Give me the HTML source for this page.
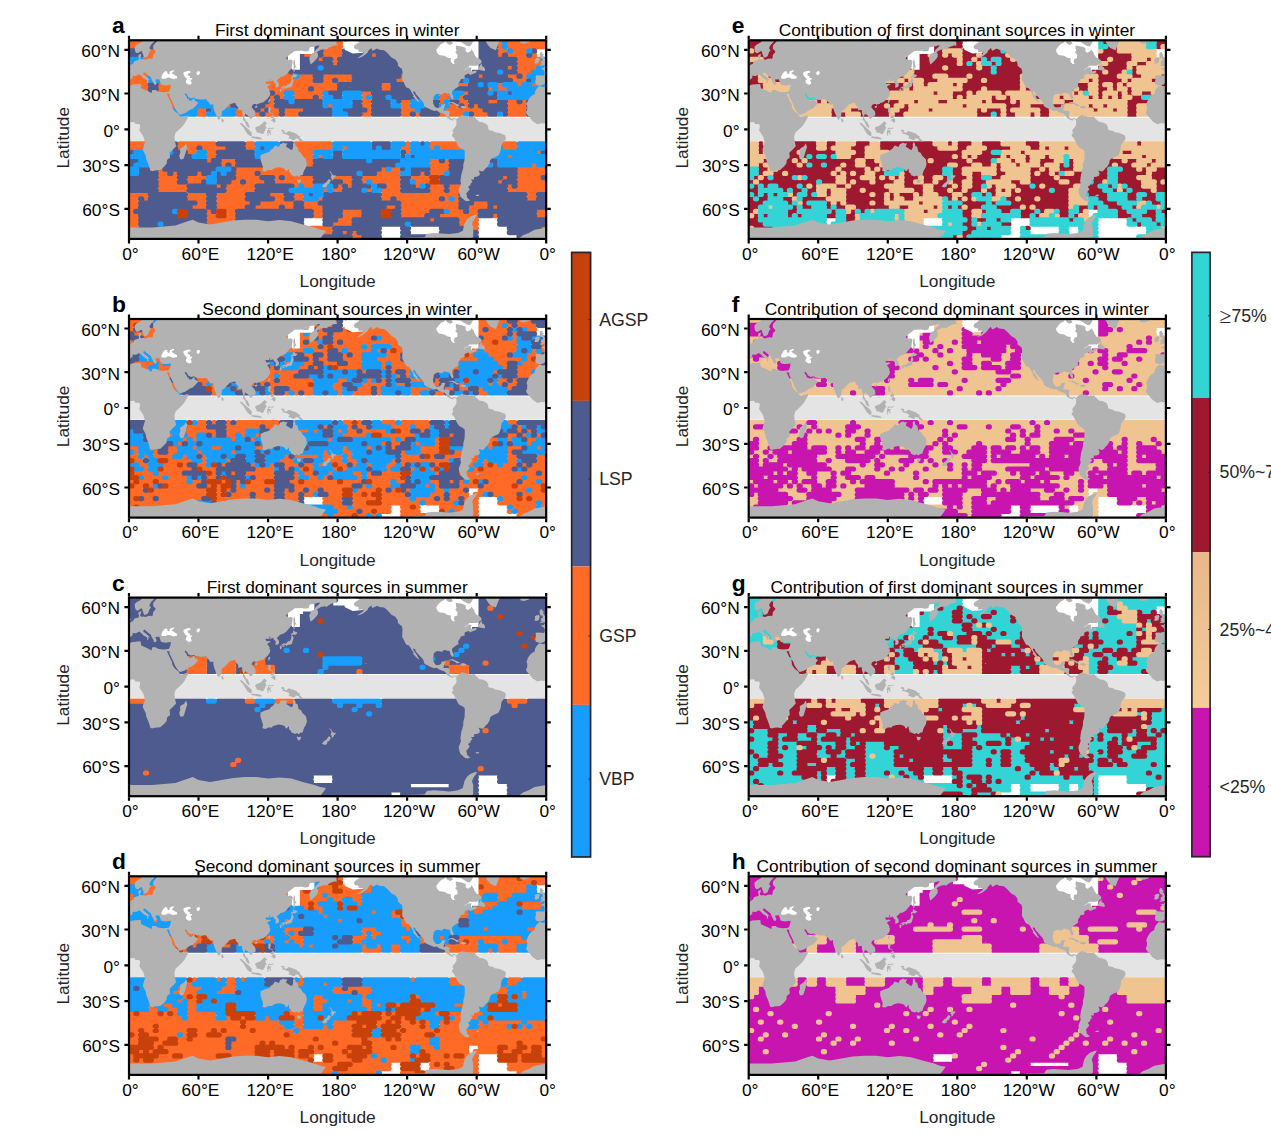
<!DOCTYPE html><html><head><meta charset="utf-8"><title>Dominant sources</title>
<style>html,body{margin:0;padding:0;background:#fff}svg{display:block}text{font-family:"Liberation Sans",Arial,sans-serif}</style></head><body>
<svg width="1271" height="1134" viewBox="0 0 1271 1134">
<defs>
<clipPath id="cp"><rect x="0" y="0" width="417.2" height="198.6"/></clipPath>
<g id="land1"><path fill="#b2b2b2" d="M-7,45.7 -2.3,46.6 3.5,44.3 11.6,43.7 12.2,48 17.4,50.1 22.6,52.8 23.2,49.7 26.7,49.7 29,51.1 33.6,51.9 37.4,51.6 39.6,51.5 37.8,53.3 41.1,60.6 43.1,64.3 43.2,67.1 45.8,70.9 50.1,74.3 50.2,75.6 52.1,76.8 59.3,75.1 59.1,76.9 55.6,83.2 53.3,86.1 49.3,90 46.7,92.2 45.4,96.5 45.9,100.6 47.1,105.9 44,109.1 40.6,112.5 41.1,117.3 38,119.8 37.7,123.3 35.3,126.1 31.3,129.7 25.5,130.2 23.2,131 21.3,130.2 20.6,127.4 19.1,123.1 17.2,118.6 16.7,115.3 13.7,109.5 16,101.8 14.3,96 10.4,90.1 11.2,85.2 10.1,83.8 6.4,83.8 5.2,81.7 1.7,81.9 -2.3,83.3 -5.2,83 -8.7,83.9 -13.2,81.1 -15.4,78.5 -17.4,76.2 -19.5,73.8 -20.2,71.8 -19,69.7 -18.9,66.1 -19.7,64.3 -18.5,60.9 -16.8,57.9 -14.9,55.8 -11.6,53.8 -11.2,51.2 -9.9,48.8ZM13.9,-13.6 13.9,-0.1 13.1,0.7 11.6,2.4 9.9,3.3 7.5,4.6 5.8,6.4 5.8,8.7 6.4,11.6 7.6,12.8 9.3,12.8 11,11.4 12.3,10.7 13,11.2 13.7,13.4 14.6,15.8 15.1,17.2 16.6,17.1 18.9,15.9 19.7,13.8 20.4,11.8 22,9.9 20.6,8.5 20.6,6.9 22.3,4.2 25,1.4 25.8,-0.8 29,-0.4 27.8,1.1 24.3,5.1 24.1,8.1 25.5,10 26.7,10.9 26.1,12.4 24.9,13.6 24.1,14.6 23.9,17.4 22.9,18.7 21.6,18.2 19.1,18.5 16.5,19.5 14.5,18.8 12.6,19.2 11.6,18.7 11,17.5 11.9,15.9 12.2,13.4 9.5,14.6 9.4,16.9 10.2,18 9.5,19.8 7.5,20.3 5.4,21 4.1,23.5 1.9,24.5 0.2,26.4 -2.1,26.1 -1.9,27.6 -3.5,27.5 -5.4,28.2 -2.5,29.8 -1.4,31.6 -1.4,33.6 -2.1,35.3 -4.6,35.2 -9.3,34.9 -10.7,35.6 -10.2,38 -11,41.8 -10.3,44.1 -7,45.1 -6.1,45.3 -2.3,44.3 -0.6,42.1 0.2,40.3 3.7,37.4 3.5,35.4 7,35.7 10.2,33.9 11.9,35.2 14.3,37.7 18.1,40 18.2,42.7 19.7,41.4 19.1,40.3 19.7,39.3 21.4,39.9 18.5,37.4 15.8,35.2 14.3,34 14.4,32.5 15.9,32.2 17.4,33.7 22,37.3 22.6,39.3 24.3,42.1 25.1,44.3 26.7,44.7 27.8,42.7 26.7,40.7 26.4,39.3 27.8,39.3 30.1,38.9 30.5,40 31.3,42.1 31.9,44.1 33.6,44.7 35.3,45 37.1,45.1 39.4,44.7 41.7,44.5 41.7,46.7 40.6,50 39.6,51.5 37.8,53.3 40.6,53.8 40.4,55.7 42.2,59.4 44.3,63.7 45.9,67.9 48.2,71.5 50.3,74.2 52.1,74.1 56.2,72.7 60.5,69.7 63.7,68.5 67.2,65.1 69.3,62.5 65.7,60.3 65.2,57.9 64,58.8 62.6,60.5 59.8,60.3 59.7,58.2 58.2,58.8 57.9,56.9 55.6,53.8 56.6,52.8 58.2,54.6 59.3,56.6 62.1,57.9 65.2,57.3 66.4,58.5 71.3,59.2 77.3,59 78.2,60.6 79.4,61.5 80.2,62.7 81.5,64.4 83.6,64.2 84.3,63.7 84.4,66.7 85.2,70.3 86.7,73.8 88.4,77.8 89.8,79.6 90.6,78.6 91.8,77 92.6,75 92.9,70.9 95.4,69.5 98.5,66.1 100.8,63.7 103.1,63.2 104.9,62.5 106.4,62.7 107,64.7 109.3,67.3 109.4,70.3 111.3,69.7 113.1,69.7 113.3,72.7 114.3,76.2 113.9,79.1 116.2,82 117.6,85.7 119.9,87.4 120.8,87.3 119.8,84.4 118.8,82 117,81 115.9,78.5 115,76.8 115.9,74.4 116.5,73.3 117,74.2 118.8,75 119.9,76.8 121.7,78.9 123.8,76.9 126.6,75.3 126.7,73.8 126.1,70.9 124,68.7 122.5,66.7 123.7,64.5 125.4,63.6 127.2,63.7 127.9,65.1 128.1,63.9 131.5,62.7 134.4,61.9 136.7,60 138.7,58.2 140.8,55.1 141.3,52.5 140,50.6 141.2,50.9 139.3,47.6 138.1,46.7 139.4,45.4 142,44.1 140.2,43.3 137.9,43.7 136.5,42.1 136.7,41.1 140.2,41.1 140.6,38.9 141.6,39.3 140.5,41.6 144,40.2 145.1,42.1 146.7,43.4 146.5,47.4 149.1,46.8 150,45.4 150,43.4 147.8,40.3 150.3,38 151.5,36.8 154.1,36.1 157,34.5 159.9,30.9 162.6,27.9 163.2,24.1 163.8,20.7 162,19.2 159.3,19.8 156.7,18.2 159.3,15.4 162.8,12.9 165.7,10.7 172.7,10.4 176.2,11.2 179.6,10.7 180.8,6.9 184.8,6.4 188.9,5.1 191.2,5.1 188.9,7.8 187.2,9 185.2,12.1 183.1,12.9 181.7,14.6 180.3,17.9 180.8,21 181.6,24.1 183.5,22.6 185.4,21 187.5,18.7 189.1,16.2 188.9,13.3 187.7,12.1 189.2,10.9 191.8,9.5 195.9,8.7 197.4,9.5 199.3,7.8 201.6,6.4 205.1,5.1 207.8,5.1 207.4,1.4 205.7,1.1 208.6,0.5 214.4,0.9 217.3,1.6 219,-0.4 220.2,-13.6ZM-194.7,-13.6 -194.7,-0.6 -186.6,1.6 -190.6,4.2 -191.8,5.1 -192.4,6.9 -191.2,8.7 -187.7,9.5 -187.7,11.8 -182.5,11.8 -183.1,13.8 -186.6,16.2 -188.9,17.9 -191,18.5 -186.6,17.5 -183.7,16.2 -180.8,14.1 -178.5,12.1 -177.9,10.4 -175,7.8 -173.8,10.4 -171.5,9.5 -169.2,8.1 -166.9,9.5 -162.2,9.9 -159.3,12.1 -157,14.6 -154.7,17.1 -151.8,18.7 -150.9,19.2 -148.9,21.8 -148.1,24.1 -148.7,24.9 -145.7,27.6 -144.5,28.1 -143.7,31.3 -143.9,35.9 -144,39.5 -142,43 -141.3,44.6 -139.8,47.2 -137.3,48 -135.8,49.8 -134.4,52.5 -132.5,55.1 -133.3,55.9 -130.1,59.7 -127.5,61.9 -126.9,61.3 -128.1,60 -129.2,57.6 -131,55.1 -132.9,52.5 -133,51 -131,51.6 -130.4,53.8 -128.1,56.3 -126.3,58.5 -123.4,61.5 -122.3,63.7 -122.3,65.5 -120.5,66.9 -118.2,68 -115.7,69.3 -111.8,70.6 -109.5,70.1 -107,72 -104.3,73 -101.6,73.8 -101.4,74.1 -99.4,76.2 -99.3,77.4 -97.3,78.5 -96.2,79.5 -94.4,80 -93.1,80.5 -92.7,79.1 -92.1,78.5 -90.4,79.4 -89.8,80.3 -89.6,78.9 -92.1,77.8 -93.9,78.8 -95.6,78.2 -96.8,76.8 -97,74.4 -96.4,71.5 -98.5,70.4 -102,70.5 -102.8,70.3 -102.2,67.9 -101.4,65.5 -100.8,63.7 -104.6,64.1 -105.1,66.1 -106.4,67.2 -109.5,67.7 -111.3,66.5 -112.8,63.7 -113.3,60.6 -112.6,58.2 -112.4,55.7 -110.1,54 -108.4,53.4 -106,54 -103.7,54.2 -103.1,52.8 -100.8,52.5 -99.1,53.2 -97.3,53.2 -96,54.4 -96,56.3 -94.8,58.2 -93.9,59.2 -92.9,58.8 -92.7,56.9 -94.2,53.2 -93.9,50.6 -92.1,49.3 -90.2,48 -87.6,46.3 -88.1,44.1 -87.5,42.7 -85.8,40.3 -85.8,39.2 -83.4,38.4 -81.1,37.7 -82,36.3 -81.1,34.7 -77.6,33.3 -76.5,34 -76.5,35 -73.6,33.6 -70.7,32.6 -69.5,31.6 -70.1,30.1 -74.7,31.3 -75.3,29 -74.5,27.3 -77.1,26.9 -79.4,27.9 -82.3,30.3 -80.5,28.2 -77.6,26.7 -77.1,25.4 -69.5,25.4 -66.1,23.4 -64.6,22.6 -64.9,20.3 -67.2,18.2 -69.5,17.4 -71.5,14.6 -72.4,12.1 -74.7,9 -75.3,10.4 -78.2,12.4 -80.5,11.2 -80.5,7.8 -83.4,6.5 -90.2,5.1 -90.4,8.1 -89.6,10.4 -91,11.8 -88.7,14.6 -88.9,17.9 -91.6,18.7 -92.4,21.8 -91.3,23.7 -93.3,23.7 -95.4,21.2 -95.4,17.9 -98.5,17.4 -102,15.4 -107.2,14.6 -109.5,11.8 -109.9,9.5 -107.2,6 -105.1,3.8 -102,2.4 -99.7,-1.4 -99.7,-13.6ZM-74.7,4.2 -76.5,6.2 -79.4,5.5 -82.9,3.3 -85.8,1.4 -90.4,1.1 -89.2,-13.6 -71.9,-13.6 -71.9,-1.4ZM-93.3,3.3 -96.2,4.7 -99.1,3.3 -100.8,0.5 -98.5,-1.4 -94.4,1.4ZM-68.7,29.3 -64.3,30.3 -61.4,30.6 -61.1,29.1 -62,26.9 -64.3,25.7 -64.3,23.4 -66.4,24.9 -67.2,27.2ZM-50.4,9.9 -55.6,7.8 -57.9,5.1 -60.3,1.4 -62,-1.4 -62.6,-13.6 -25.5,-13.6 -34.8,-5.3 -41.7,-1.4 -46.4,0.5 -48.1,4.2 -49.8,8.7ZM-27.8,-0.4 -25.5,2 -26.1,2.7 -22,3.5 -17.4,2 -15.8,0.5 -16.8,-2 -20.9,-1.8 -26.1,-2.2ZM-6.6,25.7 -4.1,25.2 -1.2,24.6 1.6,23.8 0.8,23.4 2,21.7 0.3,21 0,19.9 -1.7,17.9 -2.3,16.2 -3.5,16.2 -2.3,13.8 -4.1,13.4 -3.5,11.9 -5.8,11.9 -6.7,13.8 -6.4,16.2 -5.6,17.9 -3.7,18 -3.5,19.5 -3.5,20.4 -5.2,20.6 -4.9,22.1 -6,22.9 -4.1,23.5 -3.5,23.7 -5,24ZM-11.6,23.1 -9.3,23.1 -7.3,22.3 -7,20.3 -6.4,18.7 -7.3,17.5 -9.5,17.7 -11.6,19.2 -11,20.7 -11.6,22.3ZM-89.8,80.3 -89.6,78.9 -87.5,76.8 -86,75.8 -83.1,74.5 -82.6,76.2 -81.1,75.3 -79.2,76.5 -76.5,76.7 -74.2,76.8 -71.9,76.5 -70.7,77.9 -69.5,79.1 -66.6,81.7 -63.7,82 -60.3,83.4 -59.1,84.4 -57.9,86.9 -57.9,89 -56.2,90.1 -53.3,90.4 -51.3,92 -47.5,92.4 -44.6,93.4 -40.9,95.1 -40.3,97.7 -41.1,100 -43.2,102.4 -44.6,104.1 -45.2,107.1 -45.4,109.8 -46.4,112.5 -47.5,114.9 -49.8,116.1 -52.1,117.1 -55,118.6 -56.3,120.4 -56.6,122.9 -58.5,126.1 -60.6,128 -62,130 -63.7,131.1 -66.1,130.6 -67.7,130 -66.3,133 -66.8,135.3 -69.5,136.5 -72.1,136.6 -72.2,139.3 -75.3,139.3 -73.8,141.4 -75.6,143.5 -75.9,145 -78.2,146.4 -76.5,149 -78.2,151.3 -80,153.1 -79.2,155.8 -79.4,156.9 -76.5,159.6 -75.6,160 -78.8,160.9 -81.1,160.4 -83.4,158.5 -85.8,156.2 -86.9,153.1 -87.5,149.3 -86.3,146.4 -85.2,143.5 -85.8,140.7 -85.4,138 -84.9,134.2 -84,131.3 -82.9,127.4 -82.9,124.2 -81.7,119.8 -81.5,116.1 -81.4,111.9 -81.6,110.4 -83.4,108.9 -86.9,107.1 -88.4,105.1 -89.5,103 -91,100 -92.5,97.1 -94.1,96 -94.2,94.2 -93.1,92.9 -92.7,91.7 -93.8,91.3 -93.6,90.1 -92.7,88.4 -91.6,87.6 -91.2,87 -89.8,84.6 -89.7,82.6ZM-70.7,154.6 -67.2,154.3 -67.2,155.7 -70.1,155.8ZM131.5,114.9 132.1,114.7 135.4,113.1 137.9,112.5 140.8,111.3 141.7,109.5 143.1,108.9 144.3,107.7 146,105.3 148.1,105.9 149.3,106.5 150.1,106.4 151.2,103.6 153.6,103 153.8,102.3 156.4,103.2 158.5,103 157.4,105.3 157,106.5 159.3,107.7 161.7,109.5 163.2,109.5 164.2,106.5 164,103.8 165.1,101.6 166.3,103.6 166.6,105.8 168.4,106.5 169.2,109.5 169.5,111.3 172.1,112.7 173.3,115.3 174.8,116.7 177.1,118.9 177.5,121.7 177.9,123.3 177.3,126.1 176.5,128 175.2,130 174.2,132.6 173.8,134.6 171.5,135.1 169.7,136.6 167.8,135.3 166.3,136.3 163.8,135.5 162.2,134.6 161.7,132.6 160.2,132.1 159.9,129.3 159.6,128.3 158.8,129.7 157.6,131 157,130.9 155.5,128.4 153,127.4 149.5,126.9 146,127.8 143.7,128.7 143.1,129.8 139.1,129.8 136.7,131.3 134.4,131 133.3,130.4 134.1,127.4 133.3,124.8 132.3,121.7 131.5,119.2ZM167.7,138.9 169.8,139.5 171.9,139.2 171.9,141 170.9,142.5 169.2,143 168.3,141.1ZM200.1,130.5 202,131.7 202.8,133.2 203.8,134.6 205.4,135.3 206.9,134.9 206.2,136.9 205.1,137.3 204.3,139.3 203.2,140.2 202.6,139.7 202.8,138.2 201.4,137 202.3,135.9 202.5,133.9 200.7,131.5ZM200.1,138.6 202,140.3 200.5,142.5 200.3,143.4 198.5,144 197.9,146.3 195.9,147.3 194.1,146.7 193,146.1 195,143.5 197.6,141.8 199.3,139.2ZM-208.6,238.3 -208.6,205.5 -191.2,205.5 -183.1,205.5 -173.8,204.3 -162.2,201.8 -150.7,199.7 -146,198.5 -141.4,197.4 -129.8,197.1 -121.7,196.9 -119.4,193.5 -112.4,192.7 -104.3,193.1 -97.3,193.8 -92.7,193.3 -88.1,192.7 -83.4,190.5 -81.7,183.3 -79.4,179.4 -75.9,176.5 -72.4,174.9 -69,174.1 -70.1,176.5 -72.4,179.4 -74.2,183.3 -73,187.3 -73,191.6 -73,196 -74.2,198.3 -71.9,203 -52.1,205.5 -40.6,204.3 -34.8,200.6 -29,199.5 -23.2,194.9 -17.4,192.7 -11.6,189.4 -5.8,188.4 0,187.3 11.6,187.3 23.2,187.3 34.8,186.3 46.4,185.3 57.9,181.3 63.7,179.4 69.5,182.3 81.1,184.3 92.7,182.3 104.3,180.3 115.9,179.4 127.5,179.4 139.1,180.9 150.7,179.8 162.2,180.9 173.8,184.3 185.4,187.3 191.2,189.4 197,190.5 194.7,193.8 191.2,198.3 190.1,205.5 208.6,205.5 208.6,238.3ZM110.4,82.5 113,83 116.5,86.4 120.2,89.6 122.8,92.5 122.6,95.7 121.1,95.7 118.4,93.6 116.2,90.1 114.4,87 112.4,84.9ZM121.9,96.9 123.8,96 125.7,96.5 128.4,96.4 130.6,97 132.7,98 132.6,99.1 128.6,98.6 125.2,98 123.3,97.6ZM126.3,87.3 127,86.7 129,85.9 131,85.3 133.3,83.2 135.4,80.9 136.4,81.7 138.1,83 136.7,84 136.5,86.1 137.8,87.8 136.2,89 136.2,90.1 134.9,91.9 134.4,93.4 132.8,93.7 131,92.7 129.4,92.5 127.7,92.2 127.5,90.5 126.3,88.8ZM139.1,88.1 140.2,87.5 142.5,87.8 144.9,87.1 144.3,88.5 142.5,88.5 140.2,88.5 139.4,89.9 140.8,90 142.9,90 141.2,91.2 141.7,92.8 142.3,94.6 141.3,94.2 140.2,92.1 139.4,92.5 139.5,95.4 138.5,95.4 138.5,93 137.9,92.2 138.7,90.1ZM151.8,89.9 153.6,89.5 155.3,89.9 155.5,91.9 157,92.8 159.7,90.7 163.4,92 167.5,93.4 169,95.1 171.3,96 170.4,96.9 171.5,98.3 174.4,101 173.6,101.2 170.9,100.6 169.2,98.5 166.9,97.9 165.7,99.7 163.4,99.6 161.1,98.3 159.9,98.6 159.6,97.1 160.7,96.9 159.7,95.1 157,94.1 154.7,93.3 153.9,93.6 153.2,92.4 155.1,91.5 153,91.3ZM139.4,67.3 141.6,67.3 141.7,69.7 140.9,71.5 142,72.7 143.7,72.9 143.7,74.3 142.3,73.1 140.8,73 139.8,72.3 139.1,70.9 139.4,70.1ZM141.4,77.4 142.5,75.6 144.3,74.4 145.4,76 144.9,77.4 143.1,77.9ZM141.4,80.9 143.1,79 145.4,77.7 146.6,79.7 146.3,81.7 145.4,82.4 143.9,81.4 143.1,80.3ZM140.2,59.2 141.3,59.4 140.8,61.3 140,63.1 139.2,61.9 139.6,60ZM126,66.3 127.5,65.5 128.6,65.9 127.9,67.3 126.9,67.7 126,67.2ZM92.5,77.7 93.9,78.8 94.8,80.3 94.4,81.6 93.2,82 92.5,80.6ZM150.7,48.7 151.8,48.1 152.9,49.3 152.2,51.5 151,51.6 150.9,50ZM153.6,48 155.9,47.6 155.5,48.7 154.1,49.3 153.3,49.1ZM151.7,47.9 153.6,47.6 155.9,47.1 156.7,47.5 157.4,48.7 158.5,47.5 159.3,47.1 160.9,47.1 162,46.7 163.2,45.8 163.4,44.1 164.1,42.1 164.6,40.6 163.9,38.1 162.6,38.4 162.2,40 162,41.6 160.5,43.7 159,43.7 158.4,44.3 157.6,45.7 156.4,45.8 154.4,45.9 153,46.8 151.8,47.5ZM162.2,38 163.4,37.7 163.6,36.7 166.1,37.3 168.6,35.4 167.3,34.5 165.7,34 164.2,32.5 164.1,35.2 162.7,35.6 162,37ZM164.6,31.7 166.1,30.6 165.4,29.4 166,26.9 167.6,27.2 166.1,24.1 166.1,21 165.4,19 164.6,20.4 164.3,23.4 164.7,27.2 164.4,29.4ZM57.1,103 58.3,107.1 57.4,109.5 56.2,113.7 54.7,118.3 52.7,119.2 51,118.6 50.2,115.5 51.3,112.5 51,108.9 52.7,107.5 55,106.3 56.2,104.4ZM-98.3,63.2 -96.2,61.9 -93.3,61.7 -89.8,63.4 -86.9,64.7 -86,65.3 -89.8,65.6 -90.4,64.7 -92.7,63.4 -95,62.6ZM-86.2,67.3 -84.6,65.6 -82.3,65.7 -80.5,66.3 -79.3,67.2 -81.1,67.7 -82.9,68.3 -84,67.7ZM-90.7,67.4 -88.4,67.7 -89.2,68.1ZM-77.9,67.4 -76.1,67.5 -77.1,67.9ZM-180.8,65.3 -179.6,65.7 -180.3,66.7Z"/><path fill="#fff" d="M32.4,38 33.6,38.4 36.5,38.4 38.8,37.3 40.6,37.3 42.3,38.2 44.6,38.8 48.1,38 48.1,36.3 45.8,34.9 43.5,33.5 42.5,32.6 44.6,31.2 45.5,30 43.5,30.1 40.9,31.2 40.6,32.3 41.1,32.9 39.1,33.9 38,32.3 38.8,31.6 36.5,30.7 35.3,31.6 34.4,32.7 33.3,34.5 32.4,36.6ZM54.5,32.3 57.4,30.9 59.7,30.4 61.4,30.9 61.4,32.6 59.5,32.6 59.1,33.7 58.3,34 59.7,35.6 61.2,36.1 60.8,37.8 63.2,37.8 62.9,38.9 61.3,40 62.3,41.4 62.5,43.7 60.3,44.5 58.3,43.7 56.8,42.1 57.1,39.6 58.3,39.5 57.4,38 56,36.6 55,35.2 54.5,33.7ZM67.6,32.3 69,30.7 70.7,31.2 71,33 69.5,35 67.9,34.5Z"/></g>
<g id="nd1"><path fill="#fff" d="M-115.9,-1.4 -67.7,-1.4 -67.7,29.4 -74.2,29.4 -74.2,31.6 -83.4,31.6 -115.9,31.6ZM158.8,6 185.4,6 185.4,13.8 170.9,13.8 170.9,29.4 163.4,29.4 158.8,22.6ZM215.6,-1.4 234.1,-1.4 234.1,12.4 223.7,13.3 215.6,9.5Z"/></g>
<g id="nodata"><use href="#nd1"/><use href="#nd1" x="417.2"/><use href="#nd1" x="-417.2"/></g>
<g id="land"><use href="#land1"/><use href="#land1" x="417.2"/><use href="#land1" x="-417.2"/></g>
</defs>
<rect width="1271" height="1134" fill="#fff"/>
<g transform="translate(129,40.3)">
<g clip-path="url(#cp)">
<path d="M1.9,2.1h10.8M191.1,2.1h20.5M370.6,2.1h1.1M380.3,2.1h35M1.9,6.3h10.8M191.1,6.3h20.5M370.6,6.3h1.1M380.3,6.3h35M16.5,10.6h49.6M176.5,10.6h5.9M195.9,10.6h15.6M370.6,10.6h5.9M385.1,10.6h10.8M16.5,14.8h49.6M123.2,14.8h15.6M176.5,14.8h5.9M195.9,14.8h15.6M244.5,14.8h1.1M370.6,14.8h1.1M380.3,14.8h15.6M404.5,14.8h1.1M16.5,19h44.7M118.3,19h25.3M191.1,19h1.1M205.6,19h1.1M390,19h20.5M21.3,23.2h35M113.5,23.2h35M205.6,23.2h1.1M390,23.2h20.5M16.5,27.5h1.1M98.9,27.5h54.4M380.3,27.5h1.1M390,27.5h15.6M6.8,31.7h10.8M94.1,31.7h64.1M278.4,31.7h20.5M390,31.7h10.8M1.9,35.9h15.6M94.1,35.9h69M171.7,35.9h10.8M195.9,35.9h25.3M273.6,35.9h25.3M351.2,35.9h1.1M380.3,35.9h5.9M394.8,35.9h1.1M1.9,40.1h15.6M35.9,40.1h20.5M94.1,40.1h88.4M195.9,40.1h5.9M210.5,40.1h10.8M268.7,40.1h25.3M312.4,40.1h1.1M385.1,40.1h10.8M1.9,44.4h15.6M31,44.4h25.3M94.1,44.4h112.6M254.2,44.4h5.9M278.4,44.4h15.6M312.4,44.4h25.3M370.6,44.4h1.1M390,44.4h1.1M404.5,44.4h5.9M1.9,48.6h15.6M31,48.6h20.5M94.1,48.6h83.5M186.2,48.6h20.5M254.2,48.6h5.9M312.4,48.6h5.9M360.9,48.6h1.1M370.6,48.6h5.9M1.9,52.8h15.6M31,52.8h20.5M94.1,52.8h20.5M147.4,52.8h5.9M166.8,52.8h25.3M234.8,52.8h5.9M312.4,52.8h5.9M336.6,52.8h1.1M6.8,57h10.8M31,57h20.5M94.1,57h20.5M142.6,57h1.1M152.3,57h1.1M166.8,57h15.6M191.1,57h1.1M234.8,57h1.1M312.4,57h5.9M331.8,57h1.1M6.8,61.3h10.8M26.2,61.3h25.3M94.1,61.3h20.5M142.6,61.3h1.1M234.8,61.3h5.9M273.6,61.3h5.9M312.4,61.3h1.1M331.8,61.3h5.9M360.9,61.3h5.9M380.3,61.3h5.9M394.8,61.3h1.1M11.6,65.5h39.9M94.1,65.5h5.9M113.5,65.5h1.1M137.7,65.5h5.9M200.8,65.5h1.1M234.8,65.5h5.9M273.6,65.5h5.9M322.1,65.5h5.9M336.6,65.5h1.1M346.3,65.5h1.1M380.3,65.5h15.6M16.5,69.7h25.3M69.8,69.7h5.9M108.6,69.7h5.9M132.9,69.7h1.1M142.6,69.7h5.9M157.1,69.7h15.6M239.6,69.7h1.1M273.6,69.7h10.8M317.2,69.7h35M380.3,69.7h15.6M69.8,73.9h5.9M108.6,73.9h5.9M128,73.9h1.1M137.7,73.9h10.8M157.1,73.9h10.8M234.8,73.9h5.9M273.6,73.9h5.9M288.1,73.9h1.1M312.4,73.9h20.5M346.3,73.9h10.8M380.3,73.9h15.6M1.9,103.5h20.5M50.4,103.5h35M118.3,103.5h5.9M166.8,103.5h35M278.4,103.5h1.1M302.7,103.5h83.5M1.9,107.8h20.5M50.4,107.8h15.6M74.7,107.8h20.5M118.3,107.8h5.9M166.8,107.8h35M215.4,107.8h1.1M273.6,107.8h5.9M302.7,107.8h1.1M312.4,107.8h35M375.4,107.8h10.8M60.1,112h5.9M79.5,112h5.9M166.8,112h15.6M278.4,112h1.1M409.4,112h1.1M79.5,116.2h5.9M166.8,116.2h15.6M191.1,116.2h1.1M380.3,116.2h1.1M79.5,120.4h1.1M94.1,120.4h10.8M147.4,120.4h35M302.7,120.4h5.9M317.2,120.4h1.1M31,124.7h1.1M94.1,124.7h1.1M103.8,124.7h1.1M142.6,124.7h39.9M302.7,124.7h15.6M404.5,124.7h1.1M31,128.9h1.1M108.6,128.9h54.4M254.2,128.9h1.1M263.9,128.9h5.9M302.7,128.9h15.6M390,128.9h25.3M31,133.1h5.9M45.6,133.1h1.1M69.8,133.1h1.1M108.6,133.1h15.6M132.9,133.1h35M249.3,133.1h20.5M293,133.1h1.1M302.7,133.1h10.8M390,133.1h25.3M31,137.3h15.6M60.1,137.3h15.6M108.6,137.3h20.5M147.4,137.3h1.1M157.1,137.3h25.3M205.6,137.3h15.6M234.8,137.3h35M283.3,137.3h15.6M375.4,137.3h1.1M390,137.3h20.5M31,141.6h15.6M60.1,141.6h10.8M103.8,141.6h5.9M118.3,141.6h15.6M147.4,141.6h35M215.4,141.6h5.9M234.8,141.6h1.1M244.5,141.6h25.3M288.1,141.6h10.8M370.6,141.6h1.1M390,141.6h25.3M31,145.8h25.3M89.2,145.8h1.1M98.9,145.8h25.3M166.8,145.8h1.1M176.5,145.8h5.9M210.5,145.8h1.1M220.2,145.8h1.1M259,145.8h10.8M288.1,145.8h1.1M302.7,145.8h10.8M322.1,145.8h10.8M380.3,145.8h1.1M390,145.8h25.3M31,150h25.3M98.9,150h25.3M195.9,150h1.1M205.6,150h5.9M239.6,150h1.1M254.2,150h15.6M302.7,150h10.8M322.1,150h10.8M380.3,150h35M1.9,154.2h15.6M60.1,154.2h15.6M89.2,154.2h25.3M142.6,154.2h10.8M166.8,154.2h5.9M254.2,154.2h73.8M399.7,154.2h5.9M1.9,158.5h5.9M16.5,158.5h1.1M60.1,158.5h15.6M89.2,158.5h25.3M147.4,158.5h5.9M166.8,158.5h5.9M191.1,158.5h1.1M254.2,158.5h5.9M268.7,158.5h39.9M317.2,158.5h1.1M326.9,158.5h1.1M399.7,158.5h5.9M1.9,162.7h5.9M69.8,162.7h5.9M89.2,162.7h30.2M132.9,162.7h30.2M176.5,162.7h10.8M273.6,162.7h54.4M346.3,162.7h10.8M1.9,166.9h5.9M65,166.9h10.8M89.2,166.9h25.3M128,166.9h20.5M157.1,166.9h5.9M176.5,166.9h15.6M259,166.9h5.9M273.6,166.9h54.4M341.5,166.9h15.6M365.7,166.9h1.1M1.9,171.1h1.1M79.5,171.1h1.1M98.9,171.1h5.9M186.2,171.1h5.9M215.4,171.1h15.6M273.6,171.1h25.3M322.1,171.1h10.8M341.5,171.1h5.9M409.4,171.1h5.9M1.9,175.4h5.9M79.5,175.4h5.9M98.9,175.4h5.9M186.2,175.4h5.9M215.4,175.4h15.6M273.6,175.4h20.5M312.4,175.4h35M365.7,175.4h1.1M409.4,175.4h5.9M1.9,179.6h5.9M79.5,179.6h25.3M210.5,179.6h10.8M302.7,179.6h1.1M331.8,179.6h15.6M1.9,183.8h5.9M79.5,183.8h25.3M205.6,183.8h15.6M331.8,183.8h15.6M1.9,188h5.9M79.5,188h25.3M181.4,188h20.5M336.6,188h10.8M414.2,188h1.1M1.9,192.3h5.9M79.5,192.3h25.3M181.4,192.3h20.5M215.4,192.3h1.1M225.1,192.3h1.1M414.2,192.3h1.1M1.9,196.5h5.9M79.5,196.5h25.3M225.1,196.5h5.9M414.2,196.5h1.1" stroke="#ff6a27" stroke-width="5.2" stroke-linecap="round" fill="none"/><path d="M16.5,2.1h49.6M128,2.1h59.3M225.1,2.1h64.1M322.1,2.1h20.5M351.2,2.1h15.6M16.5,6.3h49.6M128,6.3h59.3M225.1,6.3h69M317.2,6.3h20.5M351.2,6.3h15.6M1.9,10.6h10.8M128,10.6h44.7M186.2,10.6h5.9M215.4,10.6h83.5M326.9,10.6h39.9M404.5,10.6h1.1M1.9,14.8h10.8M142.6,14.8h30.2M186.2,14.8h5.9M215.4,14.8h25.3M249.3,14.8h59.3M331.8,14.8h35M375.4,14.8h1.1M399.7,14.8h1.1M147.4,19h39.9M195.9,19h5.9M210.5,19h175.7M152.3,23.2h49.6M210.5,23.2h175.7M157.1,27.5h30.2M195.9,27.5h180.5M385.1,27.5h1.1M162,31.7h112.6M307.5,31.7h59.3M375.4,31.7h10.8M186.2,35.9h5.9M225.1,35.9h44.7M336.6,35.9h10.8M356,35.9h20.5M390,35.9h1.1M186.2,40.1h5.9M205.6,40.1h1.1M225.1,40.1h39.9M317.2,40.1h15.6M341.5,40.1h39.9M399.7,40.1h1.1M21.3,44.4h5.9M210.5,44.4h39.9M263.9,44.4h10.8M341.5,44.4h5.9M356,44.4h1.1M21.3,48.6h5.9M181.4,48.6h1.1M210.5,48.6h39.9M263.9,48.6h30.2M326.9,48.6h30.2M21.3,52.8h5.9M118.3,52.8h25.3M200.8,52.8h10.8M244.5,52.8h49.6M341.5,52.8h15.6M365.7,52.8h1.1M380.3,52.8h1.1M21.3,57h5.9M118.3,57h20.5M147.4,57h1.1M186.2,57h1.1M205.6,57h5.9M244.5,57h10.8M263.9,57h30.2M336.6,57h30.2M1.9,61.3h1.1M21.3,61.3h1.1M118.3,61.3h20.5M147.4,61.3h10.8M166.8,61.3h25.3M225.1,61.3h5.9M244.5,61.3h15.6M268.7,61.3h1.1M297.8,61.3h10.8M322.1,61.3h5.9M341.5,61.3h15.6M370.6,61.3h5.9M390,61.3h1.1M399.7,61.3h15.6M1.9,65.5h5.9M103.8,65.5h5.9M118.3,65.5h15.6M147.4,65.5h44.7M225.1,65.5h5.9M244.5,65.5h15.6M297.8,65.5h10.8M331.8,65.5h1.1M341.5,65.5h1.1M351.2,65.5h25.3M399.7,65.5h15.6M1.9,69.7h10.8M79.5,69.7h1.1M118.3,69.7h10.8M137.7,69.7h1.1M152.3,69.7h1.1M176.5,69.7h25.3M215.4,69.7h20.5M244.5,69.7h25.3M293,69.7h15.6M356,69.7h20.5M399.7,69.7h15.6M1.9,73.9h15.6M118.3,73.9h5.9M132.9,73.9h1.1M152.3,73.9h1.1M171.7,73.9h30.2M220.2,73.9h10.8M244.5,73.9h25.3M283.3,73.9h1.1M293,73.9h15.6M341.5,73.9h1.1M360.9,73.9h5.9M375.4,73.9h1.1M399.7,73.9h15.6M26.2,103.5h20.5M89.2,103.5h25.3M152.3,103.5h10.8M244.5,103.5h15.6M293,103.5h1.1M26.2,107.8h20.5M69.8,107.8h1.1M98.9,107.8h15.6M132.9,107.8h1.1M152.3,107.8h10.8M244.5,107.8h1.1M254.2,107.8h5.9M1.9,112h1.1M45.6,112h10.8M89.2,112h35M152.3,112h10.8M205.6,112h5.9M273.6,112h1.1M414.2,112h1.1M26.2,116.2h35M89.2,116.2h35M152.3,116.2h10.8M205.6,116.2h5.9M273.6,116.2h1.1M283.3,116.2h1.1M346.3,116.2h15.6M1.9,120.4h5.9M31,120.4h44.7M84.4,120.4h5.9M108.6,120.4h35M186.2,120.4h49.6M244.5,120.4h25.3M312.4,120.4h1.1M322.1,120.4h44.7M1.9,124.7h1.1M26.2,124.7h1.1M35.9,124.7h54.4M98.9,124.7h1.1M108.6,124.7h30.2M186.2,124.7h78.7M322.1,124.7h30.2M365.7,124.7h1.1M11.6,128.9h15.6M35.9,128.9h49.6M103.8,128.9h1.1M166.8,128.9h83.5M273.6,128.9h1.1M283.3,128.9h15.6M322.1,128.9h64.1M11.6,133.1h15.6M40.7,133.1h1.1M50.4,133.1h15.6M74.7,133.1h5.9M89.2,133.1h1.1M98.9,133.1h5.9M128,133.1h1.1M171.7,133.1h54.4M234.8,133.1h10.8M283.3,133.1h5.9M297.8,133.1h1.1M322.1,133.1h64.1M1.9,137.3h25.3M50.4,137.3h5.9M89.2,137.3h15.6M132.9,137.3h10.8M152.3,137.3h1.1M186.2,137.3h15.6M225.1,137.3h5.9M273.6,137.3h5.9M312.4,137.3h59.3M380.3,137.3h5.9M414.2,137.3h1.1M1.9,141.6h25.3M50.4,141.6h5.9M74.7,141.6h1.1M89.2,141.6h10.8M113.5,141.6h1.1M137.7,141.6h5.9M186.2,141.6h25.3M225.1,141.6h5.9M273.6,141.6h5.9M312.4,141.6h54.4M375.4,141.6h10.8M1.9,145.8h25.3M60.1,145.8h25.3M94.1,145.8h1.1M128,145.8h35M205.6,145.8h1.1M215.4,145.8h1.1M225.1,145.8h15.6M249.3,145.8h5.9M273.6,145.8h10.8M297.8,145.8h1.1M317.2,145.8h1.1M336.6,145.8h39.9M385.1,145.8h1.1M1.9,150h25.3M60.1,150h35M128,150h30.2M215.4,150h15.6M273.6,150h25.3M317.2,150h1.1M336.6,150h39.9M21.3,154.2h35M79.5,154.2h5.9M118.3,154.2h20.5M157.1,154.2h5.9M181.4,154.2h1.1M195.9,154.2h54.4M331.8,154.2h64.1M409.4,154.2h5.9M11.6,158.5h1.1M21.3,158.5h35M79.5,158.5h5.9M118.3,158.5h25.3M157.1,158.5h5.9M195.9,158.5h54.4M263.9,158.5h1.1M312.4,158.5h1.1M331.8,158.5h64.1M409.4,158.5h5.9M11.6,162.7h54.4M79.5,162.7h5.9M123.2,162.7h5.9M166.8,162.7h5.9M191.1,162.7h78.7M331.8,162.7h10.8M360.9,162.7h54.4M11.6,166.9h49.6M79.5,166.9h5.9M118.3,166.9h5.9M152.3,166.9h1.1M166.8,166.9h5.9M195.9,166.9h59.3M268.7,166.9h1.1M331.8,166.9h5.9M360.9,166.9h1.1M370.6,166.9h44.7M6.8,171.1h35M60.1,171.1h15.6M84.4,171.1h1.1M108.6,171.1h73.8M195.9,171.1h15.6M234.8,171.1h15.6M263.9,171.1h5.9M302.7,171.1h10.8M336.6,171.1h1.1M351.2,171.1h54.4M11.6,175.4h35M60.1,175.4h15.6M108.6,175.4h73.8M195.9,175.4h15.6M234.8,175.4h15.6M263.9,175.4h5.9M297.8,175.4h10.8M351.2,175.4h10.8M370.6,175.4h35M11.6,179.6h64.1M108.6,179.6h64.1M195.9,179.6h10.8M225.1,179.6h73.8M307.5,179.6h20.5M370.6,179.6h44.7M11.6,183.8h15.6M35.9,183.8h39.9M108.6,183.8h64.1M195.9,183.8h5.9M225.1,183.8h49.6M283.3,183.8h44.7M370.6,183.8h44.7M11.6,188h64.1M108.6,188h69M205.6,188h44.7M273.6,188h5.9M312.4,188h20.5M380.3,188h30.2M11.6,192.3h64.1M108.6,192.3h69M205.6,192.3h5.9M220.2,192.3h1.1M229.9,192.3h20.5M273.6,192.3h5.9M312.4,192.3h35M380.3,192.3h30.2M11.6,196.5h64.1M108.6,196.5h112.6M234.8,196.5h15.6M273.6,196.5h73.8M390,196.5h20.5" stroke="#4e5b8e" stroke-width="5.2" stroke-linecap="round" fill="none"/><path d="M375.4,2.1h1.1M375.4,6.3h1.1M380.3,10.6h1.1M399.7,10.6h1.1M1.9,19h10.8M414.2,19h1.1M1.9,23.2h15.6M414.2,23.2h1.1M1.9,27.5h10.8M21.3,27.5h64.1M191.1,27.5h1.1M409.4,27.5h5.9M1.9,31.7h1.1M21.3,31.7h69M302.7,31.7h1.1M370.6,31.7h1.1M404.5,31.7h10.8M21.3,35.9h69M166.8,35.9h1.1M302.7,35.9h30.2M399.7,35.9h15.6M21.3,40.1h10.8M60.1,40.1h30.2M297.8,40.1h10.8M336.6,40.1h1.1M404.5,40.1h10.8M60.1,44.4h30.2M297.8,44.4h10.8M351.2,44.4h1.1M360.9,44.4h5.9M375.4,44.4h10.8M394.8,44.4h5.9M414.2,44.4h1.1M55.3,48.6h35M297.8,48.6h10.8M322.1,48.6h1.1M365.7,48.6h1.1M380.3,48.6h35M55.3,52.8h35M157.1,52.8h5.9M195.9,52.8h1.1M215.4,52.8h15.6M297.8,52.8h10.8M322.1,52.8h10.8M360.9,52.8h1.1M370.6,52.8h5.9M385.1,52.8h30.2M1.9,57h1.1M55.3,57h35M157.1,57h5.9M195.9,57h5.9M215.4,57h15.6M239.6,57h1.1M259,57h1.1M297.8,57h10.8M322.1,57h5.9M370.6,57h44.7M55.3,61.3h35M162,61.3h1.1M195.9,61.3h25.3M263.9,61.3h1.1M283.3,61.3h10.8M317.2,61.3h1.1M55.3,65.5h35M195.9,65.5h1.1M205.6,65.5h15.6M263.9,65.5h5.9M283.3,65.5h10.8M312.4,65.5h5.9M45.6,69.7h20.5M84.4,69.7h20.5M205.6,69.7h5.9M288.1,69.7h1.1M312.4,69.7h1.1M21.3,73.9h44.7M79.5,73.9h25.3M205.6,73.9h10.8M336.6,73.9h1.1M370.6,73.9h1.1M128,103.5h20.5M205.6,103.5h35M263.9,103.5h10.8M283.3,103.5h5.9M297.8,103.5h1.1M390,103.5h25.3M128,107.8h1.1M137.7,107.8h10.8M205.6,107.8h5.9M220.2,107.8h20.5M249.3,107.8h1.1M263.9,107.8h5.9M283.3,107.8h15.6M307.5,107.8h1.1M351.2,107.8h20.5M390,107.8h25.3M6.8,112h35M69.8,112h5.9M128,112h20.5M186.2,112h15.6M215.4,112h54.4M283.3,112h122.3M1.9,116.2h20.5M65,116.2h10.8M128,116.2h20.5M186.2,116.2h1.1M195.9,116.2h5.9M215.4,116.2h54.4M278.4,116.2h1.1M288.1,116.2h54.4M365.7,116.2h10.8M385.1,116.2h30.2M11.6,120.4h15.6M239.6,120.4h1.1M273.6,120.4h25.3M370.6,120.4h44.7M6.8,124.7h15.6M268.7,124.7h30.2M356,124.7h5.9M370.6,124.7h30.2M409.4,124.7h5.9M1.9,128.9h5.9M89.2,128.9h10.8M259,128.9h1.1M278.4,128.9h1.1M1.9,133.1h5.9M84.4,133.1h1.1M94.1,133.1h1.1M229.9,133.1h1.1M273.6,133.1h5.9M317.2,133.1h1.1M79.5,137.3h5.9M79.5,141.6h5.9M239.6,141.6h1.1M283.3,141.6h1.1M171.7,145.8h1.1M186.2,145.8h15.6M244.5,145.8h1.1M293,145.8h1.1M162,150h30.2M200.8,150h1.1M234.8,150h1.1M244.5,150h5.9M176.5,154.2h1.1M186.2,154.2h5.9M176.5,158.5h10.8M322.1,158.5h1.1M45.6,171.1h1.1M317.2,171.1h1.1M31,183.8h1.1M278.4,183.8h1.1" stroke="#169dfe" stroke-width="5.2" stroke-linecap="round" fill="none"/><path d="M302.7,137.3h5.9M302.7,141.6h5.9M50.4,171.1h5.9M89.2,171.1h5.9M254.2,171.1h5.9M50.4,175.4h5.9M89.2,175.4h5.9M254.2,175.4h5.9" stroke="#c8400a" stroke-width="5.2" stroke-linecap="round" fill="none"/>
<use href="#nodata"/>
<rect x="0" y="77.4" width="417.2" height="23.3" fill="#e4e4e4"/>
<use href="#land"/>
</g>
<rect x="0" y="0" width="417.2" height="198.6" fill="none" stroke="#000" stroke-width="2.2"/>
<path d="M0,-1v-3.6M0,199.6v3.6M69.5,-1v-3.6M69.5,199.6v3.6M139.1,-1v-3.6M139.1,199.6v3.6M208.6,-1v-3.6M208.6,199.6v3.6M278.1,-1v-3.6M278.1,199.6v3.6M347.7,-1v-3.6M347.7,199.6v3.6M417.2,-1v-3.6M417.2,199.6v3.6M-1,9.5h-3.6M418.2,9.5h3.6M-1,53.2h-3.6M418.2,53.2h3.6M-1,89h-3.6M418.2,89h3.6M-1,124.8h-3.6M418.2,124.8h3.6M-1,168.5h-3.6M418.2,168.5h3.6" stroke="#000" stroke-width="2.2" fill="none"/>
<text x="1.5" y="219.3" font-size="17.33" text-anchor="middle">0°</text>
<text x="71.5" y="219.3" font-size="17.33" text-anchor="middle">60°E</text>
<text x="141.1" y="219.3" font-size="17.33" text-anchor="middle">120°E</text>
<text x="210.1" y="219.3" font-size="17.33" text-anchor="middle">180°</text>
<text x="280.1" y="219.3" font-size="17.33" text-anchor="middle">120°W</text>
<text x="349.7" y="219.3" font-size="17.33" text-anchor="middle">60°W</text>
<text x="418.7" y="219.3" font-size="17.33" text-anchor="middle">0°</text>
<text x="-9" y="16.8" font-size="17.33" text-anchor="end">60°N</text>
<text x="-9" y="60.5" font-size="17.33" text-anchor="end">30°N</text>
<text x="-9" y="96.3" font-size="17.33" text-anchor="end">0°</text>
<text x="-9" y="132.1" font-size="17.33" text-anchor="end">30°S</text>
<text x="-9" y="175.8" font-size="17.33" text-anchor="end">60°S</text>
<text x="208.6" y="246.8" font-size="17.33" text-anchor="middle" fill="#262626">Longitude</text>
<text transform="translate(-60.5,97.4) rotate(-90)" font-size="17.33" text-anchor="middle" fill="#262626">Latitude</text>
<text x="208.2" y="-4.3" font-size="17.33" text-anchor="middle">First dominant sources in winter</text>
<text x="-17" y="-6.9" font-size="22.8" font-weight="bold">a</text>
</g>
<g transform="translate(129,319)">
<g clip-path="url(#cp)">
<path d="M1.9,2.1h20.5M171.7,2.1h5.9M225.1,2.1h1.1M234.8,2.1h54.4M322.1,2.1h20.5M351.2,2.1h25.3M390,2.1h10.8M1.9,6.3h1.1M26.2,6.3h39.9M128,6.3h39.9M181.4,6.3h5.9M200.8,6.3h1.1M225.1,6.3h1.1M234.8,6.3h59.3M317.2,6.3h20.5M351.2,6.3h20.5M380.3,6.3h1.1M390,6.3h15.6M1.9,10.6h1.1M16.5,10.6h49.6M128,10.6h44.7M181.4,10.6h1.1M191.1,10.6h1.1M215.4,10.6h1.1M225.1,10.6h1.1M234.8,10.6h64.1M326.9,10.6h25.3M360.9,10.6h15.6M399.7,10.6h5.9M6.8,14.8h59.3M142.6,14.8h30.2M181.4,14.8h15.6M205.6,14.8h98.1M346.3,14.8h30.2M385.1,14.8h1.1M16.5,19h44.7M147.4,19h35M191.1,19h1.1M205.6,19h35M254.2,19h49.6M346.3,19h1.1M356,19h15.6M385.1,19h1.1M1.9,23.2h1.1M21.3,23.2h35M147.4,23.2h25.3M181.4,23.2h5.9M205.6,23.2h1.1M215.4,23.2h117.5M346.3,23.2h15.6M370.6,23.2h15.6M414.2,23.2h1.1M1.9,27.5h1.1M69.8,27.5h15.6M147.4,27.5h39.9M195.9,27.5h1.1M205.6,27.5h25.3M239.6,27.5h1.1M263.9,27.5h122.3M414.2,27.5h1.1M1.9,31.7h1.1M69.8,31.7h20.5M152.3,31.7h20.5M186.2,31.7h10.8M210.5,31.7h1.1M220.2,31.7h20.5M249.3,31.7h1.1M259,31.7h1.1M268.7,31.7h5.9M307.5,31.7h39.9M356,31.7h30.2M404.5,31.7h1.1M414.2,31.7h1.1M69.8,35.9h20.5M152.3,35.9h1.1M176.5,35.9h5.9M195.9,35.9h1.1M215.4,35.9h1.1M225.1,35.9h5.9M259,35.9h10.8M312.4,35.9h20.5M341.5,35.9h1.1M360.9,35.9h15.6M399.7,35.9h10.8M26.2,40.1h5.9M69.8,40.1h20.5M181.4,40.1h1.1M191.1,40.1h5.9M215.4,40.1h15.6M249.3,40.1h20.5M312.4,40.1h35M365.7,40.1h25.3M399.7,40.1h1.1M6.8,44.4h15.6M31,44.4h1.1M69.8,44.4h20.5M157.1,44.4h1.1M176.5,44.4h5.9M195.9,44.4h10.8M220.2,44.4h10.8M254.2,44.4h1.1M263.9,44.4h30.2M312.4,44.4h15.6M370.6,44.4h5.9M394.8,44.4h15.6M1.9,48.6h15.6M31,48.6h20.5M69.8,48.6h20.5M113.5,48.6h5.9M142.6,48.6h1.1M171.7,48.6h5.9M186.2,48.6h1.1M210.5,48.6h20.5M254.2,48.6h1.1M263.9,48.6h20.5M317.2,48.6h10.8M375.4,48.6h1.1M390,48.6h25.3M1.9,52.8h15.6M31,52.8h15.6M69.8,52.8h20.5M113.5,52.8h54.4M234.8,52.8h1.1M263.9,52.8h1.1M278.4,52.8h1.1M322.1,52.8h1.1M365.7,52.8h1.1M390,52.8h10.8M1.9,57h15.6M31,57h10.8M69.8,57h20.5M113.5,57h30.2M152.3,57h10.8M268.7,57h1.1M278.4,57h1.1M390,57h25.3M1.9,61.3h15.6M31,61.3h5.9M69.8,61.3h20.5M113.5,61.3h30.2M152.3,61.3h30.2M210.5,61.3h5.9M239.6,61.3h1.1M254.2,61.3h1.1M283.3,61.3h10.8M307.5,61.3h1.1M370.6,61.3h5.9M385.1,61.3h1.1M404.5,61.3h10.8M6.8,65.5h10.8M31,65.5h20.5M74.7,65.5h1.1M84.4,65.5h5.9M113.5,65.5h10.8M132.9,65.5h1.1M142.6,65.5h35M205.6,65.5h5.9M234.8,65.5h20.5M268.7,65.5h5.9M302.7,65.5h5.9M331.8,65.5h1.1M360.9,65.5h1.1M370.6,65.5h1.1M380.3,65.5h5.9M6.8,69.7h10.8M26.2,69.7h25.3M84.4,69.7h5.9M108.6,69.7h1.1M142.6,69.7h1.1M162,69.7h20.5M205.6,69.7h5.9M229.9,69.7h10.8M249.3,69.7h1.1M283.3,69.7h15.6M317.2,69.7h5.9M331.8,69.7h5.9M351.2,69.7h1.1M380.3,69.7h1.1M11.6,73.9h5.9M84.4,73.9h5.9M142.6,73.9h1.1M157.1,73.9h1.1M166.8,73.9h1.1M176.5,73.9h5.9M210.5,73.9h1.1M225.1,73.9h15.6M249.3,73.9h1.1M283.3,73.9h5.9M307.5,73.9h5.9M351.2,73.9h5.9M69.8,103.5h5.9M84.4,103.5h1.1M98.9,103.5h1.1M108.6,103.5h39.9M215.4,103.5h5.9M229.9,103.5h1.1M254.2,103.5h10.8M273.6,103.5h25.3M380.3,103.5h5.9M60.1,107.8h15.6M98.9,107.8h30.2M137.7,107.8h10.8M195.9,107.8h1.1M220.2,107.8h1.1M229.9,107.8h5.9M263.9,107.8h15.6M288.1,107.8h10.8M390,107.8h1.1M55.3,112h30.2M98.9,112h15.6M142.6,112h5.9M171.7,112h5.9M186.2,112h1.1M210.5,112h1.1M220.2,112h5.9M234.8,112h20.5M273.6,112h5.9M293,112h1.1M390,112h1.1M399.7,112h1.1M26.2,116.2h15.6M60.1,116.2h5.9M84.4,116.2h1.1M98.9,116.2h5.9M113.5,116.2h1.1M128,116.2h1.1M215.4,116.2h20.5M254.2,116.2h30.2M322.1,116.2h1.1M346.3,116.2h15.6M380.3,116.2h5.9M394.8,116.2h1.1M409.4,116.2h1.1M55.3,120.4h1.1M65,120.4h1.1M103.8,120.4h1.1M123.2,120.4h1.1M200.8,120.4h1.1M263.9,120.4h1.1M273.6,120.4h1.1M307.5,120.4h1.1M346.3,120.4h20.5M380.3,120.4h1.1M399.7,120.4h5.9M26.2,124.7h1.1M50.4,124.7h1.1M254.2,124.7h1.1M263.9,124.7h5.9M288.1,124.7h1.1M307.5,124.7h1.1M356,124.7h5.9M399.7,124.7h1.1M1.9,128.9h5.9M21.3,128.9h5.9M40.7,128.9h5.9M65,128.9h1.1M84.4,128.9h5.9M128,128.9h5.9M215.4,128.9h1.1M239.6,128.9h1.1M263.9,128.9h1.1M293,128.9h15.6M360.9,128.9h1.1M380.3,128.9h10.8M409.4,128.9h1.1M6.8,133.1h1.1M26.2,133.1h1.1M40.7,133.1h5.9M69.8,133.1h1.1M103.8,133.1h1.1M195.9,133.1h1.1M215.4,133.1h5.9M273.6,133.1h1.1M293,133.1h15.6M326.9,133.1h15.6M380.3,133.1h1.1M1.9,137.3h5.9M16.5,137.3h1.1M26.2,137.3h15.6M55.3,137.3h1.1M74.7,137.3h1.1M157.1,137.3h1.1M166.8,137.3h20.5M195.9,137.3h15.6M220.2,137.3h1.1M273.6,137.3h15.6M302.7,137.3h1.1M317.2,137.3h30.2M380.3,137.3h5.9M409.4,137.3h5.9M6.8,141.6h5.9M40.7,141.6h20.5M74.7,141.6h1.1M98.9,141.6h1.1M152.3,141.6h10.8M195.9,141.6h15.6M220.2,141.6h5.9M263.9,141.6h1.1M273.6,141.6h44.7M336.6,141.6h10.8M356,141.6h1.1M380.3,141.6h5.9M409.4,141.6h5.9M11.6,145.8h5.9M35.9,145.8h10.8M55.3,145.8h1.1M69.8,145.8h5.9M94.1,145.8h1.1M123.2,145.8h1.1M142.6,145.8h1.1M157.1,145.8h10.8M176.5,145.8h5.9M191.1,145.8h1.1M210.5,145.8h5.9M225.1,145.8h1.1M239.6,145.8h1.1M259,145.8h5.9M273.6,145.8h1.1M307.5,145.8h1.1M336.6,145.8h5.9M356,145.8h1.1M365.7,145.8h1.1M375.4,145.8h10.8M394.8,145.8h1.1M404.5,145.8h10.8M16.5,150h1.1M35.9,150h25.3M74.7,150h10.8M128,150h15.6M157.1,150h1.1M171.7,150h1.1M181.4,150h1.1M205.6,150h1.1M215.4,150h1.1M259,150h1.1M283.3,150h1.1M302.7,150h1.1M346.3,150h1.1M356,150h25.3M399.7,150h15.6M6.8,154.2h15.6M31,154.2h20.5M84.4,154.2h1.1M103.8,154.2h1.1M118.3,154.2h25.3M166.8,154.2h1.1M176.5,154.2h5.9M200.8,154.2h1.1M225.1,154.2h5.9M239.6,154.2h1.1M254.2,154.2h15.6M307.5,154.2h1.1M336.6,154.2h69M414.2,154.2h1.1M16.5,158.5h15.6M40.7,158.5h15.6M79.5,158.5h5.9M128,158.5h15.6M166.8,158.5h1.1M181.4,158.5h5.9M195.9,158.5h1.1M229.9,158.5h1.1M239.6,158.5h30.2M336.6,158.5h54.4M399.7,158.5h15.6M1.9,162.7h1.1M11.6,162.7h10.8M31,162.7h25.3M65,162.7h5.9M94.1,162.7h1.1M108.6,162.7h1.1M123.2,162.7h10.8M162,162.7h5.9M176.5,162.7h30.2M215.4,162.7h15.6M244.5,162.7h15.6M268.7,162.7h5.9M302.7,162.7h5.9M322.1,162.7h1.1M331.8,162.7h1.1M341.5,162.7h1.1M360.9,162.7h25.3M394.8,162.7h10.8M414.2,162.7h1.1M6.8,166.9h5.9M21.3,166.9h1.1M40.7,166.9h25.3M79.5,166.9h1.1M89.2,166.9h1.1M108.6,166.9h1.1M118.3,166.9h25.3M166.8,166.9h54.4M234.8,166.9h1.1M244.5,166.9h15.6M297.8,166.9h1.1M307.5,166.9h1.1M331.8,166.9h15.6M356,166.9h25.3M390,166.9h20.5M1.9,171.1h10.8M26.2,171.1h49.6M89.2,171.1h1.1M98.9,171.1h1.1M108.6,171.1h25.3M142.6,171.1h1.1M157.1,171.1h1.1M166.8,171.1h5.9M181.4,171.1h5.9M195.9,171.1h15.6M229.9,171.1h15.6M254.2,171.1h1.1M263.9,171.1h1.1M278.4,171.1h1.1M307.5,171.1h5.9M322.1,171.1h10.8M351.2,171.1h44.7M404.5,171.1h5.9M1.9,175.4h73.8M89.2,175.4h1.1M103.8,175.4h15.6M128,175.4h15.6M157.1,175.4h10.8M176.5,175.4h5.9M200.8,175.4h10.8M225.1,175.4h5.9M239.6,175.4h1.1M254.2,175.4h20.5M302.7,175.4h10.8M322.1,175.4h15.6M346.3,175.4h5.9M365.7,175.4h20.5M394.8,175.4h20.5M1.9,179.6h1.1M16.5,179.6h5.9M31,179.6h39.9M89.2,179.6h30.2M128,179.6h15.6M157.1,179.6h10.8M195.9,179.6h15.6M225.1,179.6h20.5M254.2,179.6h25.3M288.1,179.6h15.6M312.4,179.6h1.1M322.1,179.6h5.9M336.6,179.6h10.8M375.4,179.6h10.8M394.8,179.6h1.1M404.5,179.6h10.8M1.9,183.8h64.1M89.2,183.8h30.2M128,183.8h15.6M157.1,183.8h10.8M195.9,183.8h15.6M225.1,183.8h10.8M254.2,183.8h35M297.8,183.8h25.3M336.6,183.8h10.8M370.6,183.8h35M414.2,183.8h1.1M1.9,188h1.1M11.6,188h54.4M89.2,188h30.2M128,188h15.6M157.1,188h10.8M205.6,188h10.8M225.1,188h35M273.6,188h5.9M288.1,188h1.1M312.4,188h35M385.1,188h20.5M414.2,188h1.1M1.9,192.3h1.1M11.6,192.3h1.1M31,192.3h35M89.2,192.3h30.2M128,192.3h15.6M157.1,192.3h10.8M210.5,192.3h15.6M234.8,192.3h5.9M249.3,192.3h10.8M273.6,192.3h15.6M317.2,192.3h1.1M326.9,192.3h20.5M380.3,192.3h1.1M390,192.3h25.3M1.9,196.5h1.1M11.6,196.5h1.1M31,196.5h35M89.2,196.5h30.2M128,196.5h15.6M157.1,196.5h39.9M205.6,196.5h15.6M229.9,196.5h5.9M244.5,196.5h1.1M273.6,196.5h25.3M317.2,196.5h1.1M326.9,196.5h20.5M390,196.5h25.3" stroke="#ff6a27" stroke-width="5.2" stroke-linecap="round" fill="none"/><path d="M26.2,2.1h39.9M181.4,2.1h5.9M375.4,6.3h1.1M385.1,10.6h1.1M394.8,10.6h1.1M176.5,14.8h1.1M307.5,14.8h1.1M331.8,14.8h10.8M249.3,19h1.1M307.5,19h35M380.3,19h1.1M390,19h1.1M404.5,19h5.9M191.1,23.2h1.1M336.6,23.2h5.9M390,23.2h10.8M16.5,27.5h39.9M234.8,27.5h1.1M244.5,27.5h15.6M390,27.5h10.8M11.6,31.7h44.7M176.5,31.7h5.9M215.4,31.7h1.1M244.5,31.7h1.1M351.2,31.7h1.1M390,31.7h1.1M399.7,31.7h1.1M409.4,31.7h1.1M11.6,35.9h44.7M157.1,35.9h5.9M234.8,35.9h20.5M346.3,35.9h10.8M385.1,35.9h10.8M11.6,40.1h10.8M35.9,40.1h20.5M157.1,40.1h5.9M234.8,40.1h10.8M351.2,40.1h10.8M394.8,40.1h1.1M26.2,44.4h1.1M35.9,44.4h20.5M142.6,44.4h1.1M152.3,44.4h1.1M162,44.4h10.8M234.8,44.4h15.6M259,44.4h1.1M331.8,44.4h35M390,44.4h1.1M21.3,48.6h5.9M152.3,48.6h15.6M195.9,48.6h1.1M234.8,48.6h15.6M288.1,48.6h5.9M312.4,48.6h1.1M331.8,48.6h39.9M21.3,52.8h5.9M195.9,52.8h15.6M220.2,52.8h5.9M254.2,52.8h1.1M283.3,52.8h10.8M312.4,52.8h5.9M331.8,52.8h10.8M351.2,52.8h10.8M404.5,52.8h10.8M21.3,57h5.9M147.4,57h1.1M181.4,57h5.9M195.9,57h1.1M205.6,57h20.5M254.2,57h1.1M263.9,57h1.1M283.3,57h10.8M312.4,57h5.9M331.8,57h30.2M370.6,57h1.1M21.3,61.3h5.9M186.2,61.3h20.5M220.2,61.3h1.1M234.8,61.3h1.1M244.5,61.3h1.1M263.9,61.3h1.1M297.8,61.3h1.1M326.9,61.3h5.9M341.5,61.3h15.6M365.7,61.3h1.1M21.3,65.5h5.9M55.3,65.5h5.9M79.5,65.5h1.1M103.8,65.5h5.9M186.2,65.5h15.6M225.1,65.5h5.9M263.9,65.5h1.1M283.3,65.5h15.6M322.1,65.5h1.1M336.6,65.5h20.5M365.7,65.5h1.1M21.3,69.7h1.1M94.1,69.7h5.9M113.5,69.7h5.9M137.7,69.7h1.1M186.2,69.7h15.6M215.4,69.7h1.1M254.2,69.7h25.3M302.7,69.7h1.1M356,69.7h20.5M21.3,73.9h30.2M94.1,73.9h10.8M123.2,73.9h5.9M137.7,73.9h1.1M162,73.9h1.1M186.2,73.9h5.9M200.8,73.9h5.9M215.4,73.9h5.9M254.2,73.9h10.8M273.6,73.9h5.9M293,73.9h5.9M326.9,73.9h5.9M341.5,73.9h1.1M360.9,73.9h15.6M26.2,103.5h30.2M65,103.5h1.1M166.8,103.5h35M210.5,103.5h1.1M244.5,103.5h5.9M268.7,103.5h1.1M317.2,103.5h1.1M351.2,103.5h25.3M26.2,107.8h30.2M166.8,107.8h20.5M205.6,107.8h10.8M244.5,107.8h15.6M283.3,107.8h1.1M302.7,107.8h1.1M317.2,107.8h1.1M351.2,107.8h30.2M394.8,107.8h1.1M409.4,107.8h1.1M1.9,112h1.1M26.2,112h25.3M118.3,112h10.8M166.8,112h1.1M181.4,112h1.1M191.1,112h1.1M205.6,112h1.1M215.4,112h1.1M259,112h1.1M302.7,112h5.9M375.4,112h1.1M409.4,112h5.9M1.9,116.2h10.8M45.6,116.2h10.8M69.8,116.2h5.9M108.6,116.2h1.1M118.3,116.2h5.9M166.8,116.2h25.3M205.6,116.2h5.9M239.6,116.2h1.1M288.1,116.2h1.1M302.7,116.2h5.9M399.7,116.2h1.1M1.9,120.4h10.8M31,120.4h20.5M60.1,120.4h1.1M69.8,120.4h30.2M108.6,120.4h5.9M128,120.4h15.6M152.3,120.4h44.7M205.6,120.4h1.1M225.1,120.4h35M268.7,120.4h1.1M288.1,120.4h15.6M370.6,120.4h5.9M385.1,120.4h5.9M409.4,120.4h5.9M1.9,124.7h20.5M45.6,124.7h1.1M60.1,124.7h5.9M74.7,124.7h49.6M132.9,124.7h10.8M152.3,124.7h25.3M200.8,124.7h30.2M239.6,124.7h10.8M283.3,124.7h1.1M293,124.7h10.8M341.5,124.7h10.8M375.4,124.7h1.1M385.1,124.7h10.8M404.5,124.7h10.8M11.6,128.9h5.9M50.4,128.9h10.8M69.8,128.9h10.8M94.1,128.9h10.8M113.5,128.9h10.8M137.7,128.9h5.9M152.3,128.9h20.5M181.4,128.9h30.2M220.2,128.9h15.6M244.5,128.9h1.1M254.2,128.9h1.1M283.3,128.9h5.9M322.1,128.9h35M365.7,128.9h10.8M399.7,128.9h5.9M414.2,128.9h1.1M1.9,133.1h1.1M11.6,133.1h10.8M50.4,133.1h15.6M74.7,133.1h25.3M108.6,133.1h15.6M132.9,133.1h1.1M142.6,133.1h49.6M200.8,133.1h10.8M225.1,133.1h10.8M244.5,133.1h10.8M278.4,133.1h10.8M346.3,133.1h30.2M394.8,133.1h20.5M11.6,137.3h1.1M21.3,137.3h1.1M45.6,137.3h5.9M60.1,137.3h5.9M79.5,137.3h10.8M98.9,137.3h5.9M118.3,137.3h5.9M137.7,137.3h15.6M191.1,137.3h1.1M215.4,137.3h1.1M225.1,137.3h39.9M351.2,137.3h25.3M21.3,141.6h5.9M65,141.6h5.9M79.5,141.6h15.6M118.3,141.6h5.9M137.7,141.6h10.8M166.8,141.6h5.9M186.2,141.6h5.9M215.4,141.6h1.1M229.9,141.6h1.1M239.6,141.6h20.5M322.1,141.6h1.1M351.2,141.6h1.1M360.9,141.6h15.6M390,141.6h1.1M1.9,145.8h5.9M21.3,145.8h10.8M79.5,145.8h1.1M128,145.8h1.1M137.7,145.8h1.1M186.2,145.8h1.1M195.9,145.8h5.9M229.9,145.8h5.9M244.5,145.8h10.8M268.7,145.8h1.1M283.3,145.8h1.1M293,145.8h5.9M346.3,145.8h5.9M370.6,145.8h1.1M6.8,150h5.9M21.3,150h5.9M147.4,150h1.1M166.8,150h1.1M186.2,150h15.6M220.2,150h15.6M244.5,150h10.8M263.9,150h5.9M288.1,150h1.1M297.8,150h1.1M312.4,150h1.1M336.6,150h5.9M390,150h1.1M26.2,154.2h1.1M94.1,154.2h1.1M171.7,154.2h1.1M191.1,154.2h5.9M205.6,154.2h15.6M234.8,154.2h1.1M283.3,154.2h20.5M11.6,158.5h1.1M35.9,158.5h1.1M60.1,158.5h1.1M69.8,158.5h1.1M118.3,158.5h1.1M171.7,158.5h5.9M191.1,158.5h1.1M205.6,158.5h20.5M234.8,158.5h1.1M283.3,158.5h15.6M394.8,158.5h1.1M60.1,162.7h1.1M263.9,162.7h1.1M283.3,162.7h1.1M293,162.7h5.9M336.6,162.7h1.1M351.2,162.7h1.1M409.4,162.7h1.1M26.2,166.9h1.1M113.5,166.9h1.1M239.6,166.9h1.1M263.9,166.9h5.9M288.1,166.9h5.9M302.7,166.9h1.1M225.1,171.1h1.1M283.3,171.1h20.5M317.2,171.1h1.1M399.7,171.1h1.1M186.2,175.4h1.1M283.3,175.4h15.6M356,175.4h1.1M283.3,179.6h1.1M370.6,179.6h1.1M69.8,183.8h10.8M293,183.8h1.1M326.9,183.8h1.1M409.4,183.8h1.1M69.8,188h10.8M176.5,188h25.3M220.2,188h1.1M380.3,188h1.1M409.4,188h1.1M16.5,192.3h10.8M69.8,192.3h10.8M176.5,192.3h30.2M322.1,192.3h1.1M385.1,192.3h1.1M16.5,196.5h10.8M69.8,196.5h10.8M200.8,196.5h1.1M239.6,196.5h1.1M249.3,196.5h1.1M322.1,196.5h1.1" stroke="#169dfe" stroke-width="5.2" stroke-linecap="round" fill="none"/><path d="M128,2.1h39.9M191.1,2.1h20.5M229.9,2.1h1.1M380.3,2.1h5.9M404.5,2.1h10.8M16.5,6.3h5.9M171.7,6.3h5.9M191.1,6.3h5.9M205.6,6.3h5.9M229.9,6.3h1.1M385.1,6.3h1.1M409.4,6.3h5.9M6.8,10.6h5.9M176.5,10.6h1.1M186.2,10.6h1.1M195.9,10.6h15.6M229.9,10.6h1.1M356,10.6h1.1M380.3,10.6h1.1M390,10.6h1.1M1.9,14.8h1.1M123.2,14.8h15.6M200.8,14.8h1.1M380.3,14.8h1.1M390,14.8h15.6M1.9,19h10.8M118.3,19h25.3M186.2,19h1.1M195.9,19h5.9M244.5,19h1.1M351.2,19h1.1M375.4,19h1.1M394.8,19h5.9M414.2,19h1.1M6.8,23.2h10.8M113.5,23.2h30.2M176.5,23.2h1.1M195.9,23.2h5.9M210.5,23.2h1.1M404.5,23.2h5.9M6.8,27.5h5.9M60.1,27.5h5.9M98.9,27.5h44.7M191.1,27.5h1.1M404.5,27.5h5.9M6.8,31.7h1.1M60.1,31.7h5.9M94.1,31.7h54.4M200.8,31.7h5.9M254.2,31.7h1.1M278.4,31.7h25.3M394.8,31.7h1.1M1.9,35.9h5.9M60.1,35.9h5.9M94.1,35.9h54.4M166.8,35.9h5.9M186.2,35.9h5.9M200.8,35.9h10.8M220.2,35.9h1.1M273.6,35.9h35M380.3,35.9h1.1M414.2,35.9h1.1M1.9,40.1h5.9M60.1,40.1h5.9M94.1,40.1h59.3M166.8,40.1h10.8M186.2,40.1h1.1M200.8,40.1h10.8M273.6,40.1h35M414.2,40.1h1.1M1.9,44.4h1.1M60.1,44.4h5.9M94.1,44.4h44.7M147.4,44.4h1.1M186.2,44.4h5.9M210.5,44.4h5.9M297.8,44.4h10.8M380.3,44.4h5.9M414.2,44.4h1.1M55.3,48.6h10.8M94.1,48.6h15.6M123.2,48.6h15.6M147.4,48.6h1.1M181.4,48.6h1.1M191.1,48.6h1.1M200.8,48.6h1.1M259,48.6h1.1M297.8,48.6h10.8M380.3,48.6h5.9M50.4,52.8h15.6M94.1,52.8h15.6M171.7,52.8h20.5M215.4,52.8h1.1M229.9,52.8h1.1M239.6,52.8h10.8M259,52.8h1.1M268.7,52.8h5.9M297.8,52.8h10.8M326.9,52.8h1.1M346.3,52.8h1.1M370.6,52.8h15.6M45.6,57h20.5M94.1,57h15.6M166.8,57h10.8M191.1,57h1.1M200.8,57h1.1M229.9,57h20.5M259,57h1.1M273.6,57h1.1M297.8,57h10.8M322.1,57h5.9M365.7,57h1.1M375.4,57h10.8M40.7,61.3h25.3M94.1,61.3h15.6M147.4,61.3h1.1M225.1,61.3h5.9M249.3,61.3h1.1M259,61.3h1.1M268.7,61.3h10.8M302.7,61.3h1.1M312.4,61.3h10.8M360.9,61.3h1.1M380.3,61.3h1.1M390,61.3h10.8M1.9,65.5h1.1M65,65.5h5.9M94.1,65.5h5.9M128,65.5h1.1M137.7,65.5h1.1M215.4,65.5h5.9M259,65.5h1.1M278.4,65.5h1.1M312.4,65.5h5.9M326.9,65.5h1.1M375.4,65.5h1.1M390,65.5h25.3M1.9,69.7h1.1M55.3,69.7h20.5M103.8,69.7h1.1M123.2,69.7h10.8M147.4,69.7h10.8M220.2,69.7h5.9M244.5,69.7h1.1M307.5,69.7h5.9M326.9,69.7h1.1M341.5,69.7h5.9M385.1,69.7h30.2M1.9,73.9h5.9M55.3,73.9h25.3M108.6,73.9h10.8M132.9,73.9h1.1M147.4,73.9h5.9M171.7,73.9h1.1M195.9,73.9h1.1M244.5,73.9h1.1M268.7,73.9h1.1M302.7,73.9h1.1M317.2,73.9h5.9M336.6,73.9h1.1M346.3,73.9h1.1M380.3,73.9h35M1.9,103.5h20.5M79.5,103.5h1.1M89.2,103.5h5.9M103.8,103.5h1.1M152.3,103.5h10.8M205.6,103.5h1.1M234.8,103.5h5.9M302.7,103.5h10.8M322.1,103.5h25.3M390,103.5h25.3M1.9,107.8h20.5M79.5,107.8h15.6M132.9,107.8h1.1M152.3,107.8h10.8M191.1,107.8h1.1M200.8,107.8h1.1M225.1,107.8h1.1M239.6,107.8h1.1M307.5,107.8h5.9M322.1,107.8h25.3M385.1,107.8h1.1M399.7,107.8h5.9M414.2,107.8h1.1M6.8,112h15.6M89.2,112h5.9M132.9,112h5.9M152.3,112h10.8M195.9,112h5.9M229.9,112h1.1M263.9,112h1.1M283.3,112h5.9M297.8,112h1.1M312.4,112h59.3M380.3,112h5.9M394.8,112h1.1M404.5,112h1.1M16.5,116.2h5.9M79.5,116.2h1.1M89.2,116.2h5.9M132.9,116.2h30.2M195.9,116.2h5.9M293,116.2h5.9M312.4,116.2h5.9M326.9,116.2h15.6M365.7,116.2h10.8M390,116.2h1.1M404.5,116.2h1.1M414.2,116.2h1.1M16.5,120.4h10.8M118.3,120.4h1.1M147.4,120.4h1.1M210.5,120.4h10.8M278.4,120.4h5.9M322.1,120.4h20.5M394.8,120.4h1.1M31,124.7h10.8M55.3,124.7h1.1M69.8,124.7h1.1M128,124.7h1.1M147.4,124.7h1.1M181.4,124.7h15.6M234.8,124.7h1.1M259,124.7h1.1M273.6,124.7h5.9M322.1,124.7h15.6M370.6,124.7h1.1M380.3,124.7h1.1M31,128.9h5.9M108.6,128.9h1.1M147.4,128.9h1.1M176.5,128.9h1.1M249.3,128.9h1.1M259,128.9h1.1M268.7,128.9h10.8M394.8,128.9h1.1M31,133.1h5.9M128,133.1h1.1M137.7,133.1h1.1M239.6,133.1h1.1M259,133.1h10.8M322.1,133.1h1.1M385.1,133.1h5.9M69.8,137.3h1.1M94.1,137.3h1.1M108.6,137.3h5.9M128,137.3h5.9M162,137.3h1.1M268.7,137.3h1.1M293,137.3h1.1M307.5,137.3h5.9M390,137.3h15.6M16.5,141.6h1.1M103.8,141.6h10.8M128,141.6h5.9M176.5,141.6h5.9M234.8,141.6h1.1M268.7,141.6h1.1M326.9,141.6h5.9M394.8,141.6h10.8M60.1,145.8h5.9M89.2,145.8h1.1M98.9,145.8h20.5M132.9,145.8h1.1M147.4,145.8h5.9M171.7,145.8h1.1M220.2,145.8h1.1M278.4,145.8h1.1M288.1,145.8h1.1M302.7,145.8h1.1M322.1,145.8h10.8M390,145.8h1.1M399.7,145.8h1.1M65,150h1.1M89.2,150h35M152.3,150h1.1M162,150h1.1M239.6,150h1.1M273.6,150h5.9M322.1,150h10.8M385.1,150h1.1M394.8,150h1.1M55.3,154.2h20.5M89.2,154.2h1.1M98.9,154.2h1.1M108.6,154.2h5.9M147.4,154.2h15.6M186.2,154.2h1.1M244.5,154.2h5.9M312.4,154.2h15.6M409.4,154.2h1.1M65,158.5h1.1M74.7,158.5h1.1M89.2,158.5h1.1M98.9,158.5h15.6M123.2,158.5h1.1M147.4,158.5h15.6M200.8,158.5h1.1M278.4,158.5h1.1M302.7,158.5h30.2M74.7,162.7h1.1M103.8,162.7h1.1M113.5,162.7h1.1M147.4,162.7h10.8M234.8,162.7h1.1M278.4,162.7h1.1M288.1,162.7h1.1M312.4,162.7h5.9M326.9,162.7h1.1M356,162.7h1.1M390,162.7h1.1M31,166.9h1.1M69.8,166.9h5.9M103.8,166.9h1.1M147.4,166.9h15.6M225.1,166.9h5.9M273.6,166.9h10.8M312.4,166.9h15.6M351.2,166.9h1.1M16.5,171.1h1.1M103.8,171.1h1.1M137.7,171.1h1.1M147.4,171.1h5.9M162,171.1h1.1M176.5,171.1h1.1M191.1,171.1h1.1M259,171.1h1.1M273.6,171.1h1.1M336.6,171.1h1.1M98.9,175.4h1.1M123.2,175.4h1.1M147.4,175.4h5.9M171.7,175.4h1.1M191.1,175.4h5.9M278.4,175.4h1.1M317.2,175.4h1.1M360.9,175.4h1.1M390,175.4h1.1M11.6,179.6h1.1M26.2,179.6h1.1M74.7,179.6h5.9M123.2,179.6h1.1M147.4,179.6h5.9M171.7,179.6h1.1M215.4,179.6h5.9M307.5,179.6h1.1M317.2,179.6h1.1M331.8,179.6h1.1M84.4,183.8h1.1M123.2,183.8h1.1M147.4,183.8h5.9M171.7,183.8h1.1M215.4,183.8h5.9M331.8,183.8h1.1M84.4,188h1.1M123.2,188h1.1M147.4,188h5.9M171.7,188h1.1M6.8,192.3h1.1M84.4,192.3h1.1M123.2,192.3h1.1M147.4,192.3h5.9M171.7,192.3h1.1M229.9,192.3h1.1M6.8,196.5h1.1M84.4,196.5h1.1M123.2,196.5h1.1M147.4,196.5h5.9" stroke="#4e5b8e" stroke-width="5.2" stroke-linecap="round" fill="none"/><path d="M6.8,6.3h5.9M220.2,10.6h1.1M365.7,23.2h1.1M200.8,27.5h1.1M263.9,31.7h1.1M336.6,35.9h1.1M404.5,40.1h5.9M205.6,48.6h1.1M336.6,61.3h1.1M181.4,65.5h1.1M79.5,69.7h1.1M60.1,103.5h1.1M225.1,103.5h1.1M268.7,112h1.1M244.5,116.2h5.9M312.4,120.4h5.9M312.4,124.7h5.9M365.7,124.7h1.1M312.4,128.9h5.9M312.4,133.1h5.9M297.8,137.3h1.1M1.9,141.6h1.1M31,141.6h5.9M50.4,145.8h1.1M84.4,145.8h1.1M205.6,145.8h1.1M312.4,145.8h5.9M360.9,145.8h1.1M1.9,150h1.1M31,150h1.1M69.8,150h1.1M176.5,150h1.1M210.5,150h1.1M293,150h1.1M307.5,150h1.1M317.2,150h1.1M351.2,150h1.1M1.9,154.2h1.1M79.5,154.2h1.1M273.6,154.2h5.9M331.8,154.2h1.1M1.9,158.5h5.9M94.1,158.5h1.1M273.6,158.5h1.1M6.8,162.7h1.1M26.2,162.7h1.1M79.5,162.7h10.8M98.9,162.7h1.1M118.3,162.7h1.1M137.7,162.7h5.9M171.7,162.7h1.1M210.5,162.7h1.1M239.6,162.7h1.1M346.3,162.7h1.1M1.9,166.9h1.1M16.5,166.9h1.1M35.9,166.9h1.1M84.4,166.9h1.1M94.1,166.9h5.9M385.1,166.9h1.1M414.2,166.9h1.1M21.3,171.1h1.1M79.5,171.1h5.9M94.1,171.1h1.1M215.4,171.1h5.9M249.3,171.1h1.1M268.7,171.1h1.1M414.2,171.1h1.1M79.5,175.4h5.9M94.1,175.4h1.1M215.4,175.4h5.9M234.8,175.4h1.1M244.5,175.4h5.9M6.8,179.6h1.1M84.4,179.6h1.1M249.3,179.6h1.1M390,179.6h1.1M399.7,179.6h1.1M239.6,183.8h10.8M6.8,188h1.1M283.3,188h1.1M244.5,192.3h1.1M312.4,192.3h1.1M225.1,196.5h1.1M302.7,196.5h10.8" stroke="#c8400a" stroke-width="5.2" stroke-linecap="round" fill="none"/>
<use href="#nodata"/>
<rect x="0" y="77.4" width="417.2" height="23.3" fill="#e4e4e4"/>
<use href="#land"/>
</g>
<rect x="0" y="0" width="417.2" height="198.6" fill="none" stroke="#000" stroke-width="2.2"/>
<path d="M0,-1v-3.6M0,199.6v3.6M69.5,-1v-3.6M69.5,199.6v3.6M139.1,-1v-3.6M139.1,199.6v3.6M208.6,-1v-3.6M208.6,199.6v3.6M278.1,-1v-3.6M278.1,199.6v3.6M347.7,-1v-3.6M347.7,199.6v3.6M417.2,-1v-3.6M417.2,199.6v3.6M-1,9.5h-3.6M418.2,9.5h3.6M-1,53.2h-3.6M418.2,53.2h3.6M-1,89h-3.6M418.2,89h3.6M-1,124.8h-3.6M418.2,124.8h3.6M-1,168.5h-3.6M418.2,168.5h3.6" stroke="#000" stroke-width="2.2" fill="none"/>
<text x="1.5" y="219.3" font-size="17.33" text-anchor="middle">0°</text>
<text x="71.5" y="219.3" font-size="17.33" text-anchor="middle">60°E</text>
<text x="141.1" y="219.3" font-size="17.33" text-anchor="middle">120°E</text>
<text x="210.1" y="219.3" font-size="17.33" text-anchor="middle">180°</text>
<text x="280.1" y="219.3" font-size="17.33" text-anchor="middle">120°W</text>
<text x="349.7" y="219.3" font-size="17.33" text-anchor="middle">60°W</text>
<text x="418.7" y="219.3" font-size="17.33" text-anchor="middle">0°</text>
<text x="-9" y="16.8" font-size="17.33" text-anchor="end">60°N</text>
<text x="-9" y="60.5" font-size="17.33" text-anchor="end">30°N</text>
<text x="-9" y="96.3" font-size="17.33" text-anchor="end">0°</text>
<text x="-9" y="132.1" font-size="17.33" text-anchor="end">30°S</text>
<text x="-9" y="175.8" font-size="17.33" text-anchor="end">60°S</text>
<text x="208.6" y="246.8" font-size="17.33" text-anchor="middle" fill="#262626">Longitude</text>
<text transform="translate(-60.5,97.4) rotate(-90)" font-size="17.33" text-anchor="middle" fill="#262626">Latitude</text>
<text x="208.2" y="-4.3" font-size="17.33" text-anchor="middle">Second dominant sources in winter</text>
<text x="-17" y="-6.9" font-size="22.8" font-weight="bold">b</text>
</g>
<g transform="translate(129,597.6)">
<g clip-path="url(#cp)">
<path d="M1.9,2.1h204.8M225.1,2.1h117.5M351.2,2.1h64.1M1.9,6.3h199.9M225.1,6.3h112.6M351.2,6.3h64.1M1.9,10.6h166M176.5,10.6h132M326.9,10.6h30.2M365.7,10.6h49.6M1.9,14.8h161.1M176.5,14.8h132M331.8,14.8h83.5M1.9,19h364.9M375.4,19h39.9M1.9,23.2h185.4M195.9,23.2h219.4M1.9,27.5h413.4M1.9,31.7h413.4M1.9,35.9h384.3M394.8,35.9h20.5M1.9,40.1h398.8M409.4,40.1h5.9M1.9,44.4h413.4M1.9,48.6h330.9M341.5,48.6h49.6M399.7,48.6h15.6M1.9,52.8h151.4M162,52.8h10.8M181.4,52.8h146.6M336.6,52.8h78.7M1.9,57h185.4M195.9,57h127.2M331.8,57h83.5M1.9,61.3h54.4M79.5,61.3h5.9M108.6,61.3h15.6M137.7,61.3h54.4M234.8,61.3h64.1M307.5,61.3h107.8M1.9,65.5h54.4M79.5,65.5h5.9M108.6,65.5h15.6M137.7,65.5h54.4M234.8,65.5h78.7M322.1,65.5h30.2M360.9,65.5h54.4M1.9,69.7h35M45.6,69.7h10.8M79.5,69.7h5.9M108.6,69.7h5.9M147.4,69.7h44.7M200.8,69.7h88.4M297.8,69.7h20.5M341.5,69.7h73.8M1.9,73.9h54.4M79.5,73.9h5.9M108.6,73.9h1.1M147.4,73.9h39.9M195.9,73.9h30.2M234.8,73.9h83.5M341.5,73.9h73.8M21.3,103.5h54.4M89.2,103.5h25.3M166.8,103.5h35M254.2,103.5h122.3M399.7,103.5h15.6M1.9,107.8h10.8M21.3,107.8h107.8M137.7,107.8h10.8M157.1,107.8h49.6M215.4,107.8h10.8M234.8,107.8h10.8M254.2,107.8h127.2M390,107.8h25.3M1.9,112h122.3M132.9,112h88.4M229.9,112h185.4M1.9,116.2h233.9M244.5,116.2h170.8M1.9,120.4h413.4M1.9,124.7h413.4M1.9,128.9h413.4M1.9,133.1h350.3M360.9,133.1h54.4M1.9,137.3h413.4M1.9,141.6h413.4M1.9,145.8h413.4M1.9,150h413.4M1.9,154.2h413.4M1.9,158.5h413.4M1.9,162.7h102.9M113.5,162.7h301.8M1.9,166.9h98.1M108.6,166.9h306.7M1.9,171.1h345.5M356,171.1h59.3M1.9,175.4h10.8M21.3,175.4h394M1.9,179.6h180.5M205.6,179.6h141.7M370.6,179.6h44.7M1.9,183.8h180.5M205.6,183.8h141.7M370.6,183.8h44.7M1.9,188h277.6M322.1,188h25.3M380.3,188h35M1.9,192.3h345.5M380.3,192.3h35M1.9,196.5h258.2M273.6,196.5h73.8M380.3,196.5h35" stroke="#4e5b8e" stroke-width="5.2" stroke-linecap="round" fill="none"/><path d="M360.9,10.6h1.1M60.1,61.3h15.6M89.2,61.3h15.6M128,61.3h5.9M60.1,65.5h15.6M89.2,65.5h15.6M128,65.5h5.9M317.2,65.5h1.1M356,65.5h1.1M40.7,69.7h1.1M60.1,69.7h15.6M89.2,69.7h15.6M118.3,69.7h25.3M322.1,69.7h15.6M60.1,73.9h15.6M89.2,73.9h15.6M118.3,73.9h25.3M229.9,73.9h1.1M322.1,73.9h15.6M1.9,103.5h15.6M118.3,103.5h5.9M147.4,103.5h15.6M380.3,103.5h15.6M16.5,107.8h1.1M152.3,107.8h1.1M385.1,107.8h1.1M356,133.1h1.1M108.6,162.7h1.1M103.8,166.9h1.1M351.2,171.1h1.1M16.5,175.4h1.1" stroke="#ff6a27" stroke-width="5.2" stroke-linecap="round" fill="none"/><path d="M370.6,19h1.1M191.1,23.2h1.1M390,35.9h1.1M404.5,40.1h1.1M394.8,48.6h1.1M191.1,57h1.1M113.5,73.9h1.1" stroke="#c8400a" stroke-width="5.2" stroke-linecap="round" fill="none"/><path d="M336.6,48.6h1.1M157.1,52.8h1.1M176.5,52.8h1.1M331.8,52.8h1.1M326.9,57h1.1M195.9,61.3h35M302.7,61.3h1.1M195.9,65.5h35M195.9,69.7h1.1M293,69.7h1.1M191.1,73.9h1.1M79.5,103.5h5.9M128,103.5h15.6M205.6,103.5h44.7M132.9,107.8h1.1M210.5,107.8h1.1M229.9,107.8h1.1M249.3,107.8h1.1M128,112h1.1M225.1,112h1.1M239.6,116.2h1.1" stroke="#169dfe" stroke-width="5.2" stroke-linecap="round" fill="none"/>
<use href="#nodata"/>
<rect x="0" y="77.4" width="417.2" height="23.3" fill="#e4e4e4"/>
<use href="#land"/>
</g>
<rect x="0" y="0" width="417.2" height="198.6" fill="none" stroke="#000" stroke-width="2.2"/>
<path d="M0,-1v-3.6M0,199.6v3.6M69.5,-1v-3.6M69.5,199.6v3.6M139.1,-1v-3.6M139.1,199.6v3.6M208.6,-1v-3.6M208.6,199.6v3.6M278.1,-1v-3.6M278.1,199.6v3.6M347.7,-1v-3.6M347.7,199.6v3.6M417.2,-1v-3.6M417.2,199.6v3.6M-1,9.5h-3.6M418.2,9.5h3.6M-1,53.2h-3.6M418.2,53.2h3.6M-1,89h-3.6M418.2,89h3.6M-1,124.8h-3.6M418.2,124.8h3.6M-1,168.5h-3.6M418.2,168.5h3.6" stroke="#000" stroke-width="2.2" fill="none"/>
<text x="1.5" y="219.3" font-size="17.33" text-anchor="middle">0°</text>
<text x="71.5" y="219.3" font-size="17.33" text-anchor="middle">60°E</text>
<text x="141.1" y="219.3" font-size="17.33" text-anchor="middle">120°E</text>
<text x="210.1" y="219.3" font-size="17.33" text-anchor="middle">180°</text>
<text x="280.1" y="219.3" font-size="17.33" text-anchor="middle">120°W</text>
<text x="349.7" y="219.3" font-size="17.33" text-anchor="middle">60°W</text>
<text x="418.7" y="219.3" font-size="17.33" text-anchor="middle">0°</text>
<text x="-9" y="16.8" font-size="17.33" text-anchor="end">60°N</text>
<text x="-9" y="60.5" font-size="17.33" text-anchor="end">30°N</text>
<text x="-9" y="96.3" font-size="17.33" text-anchor="end">0°</text>
<text x="-9" y="132.1" font-size="17.33" text-anchor="end">30°S</text>
<text x="-9" y="175.8" font-size="17.33" text-anchor="end">60°S</text>
<text x="208.6" y="246.8" font-size="17.33" text-anchor="middle" fill="#262626">Longitude</text>
<text transform="translate(-60.5,97.4) rotate(-90)" font-size="17.33" text-anchor="middle" fill="#262626">Latitude</text>
<text x="208.2" y="-4.3" font-size="17.33" text-anchor="middle">First dominant sources in summer</text>
<text x="-17" y="-6.9" font-size="22.8" font-weight="bold">c</text>
</g>
<g transform="translate(129,876.3)">
<g clip-path="url(#cp)">
<path d="M1.9,2.1h10.8M137.7,2.1h44.7M210.5,2.1h1.1M225.1,2.1h15.6M351.2,2.1h35M394.8,2.1h20.5M1.9,6.3h10.8M132.9,6.3h49.6M191.1,6.3h5.9M225.1,6.3h15.6M351.2,6.3h49.6M409.4,6.3h5.9M16.5,10.6h49.6M128,10.6h54.4M191.1,10.6h10.8M210.5,10.6h30.2M356,10.6h39.9M16.5,14.8h49.6M142.6,14.8h30.2M186.2,14.8h15.6M215.4,14.8h25.3M336.6,14.8h59.3M1.9,19h1.1M16.5,19h49.6M147.4,19h44.7M200.8,19h30.2M341.5,19h10.8M370.6,19h10.8M1.9,23.2h69M162,23.2h35M205.6,23.2h5.9M225.1,23.2h5.9M341.5,23.2h1.1M370.6,23.2h5.9M1.9,27.5h10.8M55.3,27.5h30.2M98.9,27.5h1.1M171.7,27.5h5.9M186.2,27.5h1.1M229.9,27.5h1.1M341.5,27.5h1.1M356,27.5h10.8M394.8,27.5h15.6M55.3,31.7h44.7M176.5,31.7h1.1M186.2,31.7h5.9M278.4,31.7h20.5M336.6,31.7h1.1M346.3,31.7h15.6M394.8,31.7h15.6M55.3,35.9h44.7M191.1,35.9h1.1M244.5,35.9h1.1M263.9,35.9h1.1M278.4,35.9h20.5M312.4,35.9h25.3M346.3,35.9h5.9M55.3,40.1h44.7M195.9,40.1h1.1M263.9,40.1h5.9M278.4,40.1h15.6M326.9,40.1h10.8M26.2,44.4h1.1M55.3,44.4h44.7M157.1,44.4h1.1M210.5,44.4h1.1M273.6,44.4h20.5M326.9,44.4h1.1M50.4,48.6h49.6M273.6,48.6h10.8M45.6,52.8h54.4M123.2,52.8h1.1M157.1,52.8h15.6M234.8,52.8h10.8M278.4,52.8h1.1M356,52.8h1.1M399.7,52.8h15.6M1.9,57h1.1M45.6,57h25.3M79.5,57h20.5M123.2,57h5.9M157.1,57h1.1M166.8,57h1.1M234.8,57h1.1M244.5,57h5.9M404.5,57h10.8M1.9,61.3h1.1M40.7,61.3h20.5M69.8,61.3h1.1M79.5,61.3h20.5M123.2,61.3h5.9M137.7,61.3h5.9M162,61.3h10.8M225.1,61.3h10.8M244.5,61.3h1.1M273.6,61.3h5.9M293,61.3h5.9M312.4,61.3h1.1M331.8,61.3h59.3M404.5,61.3h10.8M1.9,65.5h1.1M35.9,65.5h35M84.4,65.5h5.9M113.5,65.5h20.5M142.6,65.5h1.1M157.1,65.5h1.1M166.8,65.5h5.9M225.1,65.5h5.9M278.4,65.5h1.1M293,65.5h1.1M331.8,65.5h1.1M341.5,65.5h5.9M356,65.5h15.6M380.3,65.5h35M26.2,69.7h30.2M65,69.7h1.1M94.1,69.7h5.9M171.7,69.7h1.1M181.4,69.7h1.1M234.8,69.7h1.1M249.3,69.7h1.1M263.9,69.7h5.9M317.2,69.7h30.2M370.6,69.7h15.6M55.3,73.9h1.1M234.8,73.9h15.6M263.9,73.9h5.9M317.2,73.9h30.2M360.9,73.9h1.1M370.6,73.9h15.6M65,103.5h1.1M89.2,103.5h1.1M98.9,103.5h5.9M113.5,103.5h1.1M171.7,103.5h1.1M283.3,103.5h1.1M322.1,103.5h25.3M380.3,103.5h10.8M60.1,107.8h1.1M98.9,107.8h5.9M166.8,107.8h5.9M195.9,107.8h1.1M322.1,107.8h25.3M380.3,107.8h5.9M50.4,112h20.5M94.1,112h10.8M166.8,112h1.1M205.6,112h5.9M220.2,112h20.5M351.2,112h25.3M45.6,116.2h20.5M89.2,116.2h15.6M205.6,116.2h15.6M229.9,116.2h10.8M365.7,116.2h10.8M394.8,116.2h1.1M55.3,120.4h1.1M65,120.4h1.1M186.2,120.4h5.9M234.8,120.4h1.1M288.1,120.4h1.1M394.8,120.4h1.1M50.4,124.7h1.1M60.1,124.7h5.9M162,124.7h5.9M186.2,124.7h10.8M220.2,124.7h1.1M234.8,124.7h5.9M21.3,128.9h1.1M35.9,128.9h5.9M60.1,128.9h5.9M162,128.9h10.8M186.2,128.9h5.9M234.8,128.9h5.9M249.3,128.9h1.1M268.7,128.9h1.1M326.9,128.9h10.8M370.6,128.9h1.1M21.3,133.1h5.9M40.7,133.1h5.9M60.1,133.1h5.9M162,133.1h10.8M186.2,133.1h5.9M239.6,133.1h1.1M293,133.1h1.1M336.6,133.1h5.9M1.9,137.3h1.1M11.6,137.3h15.6M35.9,137.3h1.1M45.6,137.3h1.1M60.1,137.3h25.3M162,137.3h10.8M229.9,137.3h1.1M254.2,137.3h1.1M263.9,137.3h1.1M307.5,137.3h1.1M322.1,137.3h30.2M1.9,141.6h49.6M60.1,141.6h25.3M98.9,141.6h1.1M113.5,141.6h1.1M137.7,141.6h1.1M166.8,141.6h5.9M254.2,141.6h5.9M273.6,141.6h1.1M326.9,141.6h20.5M1.9,145.8h107.8M118.3,145.8h30.2M166.8,145.8h5.9M205.6,145.8h20.5M249.3,145.8h5.9M263.9,145.8h1.1M273.6,145.8h5.9M288.1,145.8h1.1M297.8,145.8h1.1M312.4,145.8h1.1M322.1,145.8h10.8M351.2,145.8h1.1M360.9,145.8h30.2M399.7,145.8h15.6M1.9,150h20.5M31,150h78.7M118.3,150h35M166.8,150h5.9M195.9,150h1.1M205.6,150h15.6M234.8,150h1.1M249.3,150h1.1M273.6,150h15.6M297.8,150h1.1M312.4,150h20.5M351.2,150h25.3M394.8,150h1.1M404.5,150h10.8M1.9,154.2h5.9M16.5,154.2h5.9M31,154.2h25.3M69.8,154.2h10.8M89.2,154.2h1.1M98.9,154.2h20.5M128,154.2h35M171.7,154.2h49.6M268.7,154.2h1.1M278.4,154.2h25.3M312.4,154.2h102.9M6.8,158.5h1.1M21.3,158.5h25.3M55.3,158.5h1.1M69.8,158.5h5.9M94.1,158.5h59.3M162,158.5h59.3M273.6,158.5h20.5M307.5,158.5h107.8M1.9,162.7h5.9M31,162.7h5.9M50.4,162.7h5.9M65,162.7h30.2M108.6,162.7h73.8M191.1,162.7h39.9M239.6,162.7h15.6M263.9,162.7h1.1M273.6,162.7h25.3M312.4,162.7h98.1M1.9,166.9h5.9M26.2,166.9h5.9M50.4,166.9h44.7M103.8,166.9h25.3M137.7,166.9h1.1M147.4,166.9h54.4M210.5,166.9h20.5M244.5,166.9h54.4M312.4,166.9h73.8M394.8,166.9h20.5M26.2,171.1h1.1M35.9,171.1h59.3M103.8,171.1h20.5M157.1,171.1h1.1M166.8,171.1h10.8M186.2,171.1h1.1M195.9,171.1h20.5M234.8,171.1h1.1M244.5,171.1h15.6M268.7,171.1h10.8M293,171.1h10.8M312.4,171.1h25.3M351.2,171.1h15.6M380.3,171.1h5.9M399.7,171.1h1.1M414.2,171.1h1.1M11.6,175.4h1.1M21.3,175.4h1.1M40.7,175.4h83.5M142.6,175.4h1.1M166.8,175.4h1.1M186.2,175.4h25.3M220.2,175.4h1.1M244.5,175.4h35M297.8,175.4h39.9M346.3,175.4h20.5M375.4,175.4h5.9M394.8,175.4h5.9M414.2,175.4h1.1M1.9,179.6h1.1M31,179.6h10.8M55.3,179.6h30.2M103.8,179.6h20.5M142.6,179.6h1.1M166.8,179.6h1.1M181.4,179.6h1.1M205.6,179.6h10.8M239.6,179.6h1.1M249.3,179.6h30.2M288.1,179.6h1.1M302.7,179.6h10.8M322.1,179.6h1.1M336.6,179.6h10.8M390,179.6h1.1M414.2,179.6h1.1M1.9,183.8h1.1M11.6,183.8h1.1M26.2,183.8h64.1M108.6,183.8h15.6M142.6,183.8h1.1M166.8,183.8h10.8M205.6,183.8h15.6M234.8,183.8h15.6M259,183.8h20.5M302.7,183.8h44.7M390,183.8h1.1M1.9,188h88.4M108.6,188h15.6M142.6,188h1.1M166.8,188h10.8M186.2,188h20.5M225.1,188h35M302.7,188h1.1M312.4,188h1.1M322.1,188h25.3M380.3,188h35M1.9,192.3h88.4M108.6,192.3h15.6M142.6,192.3h1.1M166.8,192.3h10.8M186.2,192.3h15.6M220.2,192.3h39.9M302.7,192.3h10.8M326.9,192.3h20.5M380.3,192.3h35M1.9,196.5h88.4M108.6,196.5h15.6M142.6,196.5h1.1M166.8,196.5h35M210.5,196.5h35M273.6,196.5h10.8M297.8,196.5h15.6M326.9,196.5h20.5M390,196.5h25.3" stroke="#ff6a27" stroke-width="5.2" stroke-linecap="round" fill="none"/><path d="M16.5,2.1h49.6M244.5,2.1h44.7M16.5,6.3h49.6M186.2,6.3h1.1M244.5,6.3h49.6M1.9,10.6h10.8M186.2,10.6h1.1M244.5,10.6h54.4M399.7,10.6h5.9M1.9,14.8h10.8M123.2,14.8h15.6M244.5,14.8h59.3M399.7,14.8h5.9M6.8,19h5.9M118.3,19h25.3M195.9,19h1.1M234.8,19h69M356,19h10.8M385.1,19h30.2M113.5,23.2h44.7M200.8,23.2h1.1M215.4,23.2h5.9M234.8,23.2h64.1M346.3,23.2h20.5M380.3,23.2h35M16.5,27.5h35M108.6,27.5h59.3M191.1,27.5h15.6M215.4,27.5h10.8M234.8,27.5h64.1M346.3,27.5h5.9M370.6,27.5h15.6M414.2,27.5h1.1M1.9,31.7h49.6M108.6,31.7h39.9M162,31.7h10.8M195.9,31.7h10.8M215.4,31.7h1.1M229.9,31.7h44.7M302.7,31.7h1.1M341.5,31.7h1.1M365.7,31.7h25.3M414.2,31.7h1.1M1.9,35.9h49.6M108.6,35.9h78.7M195.9,35.9h44.7M249.3,35.9h10.8M302.7,35.9h5.9M341.5,35.9h1.1M356,35.9h30.2M394.8,35.9h20.5M1.9,40.1h49.6M108.6,40.1h59.3M176.5,40.1h15.6M200.8,40.1h59.3M297.8,40.1h25.3M341.5,40.1h73.8M1.9,44.4h20.5M31,44.4h20.5M113.5,44.4h39.9M162,44.4h44.7M215.4,44.4h10.8M234.8,44.4h35M297.8,44.4h25.3M341.5,44.4h73.8M1.9,48.6h44.7M123.2,48.6h146.6M288.1,48.6h39.9M341.5,48.6h73.8M1.9,52.8h39.9M128,52.8h25.3M186.2,52.8h44.7M249.3,52.8h25.3M283.3,52.8h69M360.9,52.8h35M6.8,57h35M132.9,57h20.5M162,57h1.1M186.2,57h44.7M239.6,57h1.1M254.2,57h30.2M297.8,57h102.9M6.8,61.3h30.2M147.4,61.3h10.8M176.5,61.3h25.3M210.5,61.3h1.1M239.6,61.3h1.1M249.3,61.3h20.5M283.3,61.3h5.9M302.7,61.3h5.9M317.2,61.3h1.1M394.8,61.3h5.9M6.8,65.5h25.3M137.7,65.5h1.1M147.4,65.5h5.9M162,65.5h1.1M176.5,65.5h30.2M234.8,65.5h39.9M283.3,65.5h5.9M302.7,65.5h15.6M351.2,65.5h1.1M375.4,65.5h1.1M1.9,69.7h20.5M79.5,69.7h10.8M108.6,69.7h10.8M147.4,69.7h20.5M176.5,69.7h1.1M186.2,69.7h15.6M210.5,69.7h20.5M239.6,69.7h5.9M254.2,69.7h5.9M273.6,69.7h15.6M351.2,69.7h15.6M390,69.7h25.3M1.9,73.9h15.6M79.5,73.9h10.8M108.6,73.9h10.8M147.4,73.9h83.5M254.2,73.9h5.9M273.6,73.9h15.6M351.2,73.9h5.9M365.7,73.9h1.1M390,73.9h25.3M1.9,103.5h54.4M69.8,103.5h15.6M94.1,103.5h1.1M108.6,103.5h1.1M118.3,103.5h15.6M166.8,103.5h1.1M176.5,103.5h35M234.8,103.5h44.7M288.1,103.5h30.2M351.2,103.5h25.3M394.8,103.5h20.5M1.9,107.8h54.4M65,107.8h30.2M108.6,107.8h25.3M176.5,107.8h15.6M200.8,107.8h10.8M234.8,107.8h83.5M351.2,107.8h25.3M390,107.8h25.3M1.9,112h1.1M11.6,112h35M74.7,112h15.6M108.6,112h30.2M171.7,112h30.2M244.5,112h102.9M380.3,112h35M1.9,116.2h39.9M69.8,116.2h15.6M113.5,116.2h35M166.8,116.2h35M244.5,116.2h117.5M380.3,116.2h10.8M399.7,116.2h15.6M1.9,120.4h49.6M79.5,120.4h102.9M195.9,120.4h35M239.6,120.4h39.9M293,120.4h73.8M380.3,120.4h1.1M390,120.4h1.1M399.7,120.4h15.6M1.9,124.7h44.7M55.3,124.7h1.1M74.7,124.7h5.9M89.2,124.7h69M171.7,124.7h10.8M200.8,124.7h15.6M225.1,124.7h5.9M244.5,124.7h35M293,124.7h73.8M380.3,124.7h35M1.9,128.9h15.6M26.2,128.9h5.9M45.6,128.9h10.8M69.8,128.9h25.3M108.6,128.9h49.6M176.5,128.9h5.9M195.9,128.9h35M244.5,128.9h1.1M254.2,128.9h1.1M307.5,128.9h15.6M341.5,128.9h15.6M390,128.9h25.3M1.9,133.1h15.6M31,133.1h5.9M50.4,133.1h5.9M69.8,133.1h25.3M108.6,133.1h49.6M176.5,133.1h5.9M195.9,133.1h39.9M244.5,133.1h10.8M263.9,133.1h1.1M302.7,133.1h30.2M346.3,133.1h10.8M390,133.1h25.3M50.4,137.3h5.9M89.2,137.3h5.9M128,137.3h25.3M176.5,137.3h44.7M293,137.3h10.8M356,137.3h59.3M55.3,141.6h1.1M89.2,141.6h5.9M128,141.6h5.9M142.6,141.6h5.9M176.5,141.6h10.8M195.9,141.6h20.5M288.1,141.6h25.3M322.1,141.6h1.1M351.2,141.6h5.9M365.7,141.6h49.6M152.3,145.8h10.8M176.5,145.8h25.3M302.7,145.8h5.9M336.6,145.8h10.8M356,145.8h1.1M394.8,145.8h1.1M157.1,150h5.9M176.5,150h15.6M200.8,150h1.1M302.7,150h5.9M336.6,150h10.8M380.3,150h1.1M390,150h1.1M399.7,150h1.1M166.8,154.2h1.1M244.5,154.2h5.9M50.4,158.5h1.1M244.5,158.5h5.9M302.7,162.7h5.9M302.7,166.9h5.9M283.3,171.1h5.9M307.5,171.1h1.1M283.3,175.4h5.9M244.5,179.6h1.1M254.2,183.8h1.1M283.3,183.8h1.1M205.6,196.5h1.1M249.3,196.5h1.1" stroke="#169dfe" stroke-width="5.2" stroke-linecap="round" fill="none"/><path d="M186.2,2.1h20.5M322.1,2.1h20.5M390,2.1h1.1M200.8,6.3h10.8M317.2,6.3h20.5M404.5,6.3h1.1M205.6,10.6h1.1M326.9,10.6h25.3M176.5,14.8h5.9M205.6,14.8h5.9M307.5,14.8h1.1M331.8,14.8h1.1M307.5,19h30.2M302.7,23.2h35M103.8,27.5h1.1M181.4,27.5h1.1M210.5,27.5h1.1M302.7,27.5h35M390,27.5h1.1M103.8,31.7h1.1M181.4,31.7h1.1M210.5,31.7h1.1M220.2,31.7h5.9M307.5,31.7h25.3M103.8,35.9h1.1M268.7,35.9h5.9M103.8,40.1h1.1M273.6,40.1h1.1M103.8,44.4h5.9M103.8,48.6h15.6M103.8,52.8h15.6M74.7,57h1.1M103.8,57h15.6M65,61.3h1.1M74.7,61.3h1.1M103.8,61.3h15.6M132.9,61.3h1.1M74.7,65.5h5.9M94.1,65.5h15.6M297.8,65.5h1.1M336.6,65.5h1.1M123.2,69.7h10.8M21.3,73.9h30.2M132.9,73.9h1.1M60.1,103.5h1.1M60.1,120.4h1.1M69.8,120.4h5.9M283.3,120.4h1.1M370.6,120.4h5.9M385.1,120.4h1.1M69.8,124.7h1.1M84.4,124.7h1.1M283.3,124.7h5.9M370.6,124.7h5.9M98.9,128.9h5.9M259,128.9h5.9M273.6,128.9h30.2M360.9,128.9h5.9M375.4,128.9h10.8M98.9,133.1h5.9M268.7,133.1h20.5M297.8,133.1h1.1M360.9,133.1h25.3M6.8,137.3h1.1M31,137.3h1.1M40.7,137.3h1.1M98.9,137.3h25.3M157.1,137.3h1.1M225.1,137.3h1.1M234.8,137.3h15.6M259,137.3h1.1M268.7,137.3h20.5M312.4,137.3h5.9M103.8,141.6h5.9M118.3,141.6h5.9M152.3,141.6h10.8M191.1,141.6h1.1M220.2,141.6h30.2M263.9,141.6h5.9M278.4,141.6h5.9M317.2,141.6h1.1M360.9,141.6h1.1M113.5,145.8h1.1M229.9,145.8h15.6M259,145.8h1.1M268.7,145.8h1.1M283.3,145.8h1.1M293,145.8h1.1M317.2,145.8h1.1M26.2,150h1.1M113.5,150h1.1M225.1,150h5.9M239.6,150h5.9M254.2,150h15.6M293,150h1.1M385.1,150h1.1M11.6,154.2h1.1M26.2,154.2h1.1M60.1,154.2h5.9M84.4,154.2h1.1M94.1,154.2h1.1M123.2,154.2h1.1M225.1,154.2h15.6M254.2,154.2h10.8M273.6,154.2h1.1M307.5,154.2h1.1M1.9,158.5h1.1M11.6,158.5h5.9M60.1,158.5h5.9M79.5,158.5h10.8M157.1,158.5h1.1M225.1,158.5h15.6M254.2,158.5h15.6M297.8,158.5h5.9M11.6,162.7h15.6M40.7,162.7h5.9M60.1,162.7h1.1M186.2,162.7h1.1M234.8,162.7h1.1M259,162.7h1.1M268.7,162.7h1.1M414.2,162.7h1.1M11.6,166.9h10.8M35.9,166.9h10.8M132.9,166.9h1.1M142.6,166.9h1.1M205.6,166.9h1.1M234.8,166.9h5.9M390,166.9h1.1M1.9,171.1h20.5M31,171.1h1.1M128,171.1h25.3M162,171.1h1.1M181.4,171.1h1.1M191.1,171.1h1.1M220.2,171.1h10.8M239.6,171.1h1.1M263.9,171.1h1.1M370.6,171.1h5.9M390,171.1h5.9M404.5,171.1h5.9M1.9,175.4h5.9M16.5,175.4h1.1M26.2,175.4h10.8M128,175.4h10.8M147.4,175.4h15.6M171.7,175.4h10.8M215.4,175.4h1.1M225.1,175.4h15.6M293,175.4h1.1M370.6,175.4h1.1M385.1,175.4h5.9M404.5,175.4h5.9M6.8,179.6h20.5M45.6,179.6h5.9M89.2,179.6h10.8M128,179.6h10.8M147.4,179.6h15.6M171.7,179.6h5.9M195.9,179.6h5.9M220.2,179.6h15.6M283.3,179.6h1.1M293,179.6h5.9M317.2,179.6h1.1M326.9,179.6h5.9M370.6,179.6h15.6M394.8,179.6h15.6M6.8,183.8h1.1M16.5,183.8h5.9M94.1,183.8h10.8M128,183.8h10.8M147.4,183.8h15.6M181.4,183.8h1.1M195.9,183.8h5.9M225.1,183.8h5.9M288.1,183.8h10.8M370.6,183.8h15.6M394.8,183.8h20.5M94.1,188h10.8M128,188h10.8M147.4,188h15.6M181.4,188h1.1M210.5,188h10.8M273.6,188h15.6M307.5,188h1.1M317.2,188h1.1M94.1,192.3h10.8M128,192.3h10.8M147.4,192.3h15.6M181.4,192.3h1.1M205.6,192.3h10.8M273.6,192.3h15.6M317.2,192.3h5.9M94.1,196.5h10.8M128,196.5h10.8M147.4,196.5h15.6M288.1,196.5h5.9M317.2,196.5h5.9" stroke="#c8400a" stroke-width="5.2" stroke-linecap="round" fill="none"/><path d="M152.3,31.7h5.9M390,35.9h1.1M171.7,40.1h1.1M229.9,44.4h1.1M331.8,44.4h5.9M331.8,48.6h5.9M176.5,52.8h5.9M171.7,57h10.8M288.1,57h5.9M205.6,61.3h1.1M215.4,61.3h5.9M322.1,61.3h5.9M210.5,65.5h10.8M322.1,65.5h5.9M60.1,69.7h1.1M69.8,69.7h5.9M103.8,69.7h1.1M137.7,69.7h5.9M205.6,69.7h1.1M293,69.7h20.5M60.1,73.9h15.6M94.1,73.9h10.8M123.2,73.9h5.9M137.7,73.9h5.9M293,73.9h20.5M137.7,103.5h25.3M215.4,103.5h15.6M137.7,107.8h25.3M215.4,107.8h15.6M6.8,112h1.1M142.6,112h20.5M215.4,112h1.1M108.6,116.2h1.1M152.3,116.2h10.8M225.1,116.2h1.1M259,133.1h1.1M98.9,162.7h5.9M98.9,166.9h1.1M98.9,171.1h1.1" stroke="#4e5b8e" stroke-width="5.2" stroke-linecap="round" fill="none"/>
<use href="#nodata"/>
<rect x="0" y="77.4" width="417.2" height="23.3" fill="#e4e4e4"/>
<use href="#land"/>
</g>
<rect x="0" y="0" width="417.2" height="198.6" fill="none" stroke="#000" stroke-width="2.2"/>
<path d="M0,-1v-3.6M0,199.6v3.6M69.5,-1v-3.6M69.5,199.6v3.6M139.1,-1v-3.6M139.1,199.6v3.6M208.6,-1v-3.6M208.6,199.6v3.6M278.1,-1v-3.6M278.1,199.6v3.6M347.7,-1v-3.6M347.7,199.6v3.6M417.2,-1v-3.6M417.2,199.6v3.6M-1,9.5h-3.6M418.2,9.5h3.6M-1,53.2h-3.6M418.2,53.2h3.6M-1,89h-3.6M418.2,89h3.6M-1,124.8h-3.6M418.2,124.8h3.6M-1,168.5h-3.6M418.2,168.5h3.6" stroke="#000" stroke-width="2.2" fill="none"/>
<text x="1.5" y="219.3" font-size="17.33" text-anchor="middle">0°</text>
<text x="71.5" y="219.3" font-size="17.33" text-anchor="middle">60°E</text>
<text x="141.1" y="219.3" font-size="17.33" text-anchor="middle">120°E</text>
<text x="210.1" y="219.3" font-size="17.33" text-anchor="middle">180°</text>
<text x="280.1" y="219.3" font-size="17.33" text-anchor="middle">120°W</text>
<text x="349.7" y="219.3" font-size="17.33" text-anchor="middle">60°W</text>
<text x="418.7" y="219.3" font-size="17.33" text-anchor="middle">0°</text>
<text x="-9" y="16.8" font-size="17.33" text-anchor="end">60°N</text>
<text x="-9" y="60.5" font-size="17.33" text-anchor="end">30°N</text>
<text x="-9" y="96.3" font-size="17.33" text-anchor="end">0°</text>
<text x="-9" y="132.1" font-size="17.33" text-anchor="end">30°S</text>
<text x="-9" y="175.8" font-size="17.33" text-anchor="end">60°S</text>
<text x="208.6" y="246.8" font-size="17.33" text-anchor="middle" fill="#262626">Longitude</text>
<text transform="translate(-60.5,97.4) rotate(-90)" font-size="17.33" text-anchor="middle" fill="#262626">Latitude</text>
<text x="208.2" y="-4.3" font-size="17.33" text-anchor="middle">Second dominant sources in summer</text>
<text x="-17" y="-6.9" font-size="22.8" font-weight="bold">d</text>
</g>
<g transform="translate(748.7,40.3)">
<g clip-path="url(#cp)">
<path d="M1.9,2.1h64.1M137.7,2.1h35M186.2,2.1h25.3M225.1,2.1h1.1M234.8,2.1h15.6M259,2.1h30.2M356,2.1h10.8M409.4,2.1h5.9M1.9,6.3h64.1M132.9,6.3h39.9M186.2,6.3h25.3M225.1,6.3h1.1M234.8,6.3h15.6M259,6.3h35M360.9,6.3h5.9M409.4,6.3h1.1M6.8,10.6h59.3M128,10.6h44.7M186.2,10.6h5.9M215.4,10.6h10.8M234.8,10.6h15.6M259,10.6h39.9M356,10.6h10.8M1.9,14.8h64.1M142.6,14.8h35M186.2,14.8h5.9M200.8,14.8h1.1M215.4,14.8h10.8M234.8,14.8h20.5M268.7,14.8h39.9M331.8,14.8h49.6M16.5,19h44.7M142.6,19h64.1M215.4,19h5.9M229.9,19h1.1M239.6,19h1.1M254.2,19h5.9M268.7,19h64.1M341.5,19h15.6M365.7,19h15.6M399.7,19h1.1M1.9,23.2h49.6M142.6,23.2h64.1M215.4,23.2h1.1M225.1,23.2h1.1M244.5,23.2h1.1M254.2,23.2h78.7M341.5,23.2h1.1M360.9,23.2h15.6M390,23.2h5.9M414.2,23.2h1.1M6.8,27.5h5.9M21.3,27.5h30.2M79.5,27.5h1.1M142.6,27.5h49.6M200.8,27.5h25.3M234.8,27.5h5.9M249.3,27.5h83.5M341.5,27.5h35M385.1,27.5h1.1M6.8,31.7h1.1M21.3,31.7h30.2M79.5,31.7h1.1M142.6,31.7h5.9M166.8,31.7h73.8M249.3,31.7h49.6M307.5,31.7h25.3M341.5,31.7h10.8M360.9,31.7h10.8M385.1,31.7h1.1M1.9,35.9h5.9M21.3,35.9h30.2M79.5,35.9h1.1M142.6,35.9h10.8M166.8,35.9h15.6M200.8,35.9h15.6M225.1,35.9h44.7M278.4,35.9h20.5M351.2,35.9h15.6M385.1,35.9h5.9M414.2,35.9h1.1M1.9,40.1h5.9M26.2,40.1h5.9M79.5,40.1h1.1M157.1,40.1h1.1M176.5,40.1h10.8M220.2,40.1h10.8M239.6,40.1h30.2M312.4,40.1h10.8M341.5,40.1h1.1M351.2,40.1h20.5M380.3,40.1h1.1M404.5,40.1h10.8M1.9,44.4h10.8M79.5,44.4h1.1M113.5,44.4h39.9M162,44.4h1.1M176.5,44.4h1.1M205.6,44.4h1.1M215.4,44.4h54.4M312.4,44.4h25.3M351.2,44.4h1.1M365.7,44.4h1.1M375.4,44.4h1.1M414.2,44.4h1.1M1.9,48.6h10.8M79.5,48.6h1.1M113.5,48.6h39.9M162,48.6h1.1M215.4,48.6h15.6M239.6,48.6h30.2M278.4,48.6h5.9M317.2,48.6h5.9M331.8,48.6h5.9M351.2,48.6h5.9M365.7,48.6h1.1M380.3,48.6h1.1M1.9,52.8h10.8M79.5,52.8h1.1M113.5,52.8h25.3M186.2,52.8h1.1M205.6,52.8h10.8M225.1,52.8h1.1M254.2,52.8h1.1M326.9,52.8h1.1M351.2,52.8h1.1M370.6,52.8h1.1M380.3,52.8h1.1M394.8,52.8h5.9M1.9,57h10.8M79.5,57h1.1M113.5,57h10.8M205.6,57h1.1M215.4,57h1.1M244.5,57h1.1M259,57h1.1M288.1,57h5.9M312.4,57h1.1M341.5,57h1.1M351.2,57h1.1M360.9,57h1.1M370.6,57h1.1M385.1,57h5.9M1.9,61.3h10.8M69.8,61.3h1.1M79.5,61.3h1.1M113.5,61.3h10.8M132.9,61.3h15.6M166.8,61.3h1.1M191.1,61.3h5.9M234.8,61.3h1.1M244.5,61.3h15.6M268.7,61.3h1.1M317.2,61.3h5.9M380.3,61.3h35M6.8,65.5h5.9M113.5,65.5h20.5M142.6,65.5h1.1M157.1,65.5h1.1M215.4,65.5h1.1M259,65.5h10.8M283.3,65.5h30.2M341.5,65.5h1.1M356,65.5h1.1M380.3,65.5h5.9M6.8,69.7h5.9M84.4,69.7h5.9M103.8,69.7h35M152.3,69.7h5.9M181.4,69.7h1.1M229.9,69.7h1.1M239.6,69.7h10.8M259,69.7h1.1M293,69.7h5.9M346.3,69.7h1.1M365.7,69.7h1.1M380.3,69.7h5.9M11.6,73.9h1.1M84.4,73.9h10.8M113.5,73.9h25.3M147.4,73.9h5.9M229.9,73.9h10.8M249.3,73.9h1.1M259,73.9h5.9M283.3,73.9h1.1M293,73.9h5.9M380.3,73.9h5.9M11.6,103.5h1.1M35.9,103.5h30.2M79.5,103.5h5.9M108.6,103.5h10.8M132.9,103.5h49.6M200.8,103.5h1.1M210.5,103.5h10.8M234.8,103.5h15.6M278.4,103.5h10.8M390,103.5h1.1M11.6,107.8h54.4M79.5,107.8h1.1M103.8,107.8h10.8M132.9,107.8h54.4M210.5,107.8h5.9M239.6,107.8h20.5M283.3,107.8h5.9M297.8,107.8h1.1M317.2,107.8h1.1M11.6,112h1.1M31,112h15.6M55.3,112h30.2M108.6,112h5.9M142.6,112h69M234.8,112h5.9M273.6,112h1.1M375.4,112h5.9M31,116.2h25.3M65,116.2h1.1M79.5,116.2h1.1M103.8,116.2h10.8M157.1,116.2h44.7M210.5,116.2h1.1M220.2,116.2h1.1M229.9,116.2h20.5M259,116.2h1.1M278.4,116.2h1.1M297.8,116.2h1.1M351.2,116.2h10.8M394.8,116.2h1.1M16.5,120.4h25.3M50.4,120.4h1.1M60.1,120.4h44.7M118.3,120.4h5.9M157.1,120.4h20.5M186.2,120.4h30.2M225.1,120.4h15.6M263.9,120.4h1.1M278.4,120.4h1.1M293,120.4h10.8M322.1,120.4h1.1M351.2,120.4h20.5M380.3,120.4h5.9M404.5,120.4h1.1M11.6,124.7h1.1M31,124.7h15.6M55.3,124.7h1.1M65,124.7h5.9M79.5,124.7h10.8M98.9,124.7h5.9M118.3,124.7h10.8M157.1,124.7h39.9M210.5,124.7h10.8M234.8,124.7h5.9M249.3,124.7h1.1M268.7,124.7h1.1M293,124.7h1.1M312.4,124.7h1.1M322.1,124.7h1.1M351.2,124.7h10.8M370.6,124.7h10.8M399.7,124.7h1.1M11.6,128.9h5.9M31,128.9h54.4M94.1,128.9h20.5M123.2,128.9h1.1M132.9,128.9h5.9M157.1,128.9h35M205.6,128.9h5.9M249.3,128.9h1.1M283.3,128.9h5.9M297.8,128.9h1.1M312.4,128.9h10.8M351.2,128.9h5.9M375.4,128.9h10.8M394.8,128.9h1.1M409.4,128.9h5.9M11.6,133.1h1.1M26.2,133.1h5.9M40.7,133.1h39.9M89.2,133.1h1.1M98.9,133.1h1.1M108.6,133.1h5.9M128,133.1h5.9M157.1,133.1h35M205.6,133.1h5.9M225.1,133.1h5.9M249.3,133.1h5.9M283.3,133.1h1.1M293,133.1h5.9M307.5,133.1h1.1M326.9,133.1h5.9M351.2,133.1h5.9M370.6,133.1h25.3M404.5,133.1h10.8M6.8,137.3h1.1M16.5,137.3h1.1M26.2,137.3h15.6M60.1,137.3h25.3M98.9,137.3h10.8M128,137.3h1.1M137.7,137.3h1.1M147.4,137.3h1.1M157.1,137.3h10.8M176.5,137.3h5.9M195.9,137.3h1.1M205.6,137.3h10.8M225.1,137.3h5.9M244.5,137.3h5.9M283.3,137.3h20.5M312.4,137.3h20.5M346.3,137.3h10.8M370.6,137.3h15.6M404.5,137.3h10.8M1.9,141.6h1.1M11.6,141.6h54.4M74.7,141.6h10.8M98.9,141.6h1.1M108.6,141.6h10.8M128,141.6h15.6M157.1,141.6h5.9M176.5,141.6h5.9M191.1,141.6h5.9M205.6,141.6h5.9M225.1,141.6h10.8M263.9,141.6h5.9M283.3,141.6h25.3M322.1,141.6h10.8M346.3,141.6h5.9M370.6,141.6h20.5M409.4,141.6h1.1M6.8,145.8h1.1M16.5,145.8h1.1M31,145.8h15.6M55.3,145.8h1.1M65,145.8h1.1M89.2,145.8h5.9M103.8,145.8h30.2M157.1,145.8h15.6M186.2,145.8h15.6M210.5,145.8h1.1M225.1,145.8h5.9M244.5,145.8h1.1M268.7,145.8h10.8M288.1,145.8h1.1M297.8,145.8h25.3M336.6,145.8h10.8M360.9,145.8h1.1M380.3,145.8h10.8M409.4,145.8h5.9M1.9,150h5.9M35.9,150h1.1M45.6,150h5.9M60.1,150h5.9M79.5,150h1.1M98.9,150h10.8M118.3,150h20.5M166.8,150h5.9M186.2,150h10.8M205.6,150h5.9M220.2,150h10.8M239.6,150h5.9M254.2,150h1.1M263.9,150h1.1M273.6,150h25.3M307.5,150h10.8M336.6,150h15.6M365.7,150h1.1M375.4,150h1.1M385.1,150h15.6M409.4,150h5.9M6.8,154.2h1.1M16.5,154.2h1.1M26.2,154.2h1.1M45.6,154.2h1.1M60.1,154.2h1.1M79.5,154.2h1.1M98.9,154.2h20.5M128,154.2h5.9M142.6,154.2h1.1M152.3,154.2h10.8M171.7,154.2h1.1M191.1,154.2h10.8M215.4,154.2h5.9M234.8,154.2h1.1M244.5,154.2h1.1M263.9,154.2h54.4M341.5,154.2h15.6M380.3,154.2h5.9M399.7,154.2h5.9M1.9,158.5h1.1M11.6,158.5h5.9M35.9,158.5h5.9M55.3,158.5h20.5M98.9,158.5h35M142.6,158.5h1.1M157.1,158.5h5.9M200.8,158.5h1.1M210.5,158.5h1.1M220.2,158.5h1.1M259,158.5h5.9M273.6,158.5h10.8M293,158.5h25.3M351.2,158.5h5.9M380.3,158.5h5.9M394.8,158.5h10.8M1.9,162.7h10.8M40.7,162.7h1.1M55.3,162.7h1.1M79.5,162.7h1.1M89.2,162.7h1.1M98.9,162.7h20.5M128,162.7h5.9M171.7,162.7h1.1M215.4,162.7h20.5M244.5,162.7h1.1M263.9,162.7h54.4M356,162.7h10.8M404.5,162.7h5.9M1.9,166.9h5.9M45.6,166.9h1.1M55.3,166.9h5.9M79.5,166.9h1.1M89.2,166.9h5.9M108.6,166.9h30.2M152.3,166.9h5.9M186.2,166.9h1.1M200.8,166.9h1.1M210.5,166.9h1.1M220.2,166.9h10.8M249.3,166.9h20.5M278.4,166.9h1.1M288.1,166.9h30.2M331.8,166.9h5.9M346.3,166.9h1.1M360.9,166.9h10.8M385.1,166.9h1.1M1.9,171.1h1.1M40.7,171.1h5.9M84.4,171.1h1.1M103.8,171.1h1.1M113.5,171.1h1.1M176.5,171.1h1.1M215.4,171.1h5.9M234.8,171.1h1.1M254.2,171.1h5.9M273.6,171.1h10.8M293,171.1h1.1M312.4,171.1h5.9M331.8,171.1h1.1M370.6,171.1h5.9M399.7,171.1h5.9M414.2,171.1h1.1M6.8,175.4h1.1M16.5,175.4h1.1M40.7,175.4h1.1M50.4,175.4h1.1M79.5,175.4h5.9M98.9,175.4h5.9M215.4,175.4h5.9M273.6,175.4h5.9M288.1,175.4h1.1M312.4,175.4h5.9M326.9,175.4h1.1M370.6,175.4h10.8M394.8,175.4h10.8M1.9,179.6h5.9M98.9,179.6h5.9M220.2,179.6h1.1M229.9,179.6h5.9M249.3,179.6h1.1M322.1,179.6h1.1M385.1,179.6h1.1M404.5,179.6h1.1M1.9,183.8h10.8M98.9,183.8h5.9M215.4,183.8h5.9M254.2,183.8h5.9M390,183.8h1.1M409.4,183.8h1.1M6.8,188h15.6M98.9,188h5.9M220.2,188h5.9M239.6,188h1.1M278.4,188h1.1M1.9,192.3h25.3M98.9,192.3h5.9M215.4,192.3h5.9M414.2,192.3h1.1M1.9,196.5h25.3M98.9,196.5h5.9M205.6,196.5h1.1M215.4,196.5h1.1M414.2,196.5h1.1" stroke="#9e1830" stroke-width="5.2" stroke-linecap="round" fill="none"/><path d="M176.5,2.1h5.9M229.9,2.1h1.1M322.1,2.1h20.5M370.6,2.1h25.3M176.5,6.3h5.9M229.9,6.3h1.1M317.2,6.3h20.5M370.6,6.3h25.3M414.2,6.3h1.1M1.9,10.6h1.1M176.5,10.6h5.9M195.9,10.6h15.6M229.9,10.6h1.1M326.9,10.6h25.3M370.6,10.6h35M123.2,14.8h15.6M181.4,14.8h1.1M195.9,14.8h1.1M205.6,14.8h5.9M229.9,14.8h1.1M259,14.8h5.9M385.1,14.8h20.5M1.9,19h10.8M118.3,19h20.5M210.5,19h1.1M225.1,19h1.1M263.9,19h1.1M336.6,19h1.1M360.9,19h1.1M385.1,19h10.8M404.5,19h10.8M113.5,23.2h25.3M210.5,23.2h1.1M229.9,23.2h1.1M336.6,23.2h1.1M346.3,23.2h10.8M380.3,23.2h5.9M399.7,23.2h10.8M1.9,27.5h1.1M16.5,27.5h1.1M84.4,27.5h1.1M98.9,27.5h39.9M195.9,27.5h1.1M229.9,27.5h1.1M336.6,27.5h1.1M380.3,27.5h1.1M390,27.5h25.3M1.9,31.7h1.1M11.6,31.7h5.9M84.4,31.7h54.4M152.3,31.7h10.8M302.7,31.7h1.1M336.6,31.7h1.1M356,31.7h1.1M375.4,31.7h1.1M390,31.7h25.3M11.6,35.9h5.9M84.4,35.9h54.4M157.1,35.9h5.9M186.2,35.9h10.8M220.2,35.9h1.1M273.6,35.9h1.1M302.7,35.9h44.7M370.6,35.9h10.8M394.8,35.9h15.6M11.6,40.1h10.8M35.9,40.1h15.6M84.4,40.1h69M162,40.1h10.8M191.1,40.1h25.3M234.8,40.1h1.1M273.6,40.1h35M326.9,40.1h10.8M346.3,40.1h1.1M375.4,40.1h1.1M385.1,40.1h15.6M16.5,44.4h35M84.4,44.4h25.3M157.1,44.4h1.1M166.8,44.4h5.9M181.4,44.4h20.5M210.5,44.4h1.1M273.6,44.4h35M341.5,44.4h5.9M356,44.4h5.9M370.6,44.4h1.1M380.3,44.4h30.2M16.5,48.6h30.2M84.4,48.6h25.3M157.1,48.6h1.1M166.8,48.6h44.7M234.8,48.6h1.1M273.6,48.6h1.1M288.1,48.6h25.3M326.9,48.6h1.1M341.5,48.6h5.9M360.9,48.6h1.1M370.6,48.6h5.9M385.1,48.6h30.2M16.5,52.8h25.3M84.4,52.8h25.3M142.6,52.8h39.9M191.1,52.8h10.8M220.2,52.8h1.1M229.9,52.8h20.5M259,52.8h64.1M331.8,52.8h1.1M341.5,52.8h5.9M356,52.8h10.8M375.4,52.8h1.1M385.1,52.8h5.9M404.5,52.8h10.8M16.5,57h25.3M74.7,57h1.1M84.4,57h25.3M128,57h73.8M210.5,57h1.1M220.2,57h20.5M249.3,57h5.9M263.9,57h20.5M297.8,57h10.8M317.2,57h20.5M346.3,57h1.1M356,57h1.1M365.7,57h1.1M375.4,57h5.9M16.5,61.3h49.6M74.7,61.3h1.1M84.4,61.3h25.3M128,61.3h1.1M152.3,61.3h10.8M171.7,61.3h15.6M200.8,61.3h30.2M239.6,61.3h1.1M263.9,61.3h1.1M273.6,61.3h39.9M326.9,61.3h49.6M1.9,65.5h1.1M16.5,65.5h93.2M137.7,65.5h1.1M147.4,65.5h5.9M162,65.5h49.6M220.2,65.5h35M273.6,65.5h5.9M317.2,65.5h20.5M346.3,65.5h5.9M360.9,65.5h15.6M390,65.5h25.3M1.9,69.7h1.1M16.5,69.7h64.1M94.1,69.7h5.9M142.6,69.7h5.9M162,69.7h15.6M186.2,69.7h39.9M234.8,69.7h1.1M254.2,69.7h1.1M263.9,69.7h25.3M302.7,69.7h39.9M351.2,69.7h10.8M370.6,69.7h5.9M390,69.7h25.3M1.9,73.9h5.9M16.5,73.9h64.1M98.9,73.9h10.8M142.6,73.9h1.1M157.1,73.9h69M254.2,73.9h1.1M268.7,73.9h10.8M288.1,73.9h1.1M302.7,73.9h73.8M390,73.9h25.3M1.9,103.5h5.9M16.5,103.5h15.6M69.8,103.5h5.9M89.2,103.5h15.6M123.2,103.5h5.9M186.2,103.5h10.8M205.6,103.5h1.1M225.1,103.5h5.9M254.2,103.5h20.5M293,103.5h93.2M394.8,103.5h20.5M1.9,107.8h5.9M69.8,107.8h5.9M84.4,107.8h15.6M118.3,107.8h10.8M191.1,107.8h15.6M220.2,107.8h15.6M263.9,107.8h15.6M293,107.8h1.1M302.7,107.8h10.8M322.1,107.8h93.2M1.9,112h5.9M16.5,112h10.8M50.4,112h1.1M89.2,112h15.6M118.3,112h20.5M215.4,112h15.6M254.2,112h15.6M278.4,112h93.2M385.1,112h30.2M1.9,116.2h25.3M89.2,116.2h10.8M118.3,116.2h35M205.6,116.2h1.1M215.4,116.2h1.1M225.1,116.2h1.1M254.2,116.2h1.1M263.9,116.2h10.8M283.3,116.2h10.8M302.7,116.2h10.8M322.1,116.2h20.5M365.7,116.2h25.3M399.7,116.2h15.6M1.9,120.4h10.8M45.6,120.4h1.1M55.3,120.4h1.1M108.6,120.4h5.9M128,120.4h25.3M181.4,120.4h1.1M220.2,120.4h1.1M249.3,120.4h10.8M268.7,120.4h5.9M283.3,120.4h5.9M307.5,120.4h5.9M326.9,120.4h10.8M375.4,120.4h1.1M390,120.4h10.8M409.4,120.4h5.9M1.9,124.7h5.9M16.5,124.7h10.8M50.4,124.7h1.1M94.1,124.7h1.1M108.6,124.7h5.9M132.9,124.7h5.9M200.8,124.7h5.9M225.1,124.7h5.9M244.5,124.7h1.1M254.2,124.7h10.8M273.6,124.7h15.6M297.8,124.7h10.8M326.9,124.7h5.9M365.7,124.7h1.1M385.1,124.7h10.8M404.5,124.7h10.8M21.3,128.9h5.9M89.2,128.9h1.1M118.3,128.9h1.1M128,128.9h1.1M215.4,128.9h30.2M254.2,128.9h25.3M293,128.9h1.1M302.7,128.9h5.9M326.9,128.9h5.9M390,128.9h1.1M399.7,128.9h5.9M16.5,133.1h5.9M35.9,133.1h1.1M84.4,133.1h1.1M94.1,133.1h1.1M103.8,133.1h1.1M118.3,133.1h5.9M152.3,133.1h1.1M215.4,133.1h5.9M234.8,133.1h10.8M259,133.1h20.5M288.1,133.1h1.1M302.7,133.1h1.1M317.2,133.1h5.9M399.7,133.1h1.1M11.6,137.3h1.1M50.4,137.3h1.1M89.2,137.3h5.9M113.5,137.3h10.8M132.9,137.3h1.1M142.6,137.3h1.1M152.3,137.3h1.1M171.7,137.3h1.1M186.2,137.3h5.9M220.2,137.3h1.1M254.2,137.3h25.3M307.5,137.3h1.1M390,137.3h10.8M6.8,141.6h1.1M89.2,141.6h5.9M103.8,141.6h1.1M123.2,141.6h1.1M147.4,141.6h5.9M166.8,141.6h5.9M186.2,141.6h1.1M200.8,141.6h1.1M215.4,141.6h5.9M239.6,141.6h20.5M273.6,141.6h5.9M312.4,141.6h5.9M356,141.6h1.1M394.8,141.6h10.8M414.2,141.6h1.1M60.1,145.8h1.1M69.8,145.8h15.6M98.9,145.8h1.1M137.7,145.8h15.6M176.5,145.8h5.9M205.6,145.8h1.1M215.4,145.8h5.9M239.6,145.8h1.1M249.3,145.8h15.6M293,145.8h1.1M326.9,145.8h5.9M370.6,145.8h1.1M394.8,145.8h10.8M69.8,150h5.9M84.4,150h10.8M113.5,150h1.1M142.6,150h20.5M176.5,150h5.9M200.8,150h1.1M215.4,150h1.1M234.8,150h1.1M249.3,150h1.1M259,150h1.1M268.7,150h1.1M322.1,150h10.8M370.6,150h1.1M404.5,150h1.1M40.7,154.2h1.1M69.8,154.2h5.9M84.4,154.2h10.8M123.2,154.2h1.1M137.7,154.2h1.1M147.4,154.2h1.1M166.8,154.2h1.1M176.5,154.2h10.8M205.6,154.2h5.9M249.3,154.2h10.8M322.1,154.2h10.8M45.6,158.5h1.1M79.5,158.5h15.6M137.7,158.5h1.1M147.4,158.5h5.9M166.8,158.5h25.3M205.6,158.5h1.1M215.4,158.5h1.1M225.1,158.5h1.1M244.5,158.5h5.9M268.7,158.5h1.1M288.1,158.5h1.1M322.1,158.5h15.6M50.4,162.7h1.1M84.4,162.7h1.1M94.1,162.7h1.1M123.2,162.7h1.1M137.7,162.7h30.2M176.5,162.7h15.6M322.1,162.7h15.6M390,162.7h5.9M21.3,166.9h1.1M98.9,166.9h5.9M142.6,166.9h5.9M162,166.9h20.5M191.1,166.9h1.1M215.4,166.9h1.1M273.6,166.9h1.1M283.3,166.9h1.1M322.1,166.9h1.1M390,166.9h1.1M409.4,166.9h1.1M6.8,171.1h1.1M98.9,171.1h1.1M123.2,171.1h1.1M157.1,171.1h15.6M181.4,171.1h10.8M225.1,171.1h5.9M297.8,171.1h5.9M336.6,171.1h1.1M1.9,175.4h1.1M108.6,175.4h1.1M147.4,175.4h1.1M157.1,175.4h30.2M225.1,175.4h5.9M293,175.4h5.9M307.5,175.4h1.1M331.8,175.4h5.9M108.6,179.6h1.1M147.4,179.6h1.1M157.1,179.6h15.6M336.6,179.6h5.9M108.6,183.8h1.1M147.4,183.8h1.1M157.1,183.8h15.6M200.8,183.8h1.1M229.9,183.8h1.1M1.9,188h1.1M108.6,188h1.1M147.4,188h1.1M157.1,188h15.6M414.2,188h1.1M108.6,192.3h1.1M147.4,192.3h1.1M157.1,192.3h15.6M108.6,196.5h1.1M147.4,196.5h1.1M157.1,196.5h10.8M210.5,196.5h1.1" stroke="#f0c490" stroke-width="5.2" stroke-linecap="round" fill="none"/><path d="M254.2,2.1h1.1M351.2,2.1h1.1M399.7,2.1h5.9M254.2,6.3h1.1M351.2,6.3h5.9M399.7,6.3h5.9M254.2,10.6h1.1M65,19h1.1M234.8,19h1.1M244.5,19h5.9M55.3,23.2h15.6M220.2,23.2h1.1M234.8,23.2h5.9M249.3,23.2h1.1M55.3,27.5h20.5M244.5,27.5h1.1M55.3,31.7h20.5M244.5,31.7h1.1M380.3,31.7h1.1M55.3,35.9h20.5M55.3,40.1h20.5M55.3,44.4h20.5M50.4,48.6h25.3M45.6,52.8h30.2M336.6,52.8h1.1M45.6,57h25.3M394.8,57h20.5M244.5,73.9h1.1M244.5,112h5.9M60.1,116.2h1.1M69.8,116.2h5.9M84.4,116.2h1.1M317.2,116.2h1.1M346.3,116.2h1.1M244.5,120.4h1.1M317.2,120.4h1.1M341.5,120.4h5.9M60.1,124.7h1.1M74.7,124.7h1.1M142.6,124.7h10.8M317.2,124.7h1.1M336.6,124.7h10.8M1.9,128.9h5.9M142.6,128.9h10.8M195.9,128.9h5.9M336.6,128.9h10.8M360.9,128.9h10.8M1.9,133.1h5.9M137.7,133.1h10.8M195.9,133.1h5.9M312.4,133.1h1.1M336.6,133.1h10.8M360.9,133.1h5.9M1.9,137.3h1.1M21.3,137.3h1.1M45.6,137.3h1.1M55.3,137.3h1.1M200.8,137.3h1.1M234.8,137.3h5.9M336.6,137.3h5.9M360.9,137.3h5.9M69.8,141.6h1.1M336.6,141.6h5.9M360.9,141.6h5.9M1.9,145.8h1.1M11.6,145.8h1.1M21.3,145.8h5.9M50.4,145.8h1.1M234.8,145.8h1.1M283.3,145.8h1.1M351.2,145.8h5.9M365.7,145.8h1.1M375.4,145.8h1.1M11.6,150h20.5M40.7,150h1.1M55.3,150h1.1M302.7,150h1.1M356,150h5.9M380.3,150h1.1M1.9,154.2h1.1M11.6,154.2h1.1M21.3,154.2h1.1M31,154.2h5.9M50.4,154.2h5.9M65,154.2h1.1M225.1,154.2h5.9M239.6,154.2h1.1M336.6,154.2h1.1M360.9,154.2h15.6M390,154.2h5.9M409.4,154.2h5.9M6.8,158.5h1.1M21.3,158.5h10.8M50.4,158.5h1.1M195.9,158.5h1.1M229.9,158.5h10.8M254.2,158.5h1.1M341.5,158.5h5.9M360.9,158.5h15.6M390,158.5h1.1M409.4,158.5h5.9M16.5,162.7h20.5M45.6,162.7h1.1M60.1,162.7h15.6M195.9,162.7h15.6M239.6,162.7h1.1M249.3,162.7h10.8M341.5,162.7h10.8M370.6,162.7h15.6M399.7,162.7h1.1M414.2,162.7h1.1M11.6,166.9h5.9M26.2,166.9h15.6M50.4,166.9h1.1M65,166.9h10.8M84.4,166.9h1.1M195.9,166.9h1.1M205.6,166.9h1.1M234.8,166.9h10.8M326.9,166.9h1.1M341.5,166.9h1.1M351.2,166.9h5.9M375.4,166.9h5.9M394.8,166.9h10.8M414.2,166.9h1.1M11.6,171.1h25.3M50.4,171.1h30.2M89.2,171.1h5.9M108.6,171.1h1.1M118.3,171.1h1.1M128,171.1h25.3M195.9,171.1h15.6M239.6,171.1h10.8M263.9,171.1h5.9M288.1,171.1h1.1M307.5,171.1h1.1M322.1,171.1h5.9M351.2,171.1h15.6M380.3,171.1h15.6M409.4,171.1h1.1M11.6,175.4h1.1M21.3,175.4h15.6M45.6,175.4h1.1M55.3,175.4h20.5M89.2,175.4h5.9M113.5,175.4h30.2M152.3,175.4h1.1M191.1,175.4h20.5M234.8,175.4h35M283.3,175.4h1.1M302.7,175.4h1.1M322.1,175.4h1.1M346.3,175.4h20.5M385.1,175.4h5.9M409.4,175.4h5.9M11.6,179.6h64.1M89.2,179.6h5.9M113.5,179.6h30.2M152.3,179.6h1.1M195.9,179.6h20.5M225.1,179.6h1.1M239.6,179.6h5.9M254.2,179.6h5.9M283.3,179.6h35M326.9,179.6h5.9M346.3,179.6h1.1M380.3,179.6h1.1M390,179.6h10.8M409.4,179.6h5.9M16.5,183.8h59.3M84.4,183.8h10.8M113.5,183.8h30.2M152.3,183.8h1.1M195.9,183.8h1.1M205.6,183.8h5.9M225.1,183.8h1.1M234.8,183.8h15.6M283.3,183.8h64.1M380.3,183.8h5.9M394.8,183.8h10.8M414.2,183.8h1.1M26.2,188h69M113.5,188h30.2M152.3,188h1.1M176.5,188h39.9M229.9,188h5.9M244.5,188h15.6M273.6,188h1.1M312.4,188h5.9M331.8,188h15.6M399.7,188h10.8M31,192.3h64.1M113.5,192.3h30.2M152.3,192.3h1.1M176.5,192.3h35M225.1,192.3h35M273.6,192.3h5.9M312.4,192.3h5.9M331.8,192.3h15.6M399.7,192.3h10.8M31,196.5h64.1M113.5,196.5h30.2M152.3,196.5h1.1M171.7,196.5h30.2M220.2,196.5h30.2M273.6,196.5h73.8M390,196.5h20.5" stroke="#33d4d6" stroke-width="5.2" stroke-linecap="round" fill="none"/>
<use href="#nodata"/>
<rect x="0" y="77.4" width="417.2" height="23.3" fill="#e4e4e4"/>
<use href="#land"/>
</g>
<rect x="0" y="0" width="417.2" height="198.6" fill="none" stroke="#000" stroke-width="2.2"/>
<path d="M0,-1v-3.6M0,199.6v3.6M69.5,-1v-3.6M69.5,199.6v3.6M139.1,-1v-3.6M139.1,199.6v3.6M208.6,-1v-3.6M208.6,199.6v3.6M278.1,-1v-3.6M278.1,199.6v3.6M347.7,-1v-3.6M347.7,199.6v3.6M417.2,-1v-3.6M417.2,199.6v3.6M-1,9.5h-3.6M418.2,9.5h3.6M-1,53.2h-3.6M418.2,53.2h3.6M-1,89h-3.6M418.2,89h3.6M-1,124.8h-3.6M418.2,124.8h3.6M-1,168.5h-3.6M418.2,168.5h3.6" stroke="#000" stroke-width="2.2" fill="none"/>
<text x="1.5" y="219.3" font-size="17.33" text-anchor="middle">0°</text>
<text x="71.5" y="219.3" font-size="17.33" text-anchor="middle">60°E</text>
<text x="141.1" y="219.3" font-size="17.33" text-anchor="middle">120°E</text>
<text x="210.1" y="219.3" font-size="17.33" text-anchor="middle">180°</text>
<text x="280.1" y="219.3" font-size="17.33" text-anchor="middle">120°W</text>
<text x="349.7" y="219.3" font-size="17.33" text-anchor="middle">60°W</text>
<text x="418.7" y="219.3" font-size="17.33" text-anchor="middle">0°</text>
<text x="-9" y="16.8" font-size="17.33" text-anchor="end">60°N</text>
<text x="-9" y="60.5" font-size="17.33" text-anchor="end">30°N</text>
<text x="-9" y="96.3" font-size="17.33" text-anchor="end">0°</text>
<text x="-9" y="132.1" font-size="17.33" text-anchor="end">30°S</text>
<text x="-9" y="175.8" font-size="17.33" text-anchor="end">60°S</text>
<text x="208.6" y="246.8" font-size="17.33" text-anchor="middle" fill="#262626">Longitude</text>
<text transform="translate(-60.5,97.4) rotate(-90)" font-size="17.33" text-anchor="middle" fill="#262626">Latitude</text>
<text x="208.2" y="-4.3" font-size="17.33" text-anchor="middle">Contribution of first dominant sources in winter</text>
<text x="-17" y="-6.9" font-size="22.8" font-weight="bold">e</text>
</g>
<g transform="translate(748.7,319)">
<g clip-path="url(#cp)">
<path d="M1.9,2.1h10.8M137.7,2.1h35M186.2,2.1h25.3M225.1,2.1h5.9M259,2.1h30.2M360.9,2.1h54.4M132.9,6.3h39.9M186.2,6.3h25.3M225.1,6.3h5.9M259,6.3h35M360.9,6.3h54.4M128,10.6h44.7M186.2,10.6h25.3M225.1,10.6h5.9M259,10.6h39.9M365.7,10.6h1.1M375.4,10.6h30.2M123.2,14.8h49.6M186.2,14.8h25.3M225.1,14.8h5.9M307.5,14.8h1.1M331.8,14.8h1.1M360.9,14.8h44.7M1.9,19h10.8M118.3,19h20.5M186.2,19h25.3M307.5,19h88.4M404.5,19h10.8M1.9,23.2h1.1M113.5,23.2h25.3M171.7,23.2h1.1M186.2,23.2h15.6M210.5,23.2h1.1M229.9,23.2h1.1M302.7,23.2h35M346.3,23.2h39.9M394.8,23.2h1.1M404.5,23.2h10.8M1.9,27.5h1.1M21.3,27.5h30.2M79.5,27.5h5.9M98.9,27.5h39.9M171.7,27.5h1.1M181.4,27.5h5.9M195.9,27.5h15.6M259,27.5h1.1M302.7,27.5h35M351.2,27.5h25.3M385.1,27.5h30.2M1.9,31.7h1.1M21.3,31.7h30.2M79.5,31.7h59.3M147.4,31.7h1.1M171.7,31.7h10.8M191.1,31.7h5.9M205.6,31.7h10.8M259,31.7h5.9M278.4,31.7h59.3M346.3,31.7h1.1M360.9,31.7h15.6M399.7,31.7h15.6M21.3,35.9h30.2M79.5,35.9h59.3M147.4,35.9h15.6M176.5,35.9h10.8M195.9,35.9h20.5M225.1,35.9h5.9M254.2,35.9h5.9M273.6,35.9h30.2M312.4,35.9h39.9M360.9,35.9h5.9M380.3,35.9h30.2M1.9,40.1h1.1M11.6,40.1h20.5M79.5,40.1h78.7M171.7,40.1h1.1M181.4,40.1h30.2M225.1,40.1h15.6M254.2,40.1h5.9M273.6,40.1h30.2M312.4,40.1h35M360.9,40.1h1.1M375.4,40.1h10.8M394.8,40.1h20.5M1.9,44.4h25.3M79.5,44.4h30.2M147.4,44.4h49.6M205.6,44.4h5.9M225.1,44.4h5.9M244.5,44.4h10.8M273.6,44.4h30.2M312.4,44.4h10.8M331.8,44.4h5.9M346.3,44.4h1.1M360.9,44.4h10.8M380.3,44.4h35M1.9,48.6h25.3M79.5,48.6h39.9M152.3,48.6h30.2M191.1,48.6h20.5M229.9,48.6h1.1M254.2,48.6h1.1M273.6,48.6h30.2M312.4,48.6h1.1M326.9,48.6h25.3M360.9,48.6h54.4M1.9,52.8h25.3M79.5,52.8h44.7M147.4,52.8h54.4M210.5,52.8h35M263.9,52.8h39.9M312.4,52.8h30.2M351.2,52.8h10.8M375.4,52.8h39.9M1.9,57h25.3M79.5,57h49.6M147.4,57h112.6M273.6,57h44.7M326.9,57h54.4M390,57h25.3M1.9,61.3h25.3M40.7,61.3h30.2M79.5,61.3h54.4M142.6,61.3h15.6M166.8,61.3h1.1M186.2,61.3h25.3M220.2,61.3h25.3M263.9,61.3h69M341.5,61.3h35M385.1,61.3h30.2M1.9,65.5h25.3M35.9,65.5h15.6M65,65.5h1.1M79.5,65.5h1.1M94.1,65.5h64.1M186.2,65.5h1.1M200.8,65.5h49.6M259,65.5h93.2M365.7,65.5h20.5M394.8,65.5h20.5M1.9,69.7h117.5M137.7,69.7h69M215.4,69.7h30.2M254.2,69.7h98.1M360.9,69.7h5.9M375.4,69.7h5.9M390,69.7h25.3M1.9,73.9h98.1M108.6,73.9h10.8M137.7,73.9h59.3M205.6,73.9h20.5M234.8,73.9h1.1M244.5,73.9h88.4M341.5,73.9h73.8M1.9,103.5h54.4M69.8,103.5h30.2M108.6,103.5h39.9M171.7,103.5h5.9M186.2,103.5h10.8M205.6,103.5h73.8M288.1,103.5h5.9M302.7,103.5h112.6M1.9,107.8h1.1M26.2,107.8h20.5M55.3,107.8h5.9M69.8,107.8h25.3M113.5,107.8h35M176.5,107.8h30.2M220.2,107.8h15.6M244.5,107.8h15.6M273.6,107.8h10.8M293,107.8h122.3M1.9,112h20.5M50.4,112h5.9M65,112h1.1M74.7,112h1.1M84.4,112h10.8M108.6,112h5.9M123.2,112h25.3M171.7,112h20.5M200.8,112h54.4M263.9,112h5.9M278.4,112h5.9M293,112h10.8M312.4,112h5.9M326.9,112h88.4M1.9,116.2h49.6M60.1,116.2h25.3M94.1,116.2h1.1M103.8,116.2h10.8M123.2,116.2h25.3M166.8,116.2h25.3M200.8,116.2h1.1M210.5,116.2h49.6M268.7,116.2h1.1M278.4,116.2h1.1M293,116.2h30.2M346.3,116.2h69M1.9,120.4h1.1M11.6,120.4h35M60.1,120.4h44.7M118.3,120.4h5.9M152.3,120.4h35M195.9,120.4h1.1M205.6,120.4h49.6M268.7,120.4h5.9M283.3,120.4h20.5M326.9,120.4h44.7M380.3,120.4h20.5M409.4,120.4h5.9M11.6,124.7h10.8M35.9,124.7h5.9M60.1,124.7h49.6M118.3,124.7h5.9M132.9,124.7h10.8M152.3,124.7h30.2M191.1,124.7h1.1M200.8,124.7h25.3M234.8,124.7h39.9M283.3,124.7h15.6M322.1,124.7h1.1M365.7,124.7h5.9M380.3,124.7h5.9M394.8,124.7h10.8M414.2,124.7h1.1M11.6,128.9h5.9M60.1,128.9h1.1M79.5,128.9h5.9M94.1,128.9h1.1M103.8,128.9h1.1M118.3,128.9h1.1M142.6,128.9h1.1M152.3,128.9h10.8M186.2,128.9h5.9M205.6,128.9h15.6M239.6,128.9h1.1M254.2,128.9h1.1M268.7,128.9h1.1M278.4,128.9h1.1M293,128.9h5.9M365.7,128.9h1.1M380.3,128.9h5.9M409.4,128.9h5.9M6.8,133.1h5.9M21.3,133.1h1.1M40.7,133.1h1.1M79.5,133.1h5.9M94.1,133.1h1.1M108.6,133.1h5.9M132.9,133.1h1.1M181.4,133.1h10.8M210.5,133.1h5.9M239.6,133.1h1.1M263.9,133.1h5.9M293,133.1h5.9M370.6,133.1h1.1M380.3,133.1h5.9M414.2,133.1h1.1M1.9,137.3h1.1M11.6,137.3h5.9M26.2,137.3h1.1M69.8,137.3h15.6M128,137.3h1.1M137.7,137.3h20.5M181.4,137.3h30.2M239.6,137.3h1.1M249.3,137.3h1.1M288.1,137.3h1.1M297.8,137.3h1.1M317.2,137.3h1.1M380.3,137.3h5.9M394.8,137.3h1.1M11.6,141.6h1.1M21.3,141.6h5.9M69.8,141.6h5.9M84.4,141.6h10.8M123.2,141.6h1.1M132.9,141.6h15.6M166.8,141.6h1.1M176.5,141.6h1.1M186.2,141.6h5.9M200.8,141.6h20.5M239.6,141.6h1.1M346.3,141.6h5.9M380.3,141.6h5.9M11.6,145.8h1.1M35.9,145.8h1.1M79.5,145.8h30.2M118.3,145.8h5.9M137.7,145.8h15.6M162,145.8h20.5M191.1,145.8h5.9M205.6,145.8h5.9M220.2,145.8h1.1M234.8,145.8h44.7M336.6,145.8h20.5M365.7,145.8h1.1M380.3,145.8h25.3M40.7,150h1.1M50.4,150h1.1M84.4,150h10.8M108.6,150h15.6M132.9,150h5.9M147.4,150h1.1M157.1,150h15.6M181.4,150h15.6M205.6,150h5.9M220.2,150h1.1M234.8,150h20.5M297.8,150h1.1M336.6,150h5.9M351.2,150h5.9M380.3,150h25.3M26.2,154.2h1.1M35.9,154.2h1.1M50.4,154.2h5.9M69.8,154.2h10.8M89.2,154.2h1.1M103.8,154.2h30.2M142.6,154.2h20.5M171.7,154.2h39.9M229.9,154.2h1.1M249.3,154.2h10.8M268.7,154.2h1.1M288.1,154.2h1.1M302.7,154.2h10.8M326.9,154.2h10.8M380.3,154.2h1.1M394.8,154.2h1.1M16.5,158.5h1.1M50.4,158.5h10.8M69.8,158.5h10.8M89.2,158.5h5.9M113.5,158.5h1.1M128,158.5h35M171.7,158.5h39.9M220.2,158.5h1.1M244.5,158.5h25.3M283.3,158.5h1.1M312.4,158.5h1.1M322.1,158.5h15.6M356,158.5h1.1M409.4,158.5h1.1M1.9,162.7h1.1M26.2,162.7h1.1M40.7,162.7h1.1M50.4,162.7h1.1M69.8,162.7h5.9M89.2,162.7h10.8M108.6,162.7h1.1M147.4,162.7h25.3M181.4,162.7h1.1M239.6,162.7h5.9M254.2,162.7h1.1M273.6,162.7h1.1M293,162.7h1.1M302.7,162.7h25.3M336.6,162.7h1.1M6.8,166.9h1.1M35.9,166.9h1.1M45.6,166.9h1.1M55.3,166.9h5.9M74.7,166.9h1.1M89.2,166.9h1.1M98.9,166.9h15.6M147.4,166.9h35M191.1,166.9h1.1M200.8,166.9h1.1M210.5,166.9h1.1M239.6,166.9h1.1M249.3,166.9h10.8M312.4,166.9h15.6M336.6,166.9h1.1M356,166.9h1.1M394.8,166.9h1.1M31,171.1h15.6M60.1,171.1h1.1M84.4,171.1h20.5M162,171.1h1.1M176.5,171.1h1.1M191.1,171.1h1.1M220.2,171.1h10.8M249.3,171.1h1.1M259,171.1h1.1M283.3,171.1h10.8M307.5,171.1h5.9M322.1,171.1h5.9M336.6,171.1h1.1M351.2,171.1h5.9M414.2,171.1h1.1M6.8,175.4h1.1M40.7,175.4h15.6M94.1,175.4h10.8M157.1,175.4h1.1M166.8,175.4h1.1M181.4,175.4h10.8M215.4,175.4h15.6M293,175.4h10.8M317.2,175.4h20.5M346.3,175.4h10.8M1.9,179.6h5.9M45.6,179.6h10.8M89.2,179.6h15.6M157.1,179.6h1.1M166.8,179.6h1.1M215.4,179.6h5.9M239.6,179.6h5.9M293,179.6h5.9M317.2,179.6h1.1M336.6,179.6h10.8M390,179.6h5.9M1.9,183.8h5.9M40.7,183.8h1.1M84.4,183.8h20.5M157.1,183.8h1.1M166.8,183.8h1.1M215.4,183.8h5.9M239.6,183.8h1.1M326.9,183.8h20.5M385.1,183.8h1.1M394.8,183.8h1.1M404.5,183.8h1.1M1.9,188h1.1M40.7,188h1.1M84.4,188h20.5M157.1,188h1.1M166.8,188h1.1M176.5,188h20.5M205.6,188h1.1M215.4,188h5.9M317.2,188h1.1M331.8,188h15.6M414.2,188h1.1M1.9,192.3h1.1M40.7,192.3h1.1M84.4,192.3h20.5M157.1,192.3h1.1M166.8,192.3h1.1M210.5,192.3h10.8M331.8,192.3h15.6M414.2,192.3h1.1M1.9,196.5h1.1M40.7,196.5h1.1M84.4,196.5h20.5M157.1,196.5h1.1M166.8,196.5h1.1M220.2,196.5h1.1M331.8,196.5h15.6M414.2,196.5h1.1" stroke="#f0c490" stroke-width="5.2" stroke-linecap="round" fill="none"/><path d="M16.5,2.1h49.6M176.5,2.1h5.9M234.8,2.1h20.5M322.1,2.1h20.5M351.2,2.1h5.9M1.9,6.3h64.1M176.5,6.3h5.9M234.8,6.3h20.5M317.2,6.3h20.5M351.2,6.3h5.9M1.9,10.6h64.1M176.5,10.6h5.9M215.4,10.6h5.9M234.8,10.6h20.5M326.9,10.6h35M370.6,10.6h1.1M1.9,14.8h64.1M176.5,14.8h5.9M215.4,14.8h5.9M234.8,14.8h69M336.6,14.8h20.5M16.5,19h49.6M142.6,19h39.9M215.4,19h88.4M399.7,19h1.1M6.8,23.2h64.1M142.6,23.2h25.3M176.5,23.2h5.9M205.6,23.2h1.1M215.4,23.2h10.8M234.8,23.2h64.1M341.5,23.2h1.1M390,23.2h1.1M399.7,23.2h1.1M6.8,27.5h10.8M55.3,27.5h20.5M142.6,27.5h25.3M176.5,27.5h1.1M191.1,27.5h1.1M215.4,27.5h39.9M263.9,27.5h35M341.5,27.5h5.9M380.3,27.5h1.1M6.8,31.7h10.8M55.3,31.7h20.5M142.6,31.7h1.1M152.3,31.7h15.6M186.2,31.7h1.1M200.8,31.7h1.1M220.2,31.7h35M268.7,31.7h5.9M341.5,31.7h1.1M351.2,31.7h5.9M380.3,31.7h15.6M1.9,35.9h15.6M55.3,35.9h20.5M142.6,35.9h1.1M166.8,35.9h5.9M191.1,35.9h1.1M220.2,35.9h1.1M234.8,35.9h15.6M263.9,35.9h5.9M307.5,35.9h1.1M356,35.9h1.1M370.6,35.9h5.9M414.2,35.9h1.1M6.8,40.1h1.1M35.9,40.1h39.9M162,40.1h5.9M176.5,40.1h1.1M215.4,40.1h5.9M244.5,40.1h5.9M263.9,40.1h5.9M307.5,40.1h1.1M351.2,40.1h5.9M365.7,40.1h5.9M390,40.1h1.1M31,44.4h44.7M113.5,44.4h30.2M200.8,44.4h1.1M215.4,44.4h5.9M234.8,44.4h5.9M259,44.4h10.8M307.5,44.4h1.1M326.9,44.4h1.1M341.5,44.4h1.1M351.2,44.4h5.9M375.4,44.4h1.1M31,48.6h44.7M123.2,48.6h25.3M186.2,48.6h1.1M215.4,48.6h10.8M234.8,48.6h15.6M259,48.6h10.8M307.5,48.6h1.1M317.2,48.6h5.9M356,48.6h1.1M31,52.8h44.7M128,52.8h15.6M205.6,52.8h1.1M249.3,52.8h10.8M307.5,52.8h1.1M346.3,52.8h1.1M365.7,52.8h5.9M31,57h44.7M132.9,57h10.8M263.9,57h5.9M322.1,57h1.1M385.1,57h1.1M31,61.3h5.9M74.7,61.3h1.1M137.7,61.3h1.1M162,61.3h1.1M171.7,61.3h10.8M215.4,61.3h1.1M249.3,61.3h10.8M336.6,61.3h1.1M380.3,61.3h1.1M31,65.5h1.1M55.3,65.5h5.9M69.8,65.5h5.9M84.4,65.5h5.9M162,65.5h20.5M191.1,65.5h5.9M254.2,65.5h1.1M356,65.5h5.9M390,65.5h1.1M123.2,69.7h10.8M210.5,69.7h1.1M249.3,69.7h1.1M356,69.7h1.1M370.6,69.7h1.1M385.1,69.7h1.1M103.8,73.9h1.1M123.2,73.9h10.8M200.8,73.9h1.1M229.9,73.9h1.1M239.6,73.9h1.1M336.6,73.9h1.1M60.1,103.5h5.9M103.8,103.5h1.1M152.3,103.5h15.6M181.4,103.5h1.1M200.8,103.5h1.1M283.3,103.5h1.1M297.8,103.5h1.1M6.8,107.8h15.6M50.4,107.8h1.1M65,107.8h1.1M98.9,107.8h10.8M152.3,107.8h20.5M210.5,107.8h5.9M239.6,107.8h1.1M263.9,107.8h5.9M288.1,107.8h1.1M26.2,112h20.5M60.1,112h1.1M69.8,112h1.1M79.5,112h1.1M98.9,112h5.9M118.3,112h1.1M152.3,112h15.6M195.9,112h1.1M259,112h1.1M273.6,112h1.1M288.1,112h1.1M307.5,112h1.1M322.1,112h1.1M55.3,116.2h1.1M89.2,116.2h1.1M98.9,116.2h1.1M118.3,116.2h1.1M152.3,116.2h10.8M195.9,116.2h1.1M205.6,116.2h1.1M263.9,116.2h1.1M273.6,116.2h1.1M283.3,116.2h5.9M326.9,116.2h15.6M6.8,120.4h1.1M50.4,120.4h5.9M108.6,120.4h5.9M128,120.4h20.5M191.1,120.4h1.1M200.8,120.4h1.1M259,120.4h5.9M278.4,120.4h1.1M307.5,120.4h15.6M375.4,120.4h1.1M404.5,120.4h1.1M1.9,124.7h5.9M26.2,124.7h5.9M45.6,124.7h10.8M113.5,124.7h1.1M128,124.7h1.1M147.4,124.7h1.1M186.2,124.7h1.1M195.9,124.7h1.1M229.9,124.7h1.1M278.4,124.7h1.1M302.7,124.7h15.6M326.9,124.7h35M375.4,124.7h1.1M390,124.7h1.1M409.4,124.7h1.1M1.9,128.9h5.9M21.3,128.9h35M65,128.9h10.8M89.2,128.9h1.1M98.9,128.9h1.1M108.6,128.9h5.9M123.2,128.9h15.6M147.4,128.9h1.1M166.8,128.9h15.6M195.9,128.9h5.9M225.1,128.9h10.8M244.5,128.9h5.9M259,128.9h5.9M273.6,128.9h1.1M283.3,128.9h5.9M302.7,128.9h59.3M370.6,128.9h5.9M390,128.9h15.6M1.9,133.1h1.1M16.5,133.1h1.1M26.2,133.1h10.8M45.6,133.1h30.2M89.2,133.1h1.1M98.9,133.1h5.9M118.3,133.1h10.8M137.7,133.1h39.9M195.9,133.1h10.8M220.2,133.1h15.6M244.5,133.1h15.6M273.6,133.1h15.6M302.7,133.1h64.1M375.4,133.1h1.1M390,133.1h20.5M6.8,137.3h1.1M21.3,137.3h1.1M31,137.3h35M89.2,137.3h35M132.9,137.3h1.1M162,137.3h15.6M215.4,137.3h20.5M244.5,137.3h1.1M254.2,137.3h30.2M293,137.3h1.1M302.7,137.3h10.8M322.1,137.3h54.4M390,137.3h1.1M399.7,137.3h15.6M1.9,141.6h5.9M16.5,141.6h1.1M31,141.6h35M79.5,141.6h1.1M98.9,141.6h20.5M128,141.6h1.1M152.3,141.6h10.8M171.7,141.6h1.1M181.4,141.6h1.1M195.9,141.6h1.1M225.1,141.6h10.8M244.5,141.6h98.1M356,141.6h20.5M390,141.6h25.3M1.9,145.8h5.9M16.5,145.8h15.6M40.7,145.8h35M113.5,145.8h1.1M128,145.8h5.9M157.1,145.8h1.1M186.2,145.8h1.1M200.8,145.8h1.1M215.4,145.8h1.1M225.1,145.8h5.9M283.3,145.8h49.6M360.9,145.8h1.1M370.6,145.8h5.9M409.4,145.8h5.9M1.9,150h35M45.6,150h1.1M55.3,150h25.3M98.9,150h5.9M128,150h1.1M142.6,150h1.1M152.3,150h1.1M176.5,150h1.1M200.8,150h1.1M215.4,150h1.1M225.1,150h5.9M259,150h35M302.7,150h30.2M346.3,150h1.1M360.9,150h15.6M409.4,150h5.9M1.9,154.2h20.5M31,154.2h1.1M40.7,154.2h5.9M60.1,154.2h5.9M84.4,154.2h1.1M94.1,154.2h5.9M137.7,154.2h1.1M166.8,154.2h1.1M215.4,154.2h10.8M234.8,154.2h10.8M263.9,154.2h1.1M273.6,154.2h10.8M293,154.2h5.9M317.2,154.2h5.9M341.5,154.2h35M385.1,154.2h5.9M399.7,154.2h15.6M1.9,158.5h10.8M21.3,158.5h25.3M65,158.5h1.1M84.4,158.5h1.1M98.9,158.5h10.8M118.3,158.5h5.9M166.8,158.5h1.1M215.4,158.5h1.1M225.1,158.5h15.6M273.6,158.5h5.9M288.1,158.5h20.5M317.2,158.5h1.1M341.5,158.5h10.8M360.9,158.5h44.7M414.2,158.5h1.1M6.8,162.7h15.6M31,162.7h5.9M45.6,162.7h1.1M55.3,162.7h10.8M79.5,162.7h5.9M103.8,162.7h1.1M113.5,162.7h30.2M176.5,162.7h1.1M186.2,162.7h49.6M249.3,162.7h1.1M259,162.7h10.8M278.4,162.7h10.8M297.8,162.7h1.1M331.8,162.7h1.1M341.5,162.7h73.8M1.9,166.9h1.1M11.6,166.9h20.5M40.7,166.9h1.1M50.4,166.9h1.1M65,166.9h5.9M79.5,166.9h5.9M94.1,166.9h1.1M118.3,166.9h25.3M186.2,166.9h1.1M195.9,166.9h1.1M205.6,166.9h1.1M215.4,166.9h20.5M244.5,166.9h1.1M263.9,166.9h44.7M331.8,166.9h1.1M341.5,166.9h10.8M360.9,166.9h30.2M399.7,166.9h15.6M1.9,171.1h25.3M50.4,171.1h5.9M65,171.1h15.6M108.6,171.1h49.6M166.8,171.1h5.9M181.4,171.1h5.9M195.9,171.1h20.5M234.8,171.1h10.8M254.2,171.1h1.1M263.9,171.1h15.6M297.8,171.1h5.9M317.2,171.1h1.1M331.8,171.1h1.1M360.9,171.1h49.6M1.9,175.4h1.1M11.6,175.4h25.3M60.1,175.4h30.2M108.6,175.4h44.7M162,175.4h1.1M171.7,175.4h5.9M195.9,175.4h15.6M234.8,175.4h54.4M307.5,175.4h5.9M360.9,175.4h54.4M11.6,179.6h30.2M60.1,179.6h25.3M108.6,179.6h44.7M162,179.6h1.1M171.7,179.6h1.1M195.9,179.6h15.6M225.1,179.6h10.8M249.3,179.6h39.9M302.7,179.6h10.8M322.1,179.6h10.8M370.6,179.6h15.6M399.7,179.6h15.6M11.6,183.8h25.3M45.6,183.8h35M108.6,183.8h44.7M162,183.8h1.1M171.7,183.8h1.1M195.9,183.8h15.6M225.1,183.8h10.8M244.5,183.8h78.7M370.6,183.8h10.8M390,183.8h1.1M399.7,183.8h1.1M409.4,183.8h5.9M6.8,188h30.2M45.6,188h35M108.6,188h44.7M162,188h1.1M171.7,188h1.1M200.8,188h1.1M210.5,188h1.1M225.1,188h35M273.6,188h5.9M312.4,188h1.1M399.7,188h10.8M6.8,192.3h30.2M45.6,192.3h35M108.6,192.3h44.7M162,192.3h1.1M171.7,192.3h35M225.1,192.3h35M273.6,192.3h5.9M312.4,192.3h5.9M399.7,192.3h10.8M6.8,196.5h30.2M45.6,196.5h35M108.6,196.5h44.7M162,196.5h1.1M171.7,196.5h44.7M225.1,196.5h25.3M273.6,196.5h54.4M390,196.5h20.5" stroke="#c815b0" stroke-width="5.2" stroke-linecap="round" fill="none"/>
<use href="#nodata"/>
<rect x="0" y="77.4" width="417.2" height="23.3" fill="#e4e4e4"/>
<use href="#land"/>
</g>
<rect x="0" y="0" width="417.2" height="198.6" fill="none" stroke="#000" stroke-width="2.2"/>
<path d="M0,-1v-3.6M0,199.6v3.6M69.5,-1v-3.6M69.5,199.6v3.6M139.1,-1v-3.6M139.1,199.6v3.6M208.6,-1v-3.6M208.6,199.6v3.6M278.1,-1v-3.6M278.1,199.6v3.6M347.7,-1v-3.6M347.7,199.6v3.6M417.2,-1v-3.6M417.2,199.6v3.6M-1,9.5h-3.6M418.2,9.5h3.6M-1,53.2h-3.6M418.2,53.2h3.6M-1,89h-3.6M418.2,89h3.6M-1,124.8h-3.6M418.2,124.8h3.6M-1,168.5h-3.6M418.2,168.5h3.6" stroke="#000" stroke-width="2.2" fill="none"/>
<text x="1.5" y="219.3" font-size="17.33" text-anchor="middle">0°</text>
<text x="71.5" y="219.3" font-size="17.33" text-anchor="middle">60°E</text>
<text x="141.1" y="219.3" font-size="17.33" text-anchor="middle">120°E</text>
<text x="210.1" y="219.3" font-size="17.33" text-anchor="middle">180°</text>
<text x="280.1" y="219.3" font-size="17.33" text-anchor="middle">120°W</text>
<text x="349.7" y="219.3" font-size="17.33" text-anchor="middle">60°W</text>
<text x="418.7" y="219.3" font-size="17.33" text-anchor="middle">0°</text>
<text x="-9" y="16.8" font-size="17.33" text-anchor="end">60°N</text>
<text x="-9" y="60.5" font-size="17.33" text-anchor="end">30°N</text>
<text x="-9" y="96.3" font-size="17.33" text-anchor="end">0°</text>
<text x="-9" y="132.1" font-size="17.33" text-anchor="end">30°S</text>
<text x="-9" y="175.8" font-size="17.33" text-anchor="end">60°S</text>
<text x="208.6" y="246.8" font-size="17.33" text-anchor="middle" fill="#262626">Longitude</text>
<text transform="translate(-60.5,97.4) rotate(-90)" font-size="17.33" text-anchor="middle" fill="#262626">Latitude</text>
<text x="208.2" y="-4.3" font-size="17.33" text-anchor="middle">Contribution of second dominant sources in winter</text>
<text x="-17" y="-6.9" font-size="22.8" font-weight="bold">f</text>
</g>
<g transform="translate(748.7,597.6)">
<g clip-path="url(#cp)">
<path d="M1.9,2.1h64.1M137.7,2.1h73.8M225.1,2.1h64.1M322.1,2.1h20.5M351.2,2.1h64.1M1.9,6.3h10.8M26.2,6.3h39.9M132.9,6.3h78.7M225.1,6.3h69M317.2,6.3h20.5M351.2,6.3h15.6M375.4,6.3h39.9M1.9,10.6h10.8M128,10.6h59.3M195.9,10.6h10.8M215.4,10.6h83.5M326.9,10.6h30.2M365.7,10.6h1.1M380.3,10.6h25.3M1.9,14.8h10.8M123.2,14.8h44.7M176.5,14.8h25.3M215.4,14.8h25.3M249.3,14.8h54.4M336.6,14.8h20.5M394.8,14.8h5.9M1.9,19h10.8M65,19h1.1M118.3,19h20.5M171.7,19h30.2M215.4,19h1.1M225.1,19h5.9M244.5,19h15.6M268.7,19h35M336.6,19h30.2M414.2,19h1.1M1.9,23.2h15.6M55.3,23.2h15.6M113.5,23.2h25.3M147.4,23.2h54.4M215.4,23.2h5.9M229.9,23.2h30.2M268.7,23.2h30.2M336.6,23.2h15.6M360.9,23.2h10.8M399.7,23.2h1.1M414.2,23.2h1.1M6.8,27.5h69M108.6,27.5h30.2M147.4,27.5h10.8M166.8,27.5h44.7M225.1,27.5h1.1M244.5,27.5h54.4M336.6,27.5h49.6M6.8,31.7h69M108.6,31.7h30.2M147.4,31.7h30.2M186.2,31.7h25.3M225.1,31.7h15.6M249.3,31.7h25.3M307.5,31.7h78.7M394.8,31.7h1.1M1.9,35.9h73.8M108.6,35.9h30.2M147.4,35.9h30.2M186.2,35.9h1.1M205.6,35.9h10.8M234.8,35.9h1.1M244.5,35.9h5.9M259,35.9h10.8M341.5,35.9h1.1M351.2,35.9h25.3M385.1,35.9h1.1M414.2,35.9h1.1M1.9,40.1h10.8M21.3,40.1h1.1M35.9,40.1h39.9M142.6,40.1h10.8M166.8,40.1h5.9M181.4,40.1h10.8M205.6,40.1h1.1M239.6,40.1h30.2M341.5,40.1h1.1M351.2,40.1h35M414.2,40.1h1.1M1.9,44.4h10.8M26.2,44.4h1.1M35.9,44.4h39.9M113.5,44.4h30.2M157.1,44.4h10.8M191.1,44.4h15.6M263.9,44.4h1.1M356,44.4h10.8M375.4,44.4h10.8M414.2,44.4h1.1M1.9,48.6h25.3M50.4,48.6h25.3M113.5,48.6h30.2M157.1,48.6h15.6M195.9,48.6h30.2M244.5,48.6h1.1M263.9,48.6h5.9M326.9,48.6h5.9M351.2,48.6h35M1.9,52.8h25.3M45.6,52.8h30.2M113.5,52.8h5.9M147.4,52.8h5.9M166.8,52.8h1.1M186.2,52.8h5.9M215.4,52.8h1.1M239.6,52.8h1.1M273.6,52.8h1.1M341.5,52.8h10.8M365.7,52.8h1.1M380.3,52.8h1.1M1.9,57h25.3M45.6,57h25.3M113.5,57h5.9M152.3,57h1.1M191.1,57h1.1M254.2,57h1.1M263.9,57h1.1M278.4,57h1.1M336.6,57h5.9M356,57h5.9M1.9,61.3h25.3M40.7,61.3h25.3M113.5,61.3h5.9M147.4,61.3h10.8M191.1,61.3h1.1M341.5,61.3h10.8M360.9,61.3h5.9M385.1,61.3h30.2M1.9,65.5h25.3M55.3,65.5h10.8M147.4,65.5h15.6M186.2,65.5h1.1M195.9,65.5h1.1M288.1,65.5h5.9M341.5,65.5h5.9M360.9,65.5h5.9M390,65.5h25.3M1.9,69.7h20.5M152.3,69.7h10.8M263.9,69.7h5.9M278.4,69.7h1.1M341.5,69.7h5.9M365.7,69.7h49.6M11.6,73.9h5.9M147.4,73.9h15.6M186.2,73.9h1.1M263.9,73.9h5.9M341.5,73.9h5.9M360.9,73.9h30.2M128,107.8h1.1M215.4,107.8h1.1M225.1,107.8h1.1M326.9,107.8h20.5M191.1,112h1.1M414.2,112h1.1M26.2,116.2h1.1M346.3,116.2h1.1M390,116.2h1.1M404.5,116.2h10.8M26.2,120.4h1.1M273.6,120.4h1.1M341.5,120.4h5.9M404.5,120.4h10.8M1.9,124.7h1.1M45.6,124.7h1.1M268.7,124.7h1.1M322.1,124.7h1.1M341.5,124.7h10.8M404.5,124.7h10.8M1.9,128.9h1.1M31,128.9h1.1M60.1,128.9h5.9M195.9,128.9h1.1M229.9,128.9h1.1M341.5,128.9h15.6M399.7,128.9h15.6M6.8,133.1h10.8M60.1,133.1h5.9M79.5,133.1h10.8M162,133.1h1.1M195.9,133.1h1.1M215.4,133.1h15.6M297.8,133.1h1.1M346.3,133.1h10.8M385.1,133.1h1.1M399.7,133.1h1.1M409.4,133.1h1.1M1.9,137.3h15.6M31,137.3h5.9M50.4,137.3h5.9M69.8,137.3h5.9M89.2,137.3h1.1M103.8,137.3h1.1M195.9,137.3h15.6M229.9,137.3h20.5M259,137.3h1.1M278.4,137.3h1.1M341.5,137.3h5.9M356,137.3h15.6M380.3,137.3h5.9M399.7,137.3h5.9M414.2,137.3h1.1M6.8,141.6h15.6M31,141.6h1.1M50.4,141.6h10.8M69.8,141.6h1.1M98.9,141.6h1.1M195.9,141.6h15.6M225.1,141.6h30.2M263.9,141.6h1.1M293,141.6h1.1M302.7,141.6h1.1M346.3,141.6h1.1M356,141.6h5.9M370.6,141.6h1.1M409.4,141.6h5.9M1.9,145.8h15.6M31,145.8h15.6M69.8,145.8h15.6M98.9,145.8h1.1M108.6,145.8h1.1M118.3,145.8h15.6M195.9,145.8h1.1M205.6,145.8h5.9M229.9,145.8h5.9M254.2,145.8h1.1M263.9,145.8h15.6M341.5,145.8h15.6M370.6,145.8h1.1M390,145.8h10.8M409.4,145.8h5.9M1.9,150h15.6M31,150h1.1M40.7,150h5.9M55.3,150h1.1M74.7,150h1.1M84.4,150h1.1M98.9,150h5.9M118.3,150h15.6M142.6,150h5.9M195.9,150h15.6M225.1,150h1.1M234.8,150h39.9M322.1,150h1.1M341.5,150h15.6M375.4,150h1.1M390,150h1.1M409.4,150h5.9M6.8,154.2h10.8M31,154.2h15.6M69.8,154.2h5.9M94.1,154.2h1.1M118.3,154.2h25.3M225.1,154.2h15.6M249.3,154.2h1.1M263.9,154.2h5.9M302.7,154.2h1.1M341.5,154.2h5.9M356,154.2h1.1M375.4,154.2h10.8M399.7,154.2h15.6M1.9,158.5h1.1M11.6,158.5h5.9M35.9,158.5h10.8M69.8,158.5h10.8M89.2,158.5h5.9M118.3,158.5h1.1M128,158.5h15.6M152.3,158.5h1.1M195.9,158.5h1.1M225.1,158.5h25.3M263.9,158.5h10.8M317.2,158.5h1.1M331.8,158.5h1.1M346.3,158.5h10.8M370.6,158.5h10.8M399.7,158.5h15.6M1.9,162.7h5.9M31,162.7h15.6M98.9,162.7h5.9M118.3,162.7h25.3M162,162.7h1.1M195.9,162.7h5.9M225.1,162.7h10.8M244.5,162.7h5.9M263.9,162.7h10.8M346.3,162.7h1.1M360.9,162.7h1.1M375.4,162.7h39.9M1.9,166.9h5.9M21.3,166.9h1.1M35.9,166.9h10.8M60.1,166.9h5.9M98.9,166.9h1.1M118.3,166.9h25.3M225.1,166.9h10.8M244.5,166.9h5.9M263.9,166.9h15.6M302.7,166.9h1.1M341.5,166.9h5.9M365.7,166.9h1.1M380.3,166.9h20.5M409.4,166.9h5.9M1.9,171.1h1.1M11.6,171.1h35M79.5,171.1h5.9M98.9,171.1h5.9M118.3,171.1h39.9M176.5,171.1h5.9M195.9,171.1h5.9M210.5,171.1h54.4M273.6,171.1h10.8M302.7,171.1h5.9M326.9,171.1h1.1M341.5,171.1h73.8M6.8,175.4h20.5M35.9,175.4h5.9M69.8,175.4h1.1M79.5,175.4h5.9M98.9,175.4h5.9M118.3,175.4h15.6M142.6,175.4h5.9M157.1,175.4h5.9M176.5,175.4h5.9M195.9,175.4h5.9M215.4,175.4h64.1M288.1,175.4h1.1M346.3,175.4h49.6M404.5,175.4h10.8M1.9,179.6h49.6M69.8,179.6h1.1M98.9,179.6h5.9M118.3,179.6h20.5M147.4,179.6h5.9M162,179.6h5.9M205.6,179.6h1.1M215.4,179.6h1.1M234.8,179.6h1.1M244.5,179.6h30.2M283.3,179.6h30.2M322.1,179.6h10.8M346.3,179.6h1.1M380.3,179.6h25.3M414.2,179.6h1.1M1.9,183.8h1.1M11.6,183.8h44.7M69.8,183.8h1.1M98.9,183.8h5.9M118.3,183.8h54.4M215.4,183.8h5.9M234.8,183.8h1.1M244.5,183.8h1.1M254.2,183.8h83.5M346.3,183.8h1.1M380.3,183.8h35M1.9,188h5.9M16.5,188h39.9M69.8,188h1.1M98.9,188h5.9M118.3,188h88.4M215.4,188h1.1M225.1,188h1.1M239.6,188h20.5M273.6,188h5.9M312.4,188h5.9M331.8,188h5.9M346.3,188h1.1M399.7,188h15.6M1.9,192.3h54.4M69.8,192.3h1.1M98.9,192.3h5.9M118.3,192.3h102.9M244.5,192.3h15.6M273.6,192.3h5.9M312.4,192.3h5.9M331.8,192.3h5.9M346.3,192.3h1.1M414.2,192.3h1.1M1.9,196.5h54.4M69.8,196.5h1.1M98.9,196.5h5.9M118.3,196.5h49.6M215.4,196.5h5.9M229.9,196.5h10.8M273.6,196.5h64.1M346.3,196.5h1.1M414.2,196.5h1.1" stroke="#33d4d6" stroke-width="5.2" stroke-linecap="round" fill="none"/><path d="M16.5,6.3h5.9M16.5,10.6h49.6M191.1,10.6h1.1M210.5,10.6h1.1M360.9,10.6h1.1M16.5,14.8h49.6M171.7,14.8h1.1M205.6,14.8h5.9M244.5,14.8h1.1M360.9,14.8h10.8M390,14.8h1.1M404.5,14.8h1.1M16.5,19h44.7M142.6,19h25.3M205.6,19h5.9M220.2,19h1.1M234.8,19h5.9M263.9,19h1.1M390,19h20.5M21.3,23.2h30.2M142.6,23.2h1.1M205.6,23.2h5.9M225.1,23.2h1.1M263.9,23.2h1.1M356,23.2h1.1M390,23.2h5.9M404.5,23.2h5.9M1.9,27.5h1.1M103.8,27.5h1.1M142.6,27.5h1.1M162,27.5h1.1M215.4,27.5h5.9M234.8,27.5h1.1M394.8,27.5h1.1M404.5,27.5h10.8M1.9,31.7h1.1M103.8,31.7h1.1M142.6,31.7h1.1M181.4,31.7h1.1M215.4,31.7h5.9M244.5,31.7h1.1M278.4,31.7h20.5M390,31.7h1.1M409.4,31.7h5.9M103.8,35.9h1.1M142.6,35.9h1.1M181.4,35.9h1.1M191.1,35.9h5.9M220.2,35.9h10.8M239.6,35.9h1.1M254.2,35.9h1.1M273.6,35.9h25.3M312.4,35.9h25.3M346.3,35.9h1.1M380.3,35.9h1.1M394.8,35.9h1.1M404.5,35.9h5.9M103.8,40.1h35M157.1,40.1h1.1M176.5,40.1h1.1M195.9,40.1h5.9M210.5,40.1h10.8M229.9,40.1h5.9M273.6,40.1h20.5M312.4,40.1h25.3M346.3,40.1h1.1M390,40.1h5.9M404.5,40.1h5.9M31,44.4h1.1M103.8,44.4h5.9M147.4,44.4h5.9M171.7,44.4h1.1M181.4,44.4h5.9M210.5,44.4h10.8M229.9,44.4h15.6M268.7,44.4h25.3M312.4,44.4h39.9M370.6,44.4h1.1M390,44.4h1.1M31,48.6h15.6M103.8,48.6h5.9M147.4,48.6h5.9M176.5,48.6h15.6M229.9,48.6h10.8M249.3,48.6h10.8M273.6,48.6h20.5M317.2,48.6h5.9M336.6,48.6h1.1M346.3,48.6h1.1M390,48.6h25.3M31,52.8h10.8M103.8,52.8h5.9M123.2,52.8h20.5M157.1,52.8h5.9M195.9,52.8h1.1M234.8,52.8h1.1M244.5,52.8h25.3M283.3,52.8h10.8M331.8,52.8h5.9M356,52.8h5.9M370.6,52.8h5.9M385.1,52.8h5.9M404.5,52.8h10.8M31,57h10.8M74.7,57h1.1M103.8,57h5.9M123.2,57h15.6M147.4,57h1.1M157.1,57h10.8M176.5,57h1.1M195.9,57h5.9M234.8,57h15.6M259,57h1.1M268.7,57h5.9M283.3,57h10.8M326.9,57h5.9M346.3,57h5.9M365.7,57h20.5M31,61.3h5.9M69.8,61.3h5.9M103.8,61.3h5.9M123.2,61.3h10.8M142.6,61.3h1.1M162,61.3h10.8M181.4,61.3h1.1M200.8,61.3h1.1M215.4,61.3h1.1M234.8,61.3h49.6M293,61.3h15.6M322.1,61.3h10.8M356,61.3h1.1M370.6,61.3h1.1M380.3,61.3h1.1M31,65.5h20.5M69.8,65.5h1.1M94.1,65.5h49.6M166.8,65.5h15.6M191.1,65.5h1.1M200.8,65.5h1.1M234.8,65.5h49.6M297.8,65.5h1.1M317.2,65.5h1.1M326.9,65.5h1.1M351.2,65.5h5.9M380.3,65.5h5.9M26.2,69.7h30.2M79.5,69.7h10.8M108.6,69.7h25.3M147.4,69.7h1.1M166.8,69.7h25.3M200.8,69.7h5.9M220.2,69.7h1.1M234.8,69.7h25.3M273.6,69.7h1.1M283.3,69.7h5.9M317.2,69.7h10.8M351.2,69.7h10.8M1.9,73.9h5.9M21.3,73.9h35M65,73.9h1.1M79.5,73.9h10.8M108.6,73.9h25.3M171.7,73.9h1.1M181.4,73.9h1.1M191.1,73.9h1.1M234.8,73.9h25.3M273.6,73.9h15.6M317.2,73.9h15.6M351.2,73.9h5.9M394.8,73.9h20.5M31,103.5h30.2M69.8,103.5h5.9M84.4,103.5h1.1M113.5,103.5h20.5M191.1,103.5h39.9M249.3,103.5h1.1M268.7,103.5h78.7M6.8,107.8h49.6M74.7,107.8h1.1M118.3,107.8h5.9M132.9,107.8h1.1M191.1,107.8h20.5M229.9,107.8h5.9M263.9,107.8h5.9M283.3,107.8h39.9M1.9,112h30.2M40.7,112h44.7M94.1,112h5.9M118.3,112h5.9M132.9,112h5.9M181.4,112h5.9M195.9,112h15.6M234.8,112h88.4M351.2,112h20.5M380.3,112h1.1M390,112h20.5M1.9,116.2h20.5M31,116.2h1.1M40.7,116.2h39.9M108.6,116.2h1.1M118.3,116.2h30.2M176.5,116.2h44.7M234.8,116.2h20.5M268.7,116.2h1.1M278.4,116.2h64.1M351.2,116.2h10.8M399.7,116.2h1.1M1.9,120.4h1.1M11.6,120.4h10.8M31,120.4h1.1M40.7,120.4h54.4M103.8,120.4h20.5M142.6,120.4h30.2M191.1,120.4h10.8M210.5,120.4h1.1M234.8,120.4h35M278.4,120.4h59.3M351.2,120.4h39.9M399.7,120.4h1.1M6.8,124.7h20.5M35.9,124.7h5.9M50.4,124.7h20.5M79.5,124.7h39.9M128,124.7h1.1M152.3,124.7h64.1M225.1,124.7h1.1M234.8,124.7h30.2M273.6,124.7h44.7M326.9,124.7h10.8M356,124.7h44.7M6.8,128.9h20.5M35.9,128.9h20.5M69.8,128.9h59.3M137.7,128.9h54.4M200.8,128.9h25.3M234.8,128.9h102.9M360.9,128.9h30.2M1.9,133.1h1.1M21.3,133.1h35M69.8,133.1h5.9M94.1,133.1h15.6M118.3,133.1h5.9M137.7,133.1h20.5M166.8,133.1h20.5M200.8,133.1h10.8M234.8,133.1h59.3M302.7,133.1h39.9M360.9,133.1h20.5M390,133.1h5.9M404.5,133.1h1.1M414.2,133.1h1.1M21.3,137.3h5.9M40.7,137.3h5.9M60.1,137.3h5.9M79.5,137.3h5.9M94.1,137.3h5.9M108.6,137.3h83.5M215.4,137.3h10.8M254.2,137.3h1.1M263.9,137.3h10.8M283.3,137.3h54.4M351.2,137.3h1.1M375.4,137.3h1.1M390,137.3h5.9M409.4,137.3h1.1M1.9,141.6h1.1M26.2,141.6h1.1M35.9,141.6h10.8M65,141.6h1.1M74.7,141.6h20.5M103.8,141.6h88.4M215.4,141.6h5.9M259,141.6h1.1M273.6,141.6h15.6M297.8,141.6h1.1M307.5,141.6h35M351.2,141.6h1.1M365.7,141.6h1.1M375.4,141.6h1.1M385.1,141.6h20.5M21.3,145.8h5.9M50.4,145.8h15.6M89.2,145.8h5.9M103.8,145.8h1.1M113.5,145.8h1.1M137.7,145.8h54.4M200.8,145.8h1.1M215.4,145.8h10.8M239.6,145.8h10.8M259,145.8h1.1M283.3,145.8h54.4M360.9,145.8h5.9M375.4,145.8h10.8M404.5,145.8h1.1M21.3,150h5.9M35.9,150h1.1M60.1,150h10.8M79.5,150h1.1M89.2,150h5.9M108.6,150h5.9M137.7,150h1.1M152.3,150h39.9M215.4,150h5.9M229.9,150h1.1M278.4,150h39.9M326.9,150h10.8M360.9,150h10.8M380.3,150h1.1M394.8,150h10.8M1.9,154.2h1.1M21.3,154.2h5.9M50.4,154.2h15.6M79.5,154.2h10.8M98.9,154.2h15.6M147.4,154.2h73.8M244.5,154.2h1.1M254.2,154.2h5.9M273.6,154.2h25.3M307.5,154.2h25.3M351.2,154.2h1.1M360.9,154.2h10.8M390,154.2h5.9M6.8,158.5h1.1M21.3,158.5h10.8M50.4,158.5h15.6M84.4,158.5h1.1M98.9,158.5h15.6M147.4,158.5h1.1M157.1,158.5h35M200.8,158.5h20.5M254.2,158.5h5.9M278.4,158.5h35M322.1,158.5h5.9M336.6,158.5h5.9M360.9,158.5h5.9M385.1,158.5h10.8M11.6,162.7h15.6M50.4,162.7h20.5M79.5,162.7h15.6M108.6,162.7h5.9M147.4,162.7h10.8M166.8,162.7h25.3M205.6,162.7h15.6M239.6,162.7h1.1M254.2,162.7h5.9M278.4,162.7h30.2M322.1,162.7h20.5M351.2,162.7h5.9M365.7,162.7h5.9M11.6,166.9h5.9M26.2,166.9h5.9M50.4,166.9h5.9M69.8,166.9h25.3M103.8,166.9h10.8M147.4,166.9h73.8M239.6,166.9h1.1M254.2,166.9h5.9M283.3,166.9h15.6M307.5,166.9h1.1M317.2,166.9h20.5M351.2,166.9h10.8M370.6,166.9h5.9M404.5,166.9h1.1M6.8,171.1h1.1M50.4,171.1h25.3M89.2,171.1h5.9M108.6,171.1h5.9M162,171.1h10.8M186.2,171.1h5.9M205.6,171.1h1.1M268.7,171.1h1.1M288.1,171.1h10.8M312.4,171.1h10.8M331.8,171.1h5.9M1.9,175.4h1.1M31,175.4h1.1M45.6,175.4h20.5M74.7,175.4h1.1M89.2,175.4h5.9M108.6,175.4h5.9M137.7,175.4h1.1M152.3,175.4h1.1M166.8,175.4h5.9M186.2,175.4h5.9M205.6,175.4h5.9M283.3,175.4h1.1M293,175.4h10.8M312.4,175.4h30.2M399.7,175.4h1.1M55.3,179.6h10.8M74.7,179.6h1.1M89.2,179.6h5.9M108.6,179.6h5.9M157.1,179.6h1.1M171.7,179.6h1.1M210.5,179.6h1.1M220.2,179.6h10.8M239.6,179.6h1.1M278.4,179.6h1.1M317.2,179.6h1.1M336.6,179.6h5.9M409.4,179.6h1.1M6.8,183.8h1.1M60.1,183.8h5.9M74.7,183.8h1.1M84.4,183.8h10.8M108.6,183.8h5.9M205.6,183.8h5.9M225.1,183.8h5.9M239.6,183.8h1.1M249.3,183.8h1.1M341.5,183.8h1.1M11.6,188h1.1M60.1,188h5.9M74.7,188h20.5M108.6,188h5.9M210.5,188h1.1M220.2,188h1.1M229.9,188h5.9M341.5,188h1.1M60.1,192.3h5.9M74.7,192.3h20.5M108.6,192.3h5.9M225.1,192.3h15.6M341.5,192.3h1.1M399.7,192.3h10.8M60.1,196.5h5.9M74.7,196.5h20.5M108.6,196.5h5.9M171.7,196.5h39.9M225.1,196.5h1.1M244.5,196.5h1.1M341.5,196.5h1.1M390,196.5h20.5" stroke="#9e1830" stroke-width="5.2" stroke-linecap="round" fill="none"/><path d="M370.6,6.3h1.1M370.6,10.6h5.9M307.5,14.8h1.1M331.8,14.8h1.1M375.4,14.8h10.8M307.5,19h25.3M370.6,19h15.6M302.7,23.2h30.2M375.4,23.2h10.8M79.5,27.5h5.9M98.9,27.5h1.1M229.9,27.5h1.1M239.6,27.5h1.1M302.7,27.5h30.2M390,27.5h1.1M399.7,27.5h1.1M79.5,31.7h20.5M302.7,31.7h1.1M399.7,31.7h5.9M79.5,35.9h20.5M200.8,35.9h1.1M302.7,35.9h5.9M390,35.9h1.1M399.7,35.9h1.1M16.5,40.1h1.1M26.2,40.1h5.9M79.5,40.1h20.5M162,40.1h1.1M225.1,40.1h1.1M297.8,40.1h10.8M399.7,40.1h1.1M16.5,44.4h5.9M79.5,44.4h20.5M176.5,44.4h1.1M225.1,44.4h1.1M249.3,44.4h10.8M297.8,44.4h10.8M394.8,44.4h15.6M79.5,48.6h20.5M297.8,48.6h15.6M341.5,48.6h1.1M79.5,52.8h20.5M171.7,52.8h10.8M200.8,52.8h10.8M220.2,52.8h10.8M278.4,52.8h1.1M297.8,52.8h30.2M394.8,52.8h5.9M79.5,57h20.5M142.6,57h1.1M171.7,57h1.1M181.4,57h5.9M205.6,57h25.3M297.8,57h25.3M390,57h25.3M79.5,61.3h20.5M137.7,61.3h1.1M176.5,61.3h1.1M186.2,61.3h1.1M195.9,61.3h1.1M205.6,61.3h5.9M220.2,61.3h10.8M288.1,61.3h1.1M312.4,61.3h5.9M336.6,61.3h1.1M375.4,61.3h1.1M74.7,65.5h15.6M205.6,65.5h25.3M302.7,65.5h10.8M322.1,65.5h1.1M331.8,65.5h5.9M370.6,65.5h5.9M60.1,69.7h15.6M94.1,69.7h10.8M137.7,69.7h5.9M195.9,69.7h1.1M210.5,69.7h5.9M225.1,69.7h5.9M293,69.7h20.5M331.8,69.7h5.9M60.1,73.9h1.1M69.8,73.9h5.9M94.1,73.9h10.8M137.7,73.9h5.9M166.8,73.9h1.1M176.5,73.9h1.1M195.9,73.9h35M293,73.9h20.5M336.6,73.9h1.1M1.9,103.5h25.3M65,103.5h1.1M79.5,103.5h1.1M89.2,103.5h20.5M137.7,103.5h49.6M234.8,103.5h10.8M254.2,103.5h10.8M351.2,103.5h64.1M1.9,107.8h1.1M60.1,107.8h10.8M79.5,107.8h35M137.7,107.8h49.6M220.2,107.8h1.1M239.6,107.8h20.5M273.6,107.8h5.9M351.2,107.8h64.1M35.9,112h1.1M89.2,112h1.1M103.8,112h10.8M128,112h1.1M142.6,112h35M215.4,112h15.6M326.9,112h20.5M375.4,112h1.1M385.1,112h1.1M35.9,116.2h1.1M84.4,116.2h20.5M113.5,116.2h1.1M152.3,116.2h20.5M225.1,116.2h5.9M259,116.2h5.9M273.6,116.2h1.1M365.7,116.2h20.5M394.8,116.2h1.1M6.8,120.4h1.1M35.9,120.4h1.1M98.9,120.4h1.1M128,120.4h10.8M176.5,120.4h10.8M205.6,120.4h1.1M215.4,120.4h15.6M394.8,120.4h1.1M31,124.7h1.1M74.7,124.7h1.1M123.2,124.7h1.1M132.9,124.7h15.6M220.2,124.7h1.1M229.9,124.7h1.1M132.9,128.9h1.1M394.8,128.9h1.1M113.5,133.1h1.1M128,133.1h5.9M191.1,133.1h1.1M268.7,141.6h1.1M380.3,141.6h1.1M50.4,150h1.1M385.1,150h1.1M336.6,154.2h1.1M123.2,158.5h1.1M74.7,162.7h1.1M312.4,162.7h5.9M312.4,166.9h1.1M307.5,175.4h1.1M142.6,179.6h1.1M249.3,196.5h1.1" stroke="#f0c490" stroke-width="5.2" stroke-linecap="round" fill="none"/>
<use href="#nodata"/>
<rect x="0" y="77.4" width="417.2" height="23.3" fill="#e4e4e4"/>
<use href="#land"/>
</g>
<rect x="0" y="0" width="417.2" height="198.6" fill="none" stroke="#000" stroke-width="2.2"/>
<path d="M0,-1v-3.6M0,199.6v3.6M69.5,-1v-3.6M69.5,199.6v3.6M139.1,-1v-3.6M139.1,199.6v3.6M208.6,-1v-3.6M208.6,199.6v3.6M278.1,-1v-3.6M278.1,199.6v3.6M347.7,-1v-3.6M347.7,199.6v3.6M417.2,-1v-3.6M417.2,199.6v3.6M-1,9.5h-3.6M418.2,9.5h3.6M-1,53.2h-3.6M418.2,53.2h3.6M-1,89h-3.6M418.2,89h3.6M-1,124.8h-3.6M418.2,124.8h3.6M-1,168.5h-3.6M418.2,168.5h3.6" stroke="#000" stroke-width="2.2" fill="none"/>
<text x="1.5" y="219.3" font-size="17.33" text-anchor="middle">0°</text>
<text x="71.5" y="219.3" font-size="17.33" text-anchor="middle">60°E</text>
<text x="141.1" y="219.3" font-size="17.33" text-anchor="middle">120°E</text>
<text x="210.1" y="219.3" font-size="17.33" text-anchor="middle">180°</text>
<text x="280.1" y="219.3" font-size="17.33" text-anchor="middle">120°W</text>
<text x="349.7" y="219.3" font-size="17.33" text-anchor="middle">60°W</text>
<text x="418.7" y="219.3" font-size="17.33" text-anchor="middle">0°</text>
<text x="-9" y="16.8" font-size="17.33" text-anchor="end">60°N</text>
<text x="-9" y="60.5" font-size="17.33" text-anchor="end">30°N</text>
<text x="-9" y="96.3" font-size="17.33" text-anchor="end">0°</text>
<text x="-9" y="132.1" font-size="17.33" text-anchor="end">30°S</text>
<text x="-9" y="175.8" font-size="17.33" text-anchor="end">60°S</text>
<text x="208.6" y="246.8" font-size="17.33" text-anchor="middle" fill="#262626">Longitude</text>
<text transform="translate(-60.5,97.4) rotate(-90)" font-size="17.33" text-anchor="middle" fill="#262626">Latitude</text>
<text x="208.2" y="-4.3" font-size="17.33" text-anchor="middle">Contribution of first dominant sources in summer</text>
<text x="-17" y="-6.9" font-size="22.8" font-weight="bold">g</text>
</g>
<g transform="translate(748.7,876.3)">
<g clip-path="url(#cp)">
<path d="M1.9,2.1h204.8M225.1,2.1h117.5M356,2.1h30.2M394.8,2.1h20.5M1.9,6.3h199.9M225.1,6.3h112.6M351.2,6.3h30.2M390,6.3h25.3M1.9,10.6h166M176.5,10.6h132M326.9,10.6h30.2M365.7,10.6h49.6M1.9,14.8h161.1M176.5,14.8h132M331.8,14.8h83.5M1.9,19h364.9M375.4,19h39.9M1.9,23.2h204.8M215.4,23.2h127.2M351.2,23.2h64.1M1.9,27.5h199.9M210.5,27.5h204.8M1.9,31.7h408.5M1.9,35.9h209.7M234.8,35.9h93.2M336.6,35.9h49.6M409.4,35.9h5.9M1.9,40.1h413.4M1.9,44.4h219.4M229.9,44.4h10.8M249.3,44.4h69M326.9,44.4h88.4M1.9,48.6h175.7M186.2,48.6h10.8M205.6,48.6h170.8M399.7,48.6h15.6M1.9,52.8h161.1M205.6,52.8h5.9M234.8,52.8h35M278.4,52.8h20.5M331.8,52.8h5.9M370.6,52.8h15.6M394.8,52.8h20.5M1.9,57h297M331.8,57h83.5M1.9,61.3h54.4M79.5,61.3h15.6M108.6,61.3h15.6M147.4,61.3h64.1M234.8,61.3h64.1M341.5,61.3h73.8M1.9,65.5h54.4M79.5,65.5h15.6M108.6,65.5h15.6M147.4,65.5h35M234.8,65.5h64.1M341.5,65.5h5.9M370.6,65.5h44.7M1.9,69.7h35M50.4,69.7h5.9M69.8,69.7h15.6M108.6,69.7h73.8M244.5,69.7h44.7M351.2,69.7h64.1M1.9,73.9h35M50.4,73.9h5.9M69.8,73.9h15.6M108.6,73.9h73.8M244.5,73.9h44.7M351.2,73.9h64.1M21.3,103.5h15.6M50.4,103.5h5.9M69.8,103.5h5.9M98.9,103.5h15.6M137.7,103.5h35M195.9,103.5h5.9M234.8,103.5h5.9M283.3,103.5h5.9M312.4,103.5h5.9M331.8,103.5h35M21.3,107.8h15.6M50.4,107.8h5.9M69.8,107.8h5.9M98.9,107.8h15.6M137.7,107.8h35M195.9,107.8h5.9M234.8,107.8h5.9M283.3,107.8h5.9M312.4,107.8h5.9M331.8,107.8h35M11.6,112h73.8M118.3,112h54.4M186.2,112h35M254.2,112h5.9M283.3,112h15.6M322.1,112h44.7M11.6,116.2h73.8M118.3,116.2h54.4M186.2,116.2h35M254.2,116.2h5.9M283.3,116.2h15.6M322.1,116.2h44.7M6.8,120.4h78.7M108.6,120.4h102.9M244.5,120.4h64.1M317.2,120.4h59.3M1.9,124.7h83.5M108.6,124.7h102.9M244.5,124.7h132M1.9,128.9h122.3M132.9,128.9h127.2M268.7,128.9h49.6M326.9,128.9h88.4M1.9,133.1h1.1M11.6,133.1h166M186.2,133.1h10.8M205.6,133.1h10.8M225.1,133.1h127.2M360.9,133.1h54.4M1.9,137.3h15.6M26.2,137.3h49.6M84.4,137.3h69M162,137.3h10.8M181.4,137.3h127.2M317.2,137.3h69M394.8,137.3h20.5M1.9,141.6h321.2M331.8,141.6h83.5M1.9,145.8h5.9M16.5,145.8h10.8M35.9,145.8h30.2M74.7,145.8h127.2M210.5,145.8h146.6M365.7,145.8h49.6M1.9,150h39.9M50.4,150h49.6M108.6,150h30.2M147.4,150h30.2M186.2,150h30.2M225.1,150h190.2M6.8,154.2h127.2M142.6,154.2h10.8M162,154.2h49.6M220.2,154.2h30.2M259,154.2h69M336.6,154.2h69M414.2,154.2h1.1M1.9,158.5h10.8M21.3,158.5h10.8M40.7,158.5h30.2M79.5,158.5h107.8M195.9,158.5h10.8M215.4,158.5h107.8M331.8,158.5h49.6M390,158.5h25.3M1.9,162.7h5.9M16.5,162.7h49.6M74.7,162.7h10.8M94.1,162.7h10.8M113.5,162.7h49.6M171.7,162.7h107.8M288.1,162.7h30.2M326.9,162.7h30.2M365.7,162.7h49.6M1.9,166.9h78.7M89.2,166.9h10.8M108.6,166.9h30.2M147.4,166.9h166M322.1,166.9h10.8M341.5,166.9h10.8M360.9,166.9h10.8M380.3,166.9h10.8M399.7,166.9h15.6M1.9,171.1h248.5M259,171.1h49.6M317.2,171.1h98.1M1.9,175.4h10.8M21.3,175.4h49.6M79.5,175.4h185.4M273.6,175.4h30.2M312.4,175.4h69M390,175.4h25.3M1.9,179.6h180.5M210.5,179.6h49.6M268.7,179.6h30.2M307.5,179.6h39.9M370.6,179.6h44.7M1.9,183.8h180.5M205.6,183.8h49.6M263.9,183.8h83.5M370.6,183.8h44.7M1.9,188h229.1M239.6,188h39.9M322.1,188h25.3M380.3,188h35M1.9,192.3h224.2M234.8,192.3h112.6M380.3,192.3h35M1.9,196.5h258.2M273.6,196.5h73.8M380.3,196.5h35" stroke="#c815b0" stroke-width="5.2" stroke-linecap="round" fill="none"/><path d="M351.2,2.1h1.1M390,2.1h1.1M385.1,6.3h1.1M360.9,10.6h1.1M370.6,19h1.1M210.5,23.2h1.1M346.3,23.2h1.1M205.6,27.5h1.1M414.2,31.7h1.1M215.4,35.9h15.6M331.8,35.9h1.1M390,35.9h15.6M225.1,44.4h1.1M244.5,44.4h1.1M322.1,44.4h1.1M181.4,48.6h1.1M200.8,48.6h1.1M380.3,48.6h15.6M166.8,52.8h35M215.4,52.8h15.6M273.6,52.8h1.1M302.7,52.8h25.3M341.5,52.8h25.3M390,52.8h1.1M302.7,57h25.3M60.1,61.3h15.6M98.9,61.3h5.9M128,61.3h15.6M215.4,61.3h15.6M302.7,61.3h35M60.1,65.5h15.6M98.9,65.5h5.9M128,65.5h15.6M186.2,65.5h44.7M302.7,65.5h35M351.2,65.5h15.6M40.7,69.7h5.9M60.1,69.7h5.9M89.2,69.7h15.6M186.2,69.7h54.4M293,69.7h54.4M40.7,73.9h5.9M60.1,73.9h5.9M89.2,73.9h15.6M186.2,73.9h54.4M293,73.9h54.4M1.9,103.5h15.6M40.7,103.5h5.9M60.1,103.5h5.9M79.5,103.5h15.6M118.3,103.5h15.6M176.5,103.5h15.6M205.6,103.5h25.3M244.5,103.5h35M293,103.5h15.6M322.1,103.5h5.9M370.6,103.5h44.7M1.9,107.8h15.6M40.7,107.8h5.9M60.1,107.8h5.9M79.5,107.8h15.6M118.3,107.8h15.6M176.5,107.8h15.6M205.6,107.8h25.3M244.5,107.8h35M293,107.8h15.6M322.1,107.8h5.9M370.6,107.8h44.7M1.9,112h5.9M89.2,112h25.3M176.5,112h5.9M225.1,112h25.3M263.9,112h15.6M302.7,112h15.6M370.6,112h44.7M1.9,116.2h5.9M89.2,116.2h25.3M176.5,116.2h5.9M225.1,116.2h25.3M263.9,116.2h15.6M302.7,116.2h15.6M370.6,116.2h44.7M1.9,120.4h1.1M89.2,120.4h15.6M215.4,120.4h25.3M312.4,120.4h1.1M380.3,120.4h35M89.2,124.7h15.6M215.4,124.7h25.3M380.3,124.7h35M128,128.9h1.1M263.9,128.9h1.1M322.1,128.9h1.1M6.8,133.1h1.1M181.4,133.1h1.1M200.8,133.1h1.1M220.2,133.1h1.1M356,133.1h1.1M21.3,137.3h1.1M79.5,137.3h1.1M157.1,137.3h1.1M176.5,137.3h1.1M312.4,137.3h1.1M390,137.3h1.1M326.9,141.6h1.1M11.6,145.8h1.1M31,145.8h1.1M69.8,145.8h1.1M205.6,145.8h1.1M360.9,145.8h1.1M45.6,150h1.1M103.8,150h1.1M142.6,150h1.1M181.4,150h1.1M220.2,150h1.1M1.9,154.2h1.1M137.7,154.2h1.1M157.1,154.2h1.1M215.4,154.2h1.1M254.2,154.2h1.1M331.8,154.2h1.1M409.4,154.2h1.1M16.5,158.5h1.1M35.9,158.5h1.1M74.7,158.5h1.1M191.1,158.5h1.1M210.5,158.5h1.1M326.9,158.5h1.1M385.1,158.5h1.1M11.6,162.7h1.1M69.8,162.7h1.1M89.2,162.7h1.1M108.6,162.7h1.1M166.8,162.7h1.1M283.3,162.7h1.1M322.1,162.7h1.1M360.9,162.7h1.1M84.4,166.9h1.1M103.8,166.9h1.1M142.6,166.9h1.1M317.2,166.9h1.1M336.6,166.9h1.1M356,166.9h1.1M375.4,166.9h1.1M394.8,166.9h1.1M254.2,171.1h1.1M312.4,171.1h1.1M16.5,175.4h1.1M74.7,175.4h1.1M268.7,175.4h1.1M307.5,175.4h1.1M385.1,175.4h1.1M205.6,179.6h1.1M263.9,179.6h1.1M302.7,179.6h1.1M259,183.8h1.1M234.8,188h1.1M229.9,192.3h1.1" stroke="#f0c490" stroke-width="5.2" stroke-linecap="round" fill="none"/>
<use href="#nodata"/>
<rect x="0" y="77.4" width="417.2" height="23.3" fill="#e4e4e4"/>
<use href="#land"/>
</g>
<rect x="0" y="0" width="417.2" height="198.6" fill="none" stroke="#000" stroke-width="2.2"/>
<path d="M0,-1v-3.6M0,199.6v3.6M69.5,-1v-3.6M69.5,199.6v3.6M139.1,-1v-3.6M139.1,199.6v3.6M208.6,-1v-3.6M208.6,199.6v3.6M278.1,-1v-3.6M278.1,199.6v3.6M347.7,-1v-3.6M347.7,199.6v3.6M417.2,-1v-3.6M417.2,199.6v3.6M-1,9.5h-3.6M418.2,9.5h3.6M-1,53.2h-3.6M418.2,53.2h3.6M-1,89h-3.6M418.2,89h3.6M-1,124.8h-3.6M418.2,124.8h3.6M-1,168.5h-3.6M418.2,168.5h3.6" stroke="#000" stroke-width="2.2" fill="none"/>
<text x="1.5" y="219.3" font-size="17.33" text-anchor="middle">0°</text>
<text x="71.5" y="219.3" font-size="17.33" text-anchor="middle">60°E</text>
<text x="141.1" y="219.3" font-size="17.33" text-anchor="middle">120°E</text>
<text x="210.1" y="219.3" font-size="17.33" text-anchor="middle">180°</text>
<text x="280.1" y="219.3" font-size="17.33" text-anchor="middle">120°W</text>
<text x="349.7" y="219.3" font-size="17.33" text-anchor="middle">60°W</text>
<text x="418.7" y="219.3" font-size="17.33" text-anchor="middle">0°</text>
<text x="-9" y="16.8" font-size="17.33" text-anchor="end">60°N</text>
<text x="-9" y="60.5" font-size="17.33" text-anchor="end">30°N</text>
<text x="-9" y="96.3" font-size="17.33" text-anchor="end">0°</text>
<text x="-9" y="132.1" font-size="17.33" text-anchor="end">30°S</text>
<text x="-9" y="175.8" font-size="17.33" text-anchor="end">60°S</text>
<text x="208.6" y="246.8" font-size="17.33" text-anchor="middle" fill="#262626">Longitude</text>
<text transform="translate(-60.5,97.4) rotate(-90)" font-size="17.33" text-anchor="middle" fill="#262626">Latitude</text>
<text x="208.2" y="-4.3" font-size="17.33" text-anchor="middle">Contribution of second dominant sources in summer</text>
<text x="-17" y="-6.9" font-size="22.8" font-weight="bold">h</text>
</g>
<defs><linearGradient id="tan" x1="0" y1="0" x2="0" y2="1"><stop offset="0" stop-color="#e8b78a"/><stop offset="1" stop-color="#f3cd9a"/></linearGradient></defs>
<rect x="570.9" y="251.7" width="20.4" height="149.2" fill="#c8400a"/><rect x="570.9" y="400.9" width="20.4" height="165.5" fill="#4e5b8e"/><rect x="570.9" y="566.4" width="20.4" height="138.5" fill="#ff6a27"/><rect x="570.9" y="704.9" width="20.4" height="152.8" fill="#169dfe"/><rect x="571.7" y="252.5" width="18.8" height="604.4" fill="none" stroke="#262626" stroke-width="1.6"/><text x="599.2" y="325.6" font-size="17.7" fill="#262626">AGSP</text><path d="M590.1,319.6h-1.6" stroke="#262626" stroke-width="1"/><text x="599.2" y="485.1" font-size="17.7" fill="#262626">LSP</text><path d="M590.1,479.1h-1.6" stroke="#262626" stroke-width="1"/><text x="599.2" y="641.9" font-size="17.7" fill="#262626">GSP</text><path d="M590.1,635.9h-1.6" stroke="#262626" stroke-width="1"/><text x="599.2" y="785.1" font-size="17.7" fill="#262626">VBP</text><path d="M590.1,779.1h-1.6" stroke="#262626" stroke-width="1"/>
<rect x="1191.1" y="251.6" width="19.8" height="146.3" fill="#33d4d6"/><rect x="1191.1" y="397.9" width="19.8" height="154.4" fill="#9e1830"/><rect x="1191.1" y="552.3" width="19.8" height="155.6" fill="url(#tan)"/><rect x="1191.1" y="707.9" width="19.8" height="149.5" fill="#c815b0"/><rect x="1191.9" y="252.4" width="18.2" height="604.2" fill="none" stroke="#262626" stroke-width="1.6"/><text x="1219.6" y="321.8" font-size="17.7" fill="#262626"><tspan font-family="Liberation Serif,serif" font-size="21.5" dy="1.5">≥</tspan><tspan dy="-1.5">75%</tspan></text><path d="M1209.7,315.8h-1.6" stroke="#262626" stroke-width="1"/><text x="1219.6" y="478.3" font-size="17.7" fill="#262626">50%~75%</text><path d="M1209.7,472.3h-1.6" stroke="#262626" stroke-width="1"/><text x="1219.6" y="635.5" font-size="17.7" fill="#262626">25%~49%</text><path d="M1209.7,629.5h-1.6" stroke="#262626" stroke-width="1"/><text x="1219.6" y="792.6" font-size="17.7" fill="#262626">&lt;25%</text><path d="M1209.7,786.6h-1.6" stroke="#262626" stroke-width="1"/>
</svg></body></html>
